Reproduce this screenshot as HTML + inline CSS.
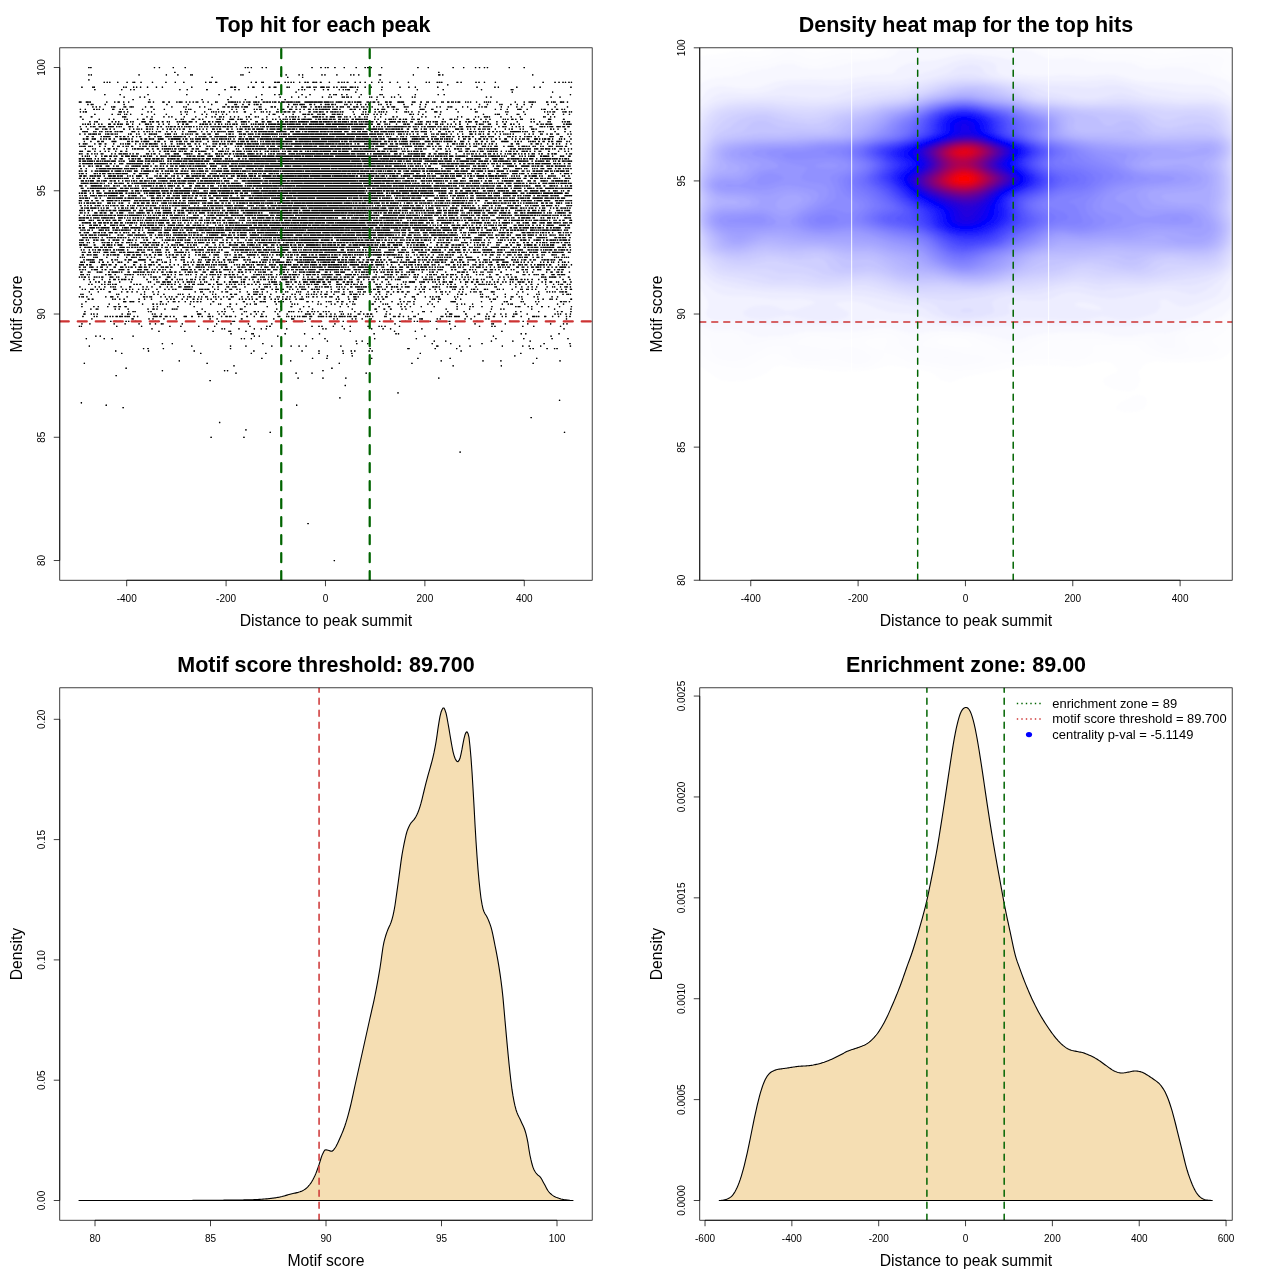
<!DOCTYPE html>
<html><head><meta charset="utf-8"><title>Motif enrichment</title>
<style>html,body{margin:0;padding:0;background:#fff;overflow:hidden}svg{display:block}</style></head><body>
<svg width="1280" height="1280" viewBox="0 0 1280 1280" font-family="'Liberation Sans', Arial, Helvetica, sans-serif" fill="#000">
<defs><filter id="bl" x="-5%" y="-5%" width="110%" height="110%"><feGaussianBlur stdDeviation="1.2"/></filter></defs>
<rect width="1280" height="1280" fill="#fff"/>
<clipPath id="cb1"><rect x="59.76" y="47.81" width="532.43" height="532.43"/></clipPath>
<clipPath id="cb2"><rect x="699.76" y="47.81" width="532.43" height="532.43"/></clipPath>
<clipPath id="cb3"><rect x="59.76" y="687.81" width="532.43" height="532.43"/></clipPath>
<clipPath id="cb4"><rect x="699.76" y="687.81" width="532.43" height="532.43"/></clipPath>
<defs><path id="pts" transform="matrix(0.2485 0 0 2.4650 76.330 67.53)" d="M48 0h5m3 0h5m251 0h5m15 0h5m51 0h5m43 0h5m237 0h5m5 0h5m9 0h5m39 0h5m11 0h5m179 0h5m31 0h5m13 0h5m5 0h5m23 0h5m33 0h5m43 0h5m31 0h5m5 0h9m5 0h5m37 0h5m141 0h5m37 0h5m95 0h5m37 0h5m43 0h5m11 0h5m15 0h5m7 0h5m83 0h5m55 0h5M394 2h5m295 0h5m757 0h5M48 3h5m5 0h5m187 0h5m105 0h5m41 0h5m47 0h5m1 0h5m191 0h5m3 0h5m147 0h5m17 0h5m47 0h5m9 0h5m73 0h5m7 0h5m43 0h5m51 0h5m7 0h5m15 0h5m39 0h5m33 0h5m1 0h5m127 0h5m97 0h9m7 0h5m357 0h5M544 4h5m299 0h5m55 0h5M48 5h5m1167 0h5M110 6h5m7 0h5m5 0h5m27 0h5m33 0h5m19 0h5m1 0h5m21 0h5m41 0h5m49 0h5m33 0h5m29 0h5m83 0h5m11 0h5m1 0h5m13 0h9m135 0h5m13 0h7m17 0h5m1 0h5m41 0h9m3 0h11m19 0h5m7 0h5m7 0h5m5 0h5m19 0h5m17 0h7m3 0h7m15 0h9m3 0h7m11 0h7m29 0h5m31 0h7m7 0h5m5 0h5m7 0h7m25 0h5m15 0h5m15 0h5m21 0h5m23 0h5m9 0h5m27 0h5m25 0h5m39 0h5m67 0h5m7 0h5m27 0h5m3 0h7m3 0h5m57 0h7m9 0h5m55 0h5m7 0h5m17 0h5m39 0h5m187 0h5m43 0h5m11 0h5m11 0h5m5 0h5m9 0h5m5 0h5M1492 7h5M20 8h5m39 0h5m1 0h5m113 0h5m5 0h5m25 0h5m7 0h5m11 0h5m23 0h5m31 0h5m19 0h5m113 0h5m153 0h9m5 0h9m47 0h5m13 0h9m33 0h5m19 0h7m13 0h5m1 0h5m41 0h5m3 0h5m47 0h7m13 0h5m3 0h9m11 0h5m3 0h5m15 0h17m7 0h5m3 0h5m15 0h5m7 0h5m13 0h7m3 0h5m3 0h5m13 0h9m1 0h5m5 0h5m5 0h5m25 0h5m19 0h5m39 0h5m67 0h5m31 0h5m21 0h5m85 0h5m153 0h5m67 0h5m9 0h5m69 0h5m65 0h5m19 0h5m119 0h5M72 9h5m103 0h5m31 0h5m9 0h5m179 0h5m25 0h5m73 0h7m67 0h5m35 0h5m11 0h5m235 0h5m9 0h5m5 0h5m35 0h5m31 0h5m13 0h7m39 0h5m11 0h5m5 0h5m3 0h11m27 0h5m93 0h5m139 0h5m99 0h5m149 0h5m115 0h5m1 0h5M882 10h5m235 0h5m625 0h5m157 0h5M112 11h5m57 0h5m107 0h5m151 0h5m125 0h5m167 0h5m47 0h5m13 0h5m87 0h5m27 0h5m75 0h5m11 0h5m3 0h7m17 0h5m15 0h5m53 0h5m71 0h5m3 0h5m61 0h5m63 0h5m87 0h5m19 0h5m503 0h5M190 12h5m59 0h5m13 0h5m343 0h5m97 0h5m91 0h5m41 0h5m23 0h5m25 0h5m61 0h5m21 0h5m5 0h5m39 0h7m1 0h5m5 0h5m1 0h5m7 0h5m27 0h5m37 0h5m3 0h5m17 0h5m21 0h5m27 0h5m7 0h5m19 0h5m43 0h5m5 0h5m283 0h5m13 0h5m237 0h5m31 0h5M226 13h5m61 0h5m207 0h5m99 0h5m65 0h5m61 0h5m89 0h5m363 0h5M10 14h11m17 0h9m1 0h5m1 0h5m61 0h5m27 0h5m9 0h9m13 0h5m15 0h5m75 0h5m1 0h5m9 0h5m33 0h9m15 0h7m25 0h5m5 0h9m1 0h5m13 0h5m9 0h5m9 0h5m7 0h5m1 0h5m17 0h5m15 0h5m25 0h5m1 0h5m41 0h5m1 0h5m1 0h9m1 0h5m1 0h5m3 0h5m5 0h5m11 0h5m7 0h5m3 0h9m11 0h5m1 0h9m3 0h7m13 0h5m1 0h5m3 0h9m3 0h7m5 0h5m3 0h9m7 0h7m5 0h15m3 0h5m1 0h11m1 0h11m3 0h5m3 0h9m1 0h9m17 0h35m1 0h15m1 0h21m5 0h23m3 0h5m3 0h5m9 0h5m1 0h21m9 0h5m7 0h11m5 0h5m5 0h7m3 0h19m21 0h5m1 0h5m3 0h5m5 0h11m9 0h7m23 0h11m5 0h11m23 0h13m1 0h13m31 0h5m1 0h9m19 0h7m17 0h5m1 0h5m13 0h5m3 0h5m23 0h5m1 0h5m13 0h9m7 0h5m1 0h5m5 0h5m5 0h11m19 0h5m5 0h5m5 0h5m19 0h5m27 0h5m3 0h5m3 0h5m3 0h5m21 0h5m69 0h5m31 0h5m15 0h5m1 0h5m1 0h9m3 0h5m41 0h9m11 0h5m3 0h5m1 0h5m17 0h9m1 0h7m11 0h5M44 15h5m9 0h5m1 0h5m45 0h5m71 0h5m167 0h5m81 0h5m89 0h5m53 0h5m31 0h5m1 0h5m21 0h5m19 0h7m15 0h5m3 0h5m1 0h5m7 0h5m107 0h5m15 0h5m1 0h5m3 0h5m7 0h15m1 0h5m19 0h9m9 0h5m21 0h5m13 0h7m3 0h9m7 0h9m5 0h5m33 0h5m3 0h5m11 0h5m21 0h5m9 0h5m15 0h5m7 0h5m35 0h5m5 0h5m19 0h5m9 0h5m49 0h5m27 0h5m29 0h5m17 0h5m211 0h5m27 0h5m45 0h5m3 0h5m31 0h5m21 0h5m23 0h5m27 0h5m59 0h5m29 0h5M64 16h5m9 0h5m9 0h5m43 0h5m3 0h9m33 0h5m1 0h5m13 0h5m1 0h5m1 0h5m45 0h5m17 0h9m75 0h5m43 0h5m5 0h5m49 0h5m15 0h5m69 0h5m1 0h5m9 0h9m7 0h9m5 0h5m1 0h5m1 0h5m9 0h5m5 0h17m43 0h5m1 0h5m37 0h9m5 0h7m19 0h5m21 0h7m11 0h5m11 0h5m17 0h5m3 0h15m15 0h5m13 0h9m3 0h9m3 0h5m5 0h5m1 0h7m3 0h9m1 0h5m5 0h5m11 0h7m7 0h5m1 0h5m1 0h5m13 0h5m1 0h5m13 0h7m3 0h11m11 0h5m3 0h5m9 0h5m15 0h5m39 0h5m13 0h9m9 0h5m1 0h9m35 0h5m1 0h5m3 0h5m43 0h5m17 0h5m41 0h5m9 0h5m27 0h5m3 0h5m1 0h5m39 0h5m15 0h5m41 0h5m7 0h5m7 0h5m1 0h5m55 0h5m23 0h5m29 0h5m15 0h5m33 0h5m91 0h5m45 0h5M14 17h5m15 0h5m29 0h7m5 0h5m5 0h5m11 0h5m33 0h9m21 0h5m5 0h5m13 0h5m57 0h5m41 0h5m37 0h5m81 0h5m7 0h5m3 0h5m67 0h5m3 0h5m25 0h5m51 0h5m13 0h5m25 0h5m37 0h5m5 0h5m7 0h5m1 0h5m13 0h5m43 0h5m13 0h5m1 0h5m19 0h13m13 0h7m9 0h5m11 0h5m13 0h11m9 0h5m5 0h9m5 0h7m3 0h11m1 0h11m1 0h5m1 0h5m9 0h5m1 0h9m1 0h5m7 0h5m37 0h11m5 0h9m13 0h5m11 0h5m1 0h9m11 0h5m15 0h5m5 0h7m11 0h9m1 0h5m31 0h5m7 0h5m1 0h5m29 0h5m51 0h7m1 0h5m1 0h5m27 0h9m53 0h5m31 0h5m55 0h5m11 0h5m77 0h5m17 0h5m21 0h5m37 0h5m1 0h11m21 0h5m53 0h5m5 0h9m23 0h5m13 0h9m13 0h5m5 0h5M14 18h5m7 0h5m3 0h9m127 0h13m7 0h5m9 0h5m77 0h5m9 0h5m113 0h5m13 0h5m3 0h5m25 0h5m35 0h5m23 0h5m3 0h5m5 0h5m5 0h5m7 0h5m3 0h7m17 0h5m13 0h5m7 0h5m25 0h9m33 0h5m21 0h5m3 0h5m9 0h5m7 0h5m23 0h5m1 0h5m9 0h5m5 0h11m5 0h5m1 0h5m9 0h5m1 0h5m17 0h5m31 0h9m11 0h5m3 0h9m5 0h11m3 0h5m11 0h7m9 0h5m1 0h7m3 0h9m3 0h5m5 0h5m3 0h7m37 0h5m35 0h5m5 0h5m7 0h5m21 0h5m11 0h7m3 0h5m3 0h5m7 0h5m35 0h5m29 0h5m1 0h5m3 0h5m9 0h5m23 0h5m23 0h5m31 0h13m11 0h5m65 0h5m65 0h5m1 0h5m111 0h5m3 0h5m59 0h5m79 0h5m7 0h5m5 0h5m7 0h5m1 0h5m29 0h5m3 0h9m9 0h5m3 0h5M72 19h5m65 0h5m19 0h5m3 0h5m13 0h5m3 0h5m11 0h5m41 0h5m45 0h5m43 0h5m55 0h5m17 0h5m57 0h5m13 0h5m33 0h5m21 0h5m11 0h5m93 0h5m69 0h5m11 0h5m1 0h5m29 0h5m35 0h5m35 0h9m1 0h5m5 0h9m5 0h9m17 0h5m3 0h5m5 0h13m27 0h5m1 0h9m5 0h5m1 0h9m5 0h5m43 0h5m25 0h5m1 0h5m5 0h5m5 0h5m19 0h5m7 0h5m11 0h5m13 0h5m93 0h9m5 0h5m15 0h5m13 0h5m65 0h5m169 0h5m43 0h5m3 0h7m1 0h5m25 0h5m37 0h5m1 0h5m21 0h5m87 0h5m15 0h5m37 0h5m19 0h5M14 20h7m37 0h7m119 0h5m1 0h11m81 0h5m15 0h5m43 0h5m15 0h5m7 0h5m45 0h5m41 0h5m37 0h5m19 0h5m7 0h5m13 0h5m1 0h5m5 0h5m23 0h5m11 0h5m11 0h5m27 0h5m5 0h7m19 0h7m5 0h5m29 0h5m45 0h5m23 0h5m9 0h5m5 0h5m1 0h5m3 0h5m7 0h5m21 0h5m27 0h9m1 0h13m3 0h9m5 0h5m9 0h7m9 0h21m11 0h5m1 0h9m11 0h5m3 0h5m9 0h5m15 0h5m11 0h7m15 0h5m5 0h5m27 0h5m17 0h5m45 0h7m9 0h5m57 0h5m33 0h5m11 0h5m33 0h5m9 0h5m71 0h5m11 0h5m51 0h5m7 0h5m19 0h5m1 0h5m1 0h5m3 0h5m41 0h5m37 0h5m31 0h5m89 0h5m1 0h5m17 0h5m11 0h5M24 21h5m61 0h5m35 0h5m13 0h5m39 0h5m5 0h5m37 0h5m17 0h9m21 0h5m1 0h5m91 0h5m17 0h5m3 0h5m31 0h5m1 0h5m17 0h7m7 0h5m53 0h5m3 0h9m7 0h5m23 0h5m1 0h13m13 0h7m3 0h5m1 0h5m15 0h5m11 0h5m41 0h7m11 0h5m19 0h5m7 0h5m13 0h5m7 0h5m3 0h5m3 0h5m7 0h5m5 0h15m7 0h9m7 0h5m1 0h11m3 0h5m1 0h15m15 0h5m5 0h7m1 0h5m5 0h11m1 0h9m5 0h13m3 0h5m1 0h5m11 0h11m5 0h5m1 0h5m3 0h5m1 0h5m13 0h9m5 0h19m1 0h5m1 0h5m3 0h7m1 0h9m25 0h5m9 0h5m25 0h5m9 0h9m1 0h5m3 0h5m3 0h5m11 0h9m7 0h5m3 0h9m17 0h5m3 0h5m11 0h5m1 0h5m91 0h5m23 0h5m1 0h5m7 0h5m5 0h5m35 0h5m1 0h5m17 0h5m23 0h5m15 0h5m11 0h5m49 0h5m3 0h5m5 0h5m11 0h9m7 0h5m15 0h5m1 0h5m31 0h5m5 0h5m55 0h13m47 0h7M52 22h5m15 0h5m3 0h7m55 0h5m9 0h5m7 0h5m29 0h5m9 0h5m5 0h5m31 0h9m1 0h7m15 0h7m3 0h9m9 0h5m1 0h5m11 0h7m13 0h5m3 0h5m27 0h5m3 0h7m5 0h13m1 0h5m9 0h9m1 0h5m13 0h5m25 0h5m1 0h5m9 0h9m7 0h5m9 0h5m1 0h9m1 0h7m25 0h11m21 0h5m17 0h5m1 0h11m1 0h5m7 0h5m23 0h5m1 0h5m15 0h5m1 0h5m11 0h11m1 0h5m23 0h7m5 0h13m7 0h7m1 0h5m5 0h9m1 0h5m1 0h5m3 0h5m5 0h11m1 0h17m1 0h7m1 0h5m7 0h31m3 0h13m3 0h5m1 0h13m1 0h5m1 0h5m3 0h5m5 0h11m5 0h7m1 0h5m3 0h5m1 0h15m3 0h5m7 0h9m3 0h5m1 0h7m7 0h5m3 0h5m3 0h5m3 0h5m1 0h7m1 0h5m1 0h9m1 0h5m11 0h5m11 0h5m9 0h9m15 0h15m1 0h9m7 0h5m1 0h7m7 0h5m1 0h5m3 0h5m13 0h5m1 0h5m19 0h5m3 0h5m1 0h5m15 0h5m1 0h5m3 0h5m7 0h5m3 0h5m1 0h7m15 0h7m5 0h5m31 0h5m17 0h7m19 0h5m5 0h9m1 0h5m13 0h11m21 0h5m3 0h5m5 0h5m31 0h5m19 0h5m9 0h5m39 0h5m51 0h5m7 0h5m17 0h5m29 0h5m3 0h5m45 0h5m5 0h5m5 0h7m1 0h5M24 23h5m5 0h5m5 0h7m3 0h5m11 0h5m13 0h5m7 0h5m23 0h11m11 0h7m7 0h9m3 0h5m1 0h5m13 0h5m1 0h5m13 0h5m23 0h5m19 0h9m1 0h7m5 0h5m27 0h5m13 0h5m17 0h5m33 0h5m13 0h7m7 0h11m45 0h7m3 0h9m3 0h5m1 0h5m7 0h7m13 0h5m9 0h7m5 0h5m11 0h5m3 0h5m5 0h5m7 0h5m1 0h5m3 0h7m15 0h5m3 0h5m5 0h5m15 0h5m3 0h5m3 0h7m5 0h5m1 0h9m3 0h7m7 0h5m5 0h7m1 0h11m1 0h13m3 0h11m3 0h21m3 0h7m1 0h25m3 0h13m1 0h7m7 0h7m1 0h5m1 0h5m7 0h13m1 0h9m1 0h15m1 0h21m7 0h21m3 0h49m1 0h5m1 0h9m1 0h19m3 0h7m1 0h9m3 0h5m1 0h13m5 0h5m1 0h5m1 0h9m5 0h7m17 0h13m17 0h5m3 0h5m5 0h5m23 0h5m25 0h5m1 0h5m3 0h5m1 0h5m21 0h5m1 0h5m3 0h9m1 0h7m13 0h5m9 0h5m19 0h5m1 0h5m9 0h5m3 0h5m15 0h5m9 0h5m13 0h5m11 0h7m25 0h5m31 0h5m7 0h5m1 0h5m3 0h5m17 0h7m1 0h5m21 0h5m25 0h9m17 0h7m5 0h5m17 0h5m67 0h7m9 0h5m3 0h5m7 0h9m3 0h5m1 0h9m45 0h5m5 0h5m1 0h5m1 0h5m1 0h5M14 24h5m19 0h5m13 0h5m5 0h5m1 0h5m13 0h11m5 0h11m11 0h5m1 0h9m1 0h7m9 0h5m5 0h5m3 0h5m27 0h11m3 0h5m15 0h5m31 0h9m5 0h5m3 0h9m13 0h9m5 0h7m15 0h5m3 0h5m3 0h11m5 0h9m7 0h9m5 0h5m7 0h5m3 0h5m3 0h9m1 0h5m5 0h5m7 0h5m7 0h5m3 0h5m7 0h5m5 0h7m9 0h5m3 0h5m3 0h5m3 0h5m1 0h5m1 0h7m5 0h15m3 0h9m3 0h11m13 0h5m11 0h5m5 0h5m1 0h15m1 0h9m5 0h7m7 0h7m3 0h5m7 0h5m3 0h11m5 0h11m3 0h9m1 0h7m1 0h5m3 0h5m1 0h9m1 0h17m1 0h5m5 0h5m1 0h5m1 0h11m1 0h13m1 0h31m3 0h29m1 0h7m1 0h9m1 0h17m1 0h13m1 0h49m5 0h7m1 0h27m3 0h9m5 0h5m1 0h5m1 0h49m9 0h9m9 0h7m5 0h5m5 0h5m5 0h7m7 0h5m5 0h15m3 0h5m3 0h15m1 0h11m1 0h11m1 0h5m3 0h5m5 0h11m9 0h7m3 0h5m5 0h5m9 0h5m5 0h7m7 0h5m1 0h5m1 0h11m1 0h5m1 0h5m7 0h5m3 0h7m9 0h7m5 0h5m7 0h5m5 0h5m3 0h5m15 0h15m13 0h9m1 0h5m1 0h5m5 0h9m1 0h5m11 0h5m11 0h5m1 0h5m3 0h5m3 0h5m5 0h5m25 0h5m11 0h9m3 0h5m21 0h5m11 0h5m7 0h7m9 0h5m23 0h5m1 0h5m29 0h5m1 0h9m3 0h5m7 0h5m5 0h5m1 0h9m13 0h11m1 0h5m7 0h11m9 0h9M16 25h7m21 0h5m27 0h7m1 0h5m15 0h5m5 0h11m9 0h5m11 0h5m33 0h7m17 0h5m11 0h5m9 0h5m3 0h5m5 0h5m15 0h9m5 0h5m5 0h5m15 0h5m17 0h5m13 0h5m5 0h9m7 0h5m9 0h5m5 0h5m9 0h9m17 0h5m25 0h5m5 0h5m9 0h5m9 0h5m19 0h11m7 0h5m5 0h9m21 0h9m11 0h5m17 0h5m5 0h13m9 0h7m5 0h5m1 0h5m7 0h11m5 0h17m1 0h11m13 0h5m7 0h5m1 0h7m1 0h9m5 0h21m7 0h9m3 0h5m1 0h11m3 0h15m3 0h5m7 0h27m1 0h5m1 0h85m3 0h5m1 0h9m1 0h19m1 0h35m1 0h5m1 0h5m7 0h5m1 0h23m1 0h11m3 0h5m11 0h5m1 0h5m1 0h9m1 0h21m3 0h5m1 0h9m1 0h5m9 0h9m3 0h5m3 0h5m1 0h9m1 0h5m1 0h7m1 0h9m3 0h9m15 0h9m19 0h5m1 0h9m13 0h5m7 0h7m1 0h5m11 0h5m5 0h7m9 0h5m11 0h5m5 0h9m1 0h5m3 0h5m27 0h17m5 0h11m15 0h5m7 0h5m11 0h5m11 0h5m1 0h5m7 0h5m3 0h5m7 0h5m1 0h5m19 0h5m35 0h5m11 0h5m5 0h7m27 0h5m7 0h5m29 0h7m1 0h5m5 0h5m53 0h7m5 0h5m13 0h5m23 0h7M24 26h5m1 0h5m1 0h5m1 0h5m21 0h5m3 0h5m11 0h5m3 0h5m11 0h5m3 0h5m5 0h9m11 0h5m3 0h7m5 0h13m35 0h9m1 0h5m11 0h5m17 0h5m7 0h7m3 0h5m7 0h5m11 0h5m5 0h5m1 0h5m21 0h5m15 0h5m9 0h5m25 0h5m19 0h5m1 0h5m1 0h5m1 0h9m1 0h5m19 0h5m17 0h5m13 0h5m7 0h5m7 0h11m3 0h5m3 0h5m3 0h5m9 0h7m1 0h9m1 0h5m15 0h5m1 0h11m17 0h5m1 0h5m11 0h5m7 0h11m5 0h7m1 0h9m1 0h5m1 0h13m3 0h9m1 0h13m9 0h21m1 0h5m1 0h7m1 0h5m15 0h15m7 0h19m7 0h5m5 0h11m3 0h9m1 0h19m1 0h13m5 0h9m1 0h5m1 0h11m3 0h9m3 0h11m3 0h9m1 0h23m9 0h11m1 0h5m13 0h7m1 0h7m7 0h5m1 0h9m5 0h21m13 0h9m5 0h9m1 0h9m7 0h7m1 0h19m3 0h7m1 0h19m7 0h5m1 0h9m1 0h5m1 0h9m3 0h5m3 0h7m11 0h9m7 0h5m3 0h5m9 0h5m1 0h5m1 0h5m1 0h7m13 0h5m27 0h11m19 0h5m5 0h9m9 0h5m21 0h5m5 0h5m25 0h11m5 0h5m3 0h5m11 0h5m3 0h5m3 0h5m17 0h7m9 0h7m9 0h5m7 0h5m7 0h5m27 0h5m1 0h21m1 0h9m1 0h5m5 0h5m5 0h5m3 0h5m17 0h9m17 0h5m1 0h5m5 0h5m43 0h5m35 0h5m17 0h5M12 27h5m15 0h5m11 0h5m1 0h7m3 0h13m1 0h5m5 0h5m1 0h5m17 0h5m3 0h9m5 0h5m1 0h5m5 0h5m3 0h5m41 0h5m3 0h7m17 0h5m5 0h5m19 0h5m13 0h5m1 0h9m3 0h9m1 0h5m31 0h5m3 0h9m1 0h7m11 0h5m3 0h5m19 0h7m7 0h5m3 0h5m5 0h5m3 0h5m11 0h11m17 0h5m1 0h5m9 0h5m1 0h7m17 0h9m1 0h5m29 0h5m5 0h11m5 0h5m21 0h7m1 0h5m3 0h13m7 0h5m1 0h9m1 0h7m7 0h5m5 0h11m5 0h11m1 0h23m1 0h13m1 0h9m1 0h5m5 0h5m3 0h5m3 0h15m3 0h9m11 0h67m1 0h19m1 0h33m1 0h21m5 0h9m1 0h53m7 0h13m1 0h15m1 0h15m1 0h39m5 0h19m1 0h9m3 0h9m1 0h7m1 0h7m9 0h11m3 0h5m3 0h5m3 0h5m15 0h5m1 0h11m5 0h5m7 0h7m5 0h5m9 0h5m11 0h7m23 0h5m1 0h5m17 0h5m3 0h5m7 0h5m1 0h5m7 0h9m1 0h9m3 0h5m13 0h5m21 0h5m15 0h5m25 0h13m9 0h5m9 0h5m1 0h5m7 0h5m13 0h9m21 0h5m15 0h5m9 0h5m3 0h5m3 0h5m5 0h5m7 0h5m41 0h5m13 0h5m11 0h5m25 0h5m1 0h5m15 0h5m9 0h5m1 0h5m15 0h5m1 0h5m33 0h5m7 0h5M40 28h9m13 0h9m27 0h5m5 0h9m1 0h13m1 0h5m19 0h11m7 0h7m7 0h9m9 0h5m13 0h7m9 0h5m7 0h9m29 0h7m17 0h5m7 0h9m1 0h7m15 0h11m1 0h5m3 0h5m7 0h13m1 0h11m1 0h5m1 0h5m5 0h9m11 0h5m23 0h5m7 0h5m3 0h5m3 0h5m1 0h9m13 0h9m11 0h17m3 0h17m1 0h11m7 0h11m1 0h11m3 0h5m11 0h13m7 0h5m13 0h5m1 0h9m5 0h5m1 0h21m5 0h11m1 0h21m1 0h5m5 0h5m3 0h5m3 0h5m7 0h25m1 0h5m5 0h17m1 0h15m1 0h17m1 0h29m1 0h7m1 0h59m1 0h37m5 0h27m1 0h25m1 0h23m5 0h21m3 0h29m5 0h7m1 0h5m1 0h11m5 0h5m1 0h9m5 0h5m9 0h5m1 0h5m3 0h5m21 0h5m11 0h5m3 0h7m7 0h5m13 0h5m3 0h13m1 0h7m3 0h5m7 0h11m1 0h5m3 0h7m13 0h5m1 0h7m3 0h5m15 0h5m3 0h11m5 0h7m1 0h11m7 0h7m15 0h7m9 0h9m3 0h9m3 0h9m7 0h7m27 0h9m1 0h5m3 0h5m9 0h9m3 0h5m1 0h5m19 0h5m29 0h5m1 0h9m5 0h5m7 0h5m13 0h5m13 0h5m5 0h5m1 0h7m3 0h5m11 0h5m9 0h5m41 0h9m1 0h7m25 0h5m1 0h5m25 0h5M26 29h7m5 0h11m13 0h7m1 0h9m17 0h5m7 0h5m5 0h5m7 0h9m11 0h5m19 0h11m3 0h5m1 0h11m5 0h5m7 0h5m31 0h7m9 0h11m7 0h5m1 0h5m3 0h7m15 0h7m1 0h15m19 0h5m5 0h11m1 0h27m9 0h5m5 0h9m11 0h5m3 0h5m7 0h5m1 0h9m1 0h7m5 0h11m3 0h5m1 0h5m13 0h5m3 0h5m7 0h5m5 0h5m1 0h7m1 0h5m3 0h5m1 0h5m3 0h5m3 0h5m9 0h5m15 0h13m3 0h7m5 0h11m3 0h13m1 0h9m11 0h5m5 0h15m1 0h5m1 0h15m1 0h13m3 0h5m1 0h5m1 0h21m1 0h5m9 0h15m1 0h33m5 0h85m5 0h53m1 0h15m1 0h41m1 0h23m5 0h21m1 0h9m1 0h21m1 0h9m5 0h5m3 0h15m5 0h5m1 0h5m1 0h9m15 0h33m3 0h5m5 0h5m3 0h21m19 0h7m1 0h19m3 0h9m3 0h9m11 0h7m9 0h7m5 0h5m1 0h13m5 0h5m1 0h5m5 0h5m3 0h9m3 0h5m5 0h5m21 0h5m15 0h5m1 0h5m11 0h9m17 0h5m9 0h11m9 0h7m5 0h7m11 0h5m13 0h7m9 0h5m15 0h11m19 0h5m9 0h5m11 0h5m7 0h5m1 0h5m7 0h5m1 0h5m19 0h15m5 0h5m7 0h5m3 0h9m5 0h11m7 0h5m23 0h5m3 0h5m7 0h5m21 0h5M30 30h5m21 0h5m23 0h9m7 0h5m1 0h5m31 0h5m1 0h13m43 0h5m1 0h5m7 0h7m7 0h9m1 0h5m9 0h5m5 0h17m1 0h5m21 0h7m5 0h11m17 0h5m19 0h5m1 0h5m13 0h5m5 0h13m9 0h5m3 0h5m13 0h13m7 0h5m1 0h5m5 0h7m25 0h5m15 0h9m3 0h5m3 0h5m9 0h5m7 0h5m9 0h5m1 0h5m5 0h9m3 0h5m9 0h5m5 0h17m7 0h11m7 0h11m3 0h7m3 0h5m9 0h5m5 0h5m5 0h21m3 0h15m3 0h27m1 0h29m1 0h9m11 0h11m3 0h21m1 0h23m1 0h5m3 0h61m3 0h7m1 0h41m5 0h7m3 0h15m7 0h13m3 0h15m1 0h7m1 0h25m1 0h15m1 0h5m1 0h21m1 0h7m1 0h5m1 0h5m11 0h11m5 0h9m5 0h5m7 0h9m9 0h5m5 0h5m1 0h5m1 0h13m9 0h15m1 0h7m3 0h5m3 0h5m21 0h9m1 0h13m7 0h9m3 0h5m1 0h5m3 0h5m3 0h5m7 0h7m3 0h9m1 0h15m7 0h7m17 0h17m15 0h5m23 0h11m13 0h9m13 0h5m15 0h5m3 0h5m27 0h7m1 0h21m25 0h5m5 0h7m7 0h5m25 0h5m3 0h5m3 0h7m3 0h5m9 0h7m11 0h9m13 0h7m5 0h9m13 0h15m1 0h5m19 0h5m5 0h5M10 31h5m11 0h7m1 0h5m1 0h5m27 0h5m13 0h11m13 0h7m27 0h5m23 0h5m5 0h5m5 0h5m3 0h13m19 0h5m13 0h5m7 0h5m7 0h9m5 0h15m3 0h11m1 0h5m15 0h5m9 0h5m19 0h7m17 0h5m3 0h5m1 0h5m1 0h5m3 0h5m9 0h9m1 0h5m15 0h7m9 0h5m13 0h5m5 0h5m23 0h5m3 0h5m1 0h5m7 0h9m3 0h5m1 0h9m7 0h5m5 0h11m13 0h29m3 0h9m3 0h19m3 0h7m1 0h19m5 0h5m3 0h7m1 0h5m1 0h5m1 0h7m1 0h7m3 0h13m3 0h5m1 0h7m1 0h21m5 0h9m3 0h5m3 0h43m1 0h5m1 0h5m1 0h17m1 0h15m1 0h5m1 0h41m3 0h23m1 0h13m3 0h9m3 0h13m1 0h13m3 0h15m3 0h7m11 0h5m5 0h9m19 0h13m1 0h9m1 0h7m3 0h13m1 0h9m7 0h19m3 0h7m11 0h5m1 0h7m9 0h11m5 0h11m1 0h15m1 0h7m7 0h5m7 0h9m3 0h11m3 0h7m3 0h11m15 0h5m5 0h9m15 0h11m31 0h5m15 0h13m5 0h5m5 0h5m3 0h11m9 0h5m7 0h5m13 0h5m5 0h5m3 0h7m5 0h5m9 0h7m11 0h5m5 0h7m11 0h5m55 0h9m13 0h5m1 0h7m45 0h7m13 0h13m7 0h5m21 0h5m15 0h7m9 0h5m7 0h5m23 0h5m13 0h5M12 32h5m3 0h5m3 0h9m11 0h5m1 0h5m3 0h5m25 0h5m17 0h5m25 0h5m15 0h5m1 0h5m11 0h5m7 0h5m3 0h5m9 0h9m25 0h5m7 0h5m3 0h9m9 0h5m5 0h5m1 0h5m3 0h7m1 0h5m15 0h5m3 0h13m7 0h5m3 0h5m3 0h9m7 0h5m1 0h5m17 0h9m11 0h5m1 0h7m17 0h5m7 0h7m23 0h7m3 0h5m9 0h13m13 0h5m17 0h9m33 0h5m5 0h7m3 0h9m11 0h5m1 0h11m1 0h13m1 0h9m3 0h9m3 0h7m3 0h7m1 0h5m9 0h9m5 0h11m1 0h7m11 0h11m1 0h17m1 0h9m1 0h7m1 0h11m9 0h21m1 0h7m5 0h39m3 0h15m7 0h23m1 0h17m5 0h23m3 0h19m1 0h7m1 0h23m3 0h19m1 0h9m1 0h15m1 0h15m3 0h9m1 0h9m3 0h9m7 0h5m1 0h23m1 0h5m15 0h9m1 0h11m1 0h5m3 0h9m19 0h5m5 0h5m1 0h13m1 0h9m9 0h5m1 0h5m3 0h17m1 0h5m13 0h15m7 0h5m7 0h5m9 0h5m1 0h5m19 0h5m1 0h5m5 0h5m21 0h5m3 0h5m1 0h5m1 0h5m1 0h5m3 0h5m13 0h5m11 0h5m1 0h9m19 0h11m1 0h5m7 0h5m5 0h5m11 0h13m23 0h5m13 0h7m1 0h15m19 0h5m9 0h15m3 0h5m5 0h5m11 0h5m3 0h5m17 0h5m5 0h5m19 0h9m3 0h5m13 0h5m1 0h5m3 0h5m3 0h5m9 0h9M34 33h5m25 0h5m5 0h5m31 0h5m11 0h11m11 0h7m5 0h5m35 0h5m19 0h5m3 0h9m3 0h11m3 0h5m1 0h7m11 0h9m13 0h7m13 0h9m11 0h5m3 0h5m1 0h7m1 0h9m1 0h5m3 0h5m5 0h9m7 0h5m3 0h21m3 0h5m17 0h9m7 0h5m1 0h7m27 0h5m1 0h5m7 0h5m1 0h7m11 0h7m17 0h5m11 0h5m3 0h5m27 0h5m3 0h5m15 0h5m5 0h9m1 0h5m1 0h7m3 0h9m3 0h9m1 0h23m1 0h13m7 0h17m1 0h13m1 0h13m3 0h5m3 0h7m1 0h5m3 0h61m1 0h127m1 0h5m1 0h25m3 0h13m1 0h9m1 0h11m1 0h5m7 0h11m1 0h7m5 0h9m3 0h5m1 0h15m1 0h5m1 0h5m3 0h5m1 0h5m3 0h5m1 0h5m23 0h13m3 0h5m1 0h13m5 0h5m3 0h9m3 0h5m5 0h5m7 0h5m7 0h5m27 0h11m3 0h5m3 0h7m5 0h5m3 0h5m25 0h7m13 0h5m3 0h9m13 0h5m9 0h5m17 0h9m3 0h9m5 0h5m15 0h5m1 0h11m35 0h5m1 0h5m1 0h5m5 0h5m5 0h5m1 0h5m3 0h9m1 0h11m1 0h11m49 0h9m3 0h11m9 0h13m3 0h7m3 0h5m3 0h5m1 0h5m1 0h5m13 0h5m1 0h11m9 0h7m1 0h5m5 0h9m1 0h5m1 0h5m7 0h5m3 0h7m15 0h5m1 0h5m7 0h5m11 0h5m7 0h5M12 34h9m1 0h5m17 0h7m1 0h5m15 0h5m17 0h5m15 0h5m9 0h5m23 0h5m15 0h9m13 0h7m87 0h5m11 0h5m21 0h5m13 0h9m3 0h9m7 0h7m3 0h5m1 0h5m11 0h9m3 0h5m5 0h9m17 0h9m9 0h7m5 0h7m3 0h9m1 0h7m1 0h5m23 0h5m19 0h5m1 0h17m5 0h5m5 0h5m15 0h9m7 0h13m1 0h7m9 0h5m5 0h5m3 0h9m1 0h5m7 0h5m3 0h7m9 0h5m15 0h5m3 0h9m7 0h5m3 0h11m3 0h5m3 0h5m11 0h5m5 0h5m7 0h15m9 0h17m7 0h11m11 0h5m3 0h9m3 0h5m5 0h5m1 0h19m3 0h13m1 0h33m7 0h17m5 0h11m3 0h27m11 0h7m1 0h31m1 0h9m1 0h5m1 0h29m1 0h5m1 0h5m7 0h13m5 0h15m7 0h5m7 0h11m3 0h15m19 0h7m3 0h5m7 0h9m5 0h5m5 0h9m3 0h9m7 0h9m53 0h7m33 0h9m7 0h5m31 0h9m1 0h5m13 0h11m7 0h5m5 0h5m1 0h5m7 0h5m7 0h5m1 0h9m15 0h5m3 0h5m1 0h5m3 0h5m3 0h5m1 0h5m13 0h5m15 0h5m5 0h5m1 0h7m7 0h5m7 0h7m15 0h5m1 0h7m3 0h9m7 0h5m13 0h5m13 0h5m1 0h5m27 0h7m33 0h5m21 0h5m9 0h5M10 35h7m3 0h5m17 0h7m11 0h5m7 0h5m5 0h5m11 0h5m1 0h5m31 0h5m9 0h5m11 0h9m1 0h5m3 0h7m1 0h5m1 0h5m7 0h5m7 0h5m9 0h5m1 0h5m29 0h7m1 0h5m7 0h5m5 0h9m13 0h5m21 0h5m3 0h9m17 0h11m1 0h9m19 0h5m1 0h13m1 0h7m3 0h5m23 0h9m17 0h11m5 0h7m19 0h13m3 0h5m3 0h5m7 0h9m1 0h5m5 0h9m7 0h5m5 0h5m1 0h7m3 0h13m1 0h7m11 0h23m1 0h5m7 0h9m5 0h11m9 0h5m9 0h5m3 0h7m3 0h9m7 0h9m1 0h5m1 0h5m1 0h15m11 0h9m1 0h17m3 0h9m1 0h7m1 0h61m1 0h29m3 0h21m3 0h29m1 0h51m3 0h19m5 0h5m1 0h5m1 0h9m1 0h13m7 0h5m7 0h5m7 0h47m1 0h7m3 0h5m1 0h5m15 0h15m7 0h9m5 0h5m15 0h5m1 0h5m1 0h5m1 0h5m1 0h19m1 0h5m3 0h19m13 0h9m11 0h5m1 0h5m7 0h11m1 0h5m1 0h5m3 0h13m5 0h5m21 0h5m27 0h5m7 0h5m3 0h5m5 0h5m1 0h5m7 0h5m9 0h5m13 0h5m1 0h5m7 0h7m1 0h5m9 0h7m7 0h5m9 0h5m13 0h5m5 0h5m3 0h9m7 0h13m7 0h5m7 0h5m7 0h7m9 0h5m9 0h7m1 0h5m15 0h5m5 0h7m19 0h7m9 0h7m3 0h11m37 0h5m9 0h5m1 0h5M22 36h5m7 0h5m3 0h5m3 0h5m21 0h5m19 0h5m7 0h13m7 0h11m7 0h5m3 0h7m15 0h9m7 0h19m5 0h13m1 0h5m3 0h5m11 0h5m5 0h11m5 0h5m3 0h7m1 0h5m17 0h5m11 0h9m3 0h5m3 0h5m9 0h5m3 0h9m1 0h7m1 0h5m3 0h5m1 0h9m23 0h5m3 0h11m5 0h5m1 0h5m7 0h5m1 0h5m3 0h15m13 0h5m1 0h15m13 0h5m1 0h11m5 0h9m19 0h5m17 0h5m3 0h15m3 0h7m3 0h17m3 0h7m1 0h29m1 0h5m1 0h9m5 0h5m1 0h11m3 0h29m5 0h33m1 0h23m1 0h13m1 0h31m3 0h9m3 0h27m1 0h5m3 0h31m1 0h47m7 0h83m3 0h53m1 0h5m1 0h5m1 0h17m3 0h15m5 0h17m1 0h11m1 0h5m1 0h5m1 0h11m1 0h5m1 0h13m9 0h5m1 0h5m1 0h13m1 0h9m5 0h27m3 0h17m11 0h9m3 0h5m3 0h5m5 0h5m1 0h9m3 0h11m5 0h5m3 0h7m7 0h17m9 0h5m3 0h5m1 0h11m1 0h13m5 0h5m15 0h7m3 0h7m1 0h5m1 0h5m3 0h7m1 0h5m1 0h5m3 0h7m7 0h5m3 0h15m1 0h9m3 0h11m5 0h5m5 0h5m3 0h5m17 0h5m1 0h7m19 0h5m5 0h5m7 0h5m9 0h5m3 0h9m1 0h9m21 0h9m3 0h17m1 0h7m11 0h5m27 0h5m1 0h5m1 0h5m17 0h9M10 37h9m3 0h5m1 0h5m7 0h11m1 0h5m1 0h5m11 0h5m7 0h5m9 0h5m1 0h5m1 0h5m17 0h5m15 0h7m13 0h13m23 0h5m7 0h11m3 0h5m5 0h13m17 0h11m3 0h9m7 0h11m3 0h15m5 0h5m1 0h5m15 0h9m3 0h13m1 0h7m5 0h11m7 0h5m5 0h5m1 0h9m1 0h9m1 0h5m3 0h13m1 0h5m3 0h5m1 0h5m5 0h11m7 0h19m5 0h7m3 0h7m1 0h9m3 0h9m13 0h7m1 0h5m3 0h5m3 0h7m21 0h9m9 0h5m5 0h7m9 0h17m1 0h7m1 0h15m1 0h5m1 0h5m1 0h7m1 0h49m1 0h61m1 0h5m5 0h15m1 0h119m1 0h129m3 0h69m5 0h5m1 0h7m1 0h25m3 0h7m1 0h15m1 0h39m1 0h9m3 0h11m3 0h7m1 0h5m3 0h7m3 0h5m1 0h7m3 0h5m1 0h19m3 0h7m7 0h5m1 0h13m11 0h5m7 0h17m5 0h11m13 0h7m1 0h7m1 0h5m23 0h13m1 0h7m1 0h7m5 0h15m1 0h9m19 0h5m3 0h5m13 0h23m7 0h11m1 0h5m15 0h9m5 0h5m1 0h9m1 0h7m1 0h11m5 0h5m5 0h9m5 0h5m5 0h11m1 0h5m11 0h5m11 0h5m3 0h5m1 0h5m1 0h5m1 0h7m1 0h11m3 0h5m1 0h9m1 0h7m5 0h7m5 0h5m5 0h11m3 0h5M10 38h9m5 0h15m3 0h7m1 0h17m3 0h5m5 0h11m3 0h5m3 0h5m3 0h11m1 0h9m1 0h5m3 0h19m11 0h5m3 0h5m3 0h9m17 0h5m1 0h19m7 0h11m1 0h13m7 0h7m3 0h11m3 0h5m1 0h7m1 0h5m1 0h9m3 0h7m1 0h5m3 0h5m13 0h7m3 0h7m7 0h5m3 0h27m3 0h9m1 0h9m5 0h17m3 0h27m1 0h11m3 0h21m17 0h11m1 0h15m1 0h5m3 0h7m1 0h11m1 0h17m1 0h11m1 0h19m1 0h17m1 0h21m1 0h23m1 0h37m1 0h45m5 0h15m3 0h31m1 0h243m3 0h35m1 0h5m3 0h33m1 0h45m1 0h13m1 0h11m1 0h19m5 0h7m5 0h19m5 0h5m5 0h15m1 0h5m7 0h13m1 0h7m1 0h15m11 0h5m1 0h17m1 0h25m3 0h15m1 0h7m5 0h9m1 0h19m7 0h5m7 0h7m5 0h39m5 0h5m3 0h15m9 0h19m3 0h17m7 0h5m9 0h15m3 0h7m1 0h19m1 0h15m3 0h5m9 0h9m1 0h5m7 0h17m1 0h9m1 0h5m1 0h7m13 0h5m9 0h7m3 0h9m1 0h11m1 0h5m7 0h9m1 0h5m13 0h5m3 0h5m7 0h9m7 0h9m1 0h5m3 0h5m1 0h11m1 0h5M12 39h5m7 0h7m1 0h5m1 0h29m5 0h9m1 0h33m1 0h5m1 0h5m7 0h9m9 0h5m15 0h5m1 0h11m13 0h9m1 0h9m1 0h9m1 0h7m1 0h27m9 0h5m5 0h11m11 0h5m23 0h15m1 0h7m7 0h5m5 0h9m3 0h5m1 0h9m1 0h13m5 0h5m1 0h7m3 0h9m3 0h5m1 0h19m5 0h7m1 0h9m3 0h17m7 0h5m5 0h23m5 0h11m1 0h9m1 0h9m1 0h15m1 0h5m7 0h15m1 0h5m1 0h7m3 0h7m1 0h39m1 0h7m5 0h27m1 0h13m1 0h21m3 0h147m1 0h49m1 0h149m1 0h23m5 0h13m1 0h33m1 0h51m1 0h17m1 0h27m1 0h5m3 0h5m5 0h7m5 0h5m3 0h5m1 0h7m5 0h9m3 0h17m11 0h9m3 0h5m9 0h9m3 0h17m7 0h9m1 0h9m1 0h5m5 0h13m3 0h15m1 0h19m5 0h15m7 0h9m1 0h19m1 0h5m7 0h5m1 0h9m5 0h5m1 0h13m5 0h7m9 0h9m1 0h5m5 0h7m7 0h5m7 0h5m1 0h5m1 0h25m9 0h5m15 0h7m9 0h9m9 0h11m5 0h9m5 0h21m5 0h9m1 0h27m11 0h11m3 0h5m3 0h7m13 0h5m11 0h11M10 40h9m9 0h5m15 0h9m5 0h5m11 0h13m3 0h9m15 0h5m1 0h9m15 0h5m7 0h5m1 0h5m27 0h5m3 0h5m11 0h5m1 0h7m1 0h13m1 0h9m7 0h9m1 0h15m7 0h5m13 0h5m1 0h5m9 0h7m5 0h5m9 0h7m9 0h5m1 0h7m7 0h9m7 0h25m5 0h5m3 0h11m5 0h5m3 0h7m1 0h19m1 0h9m1 0h9m15 0h11m1 0h7m1 0h7m19 0h9m3 0h9m9 0h19m3 0h11m3 0h9m1 0h5m1 0h15m3 0h39m1 0h7m1 0h5m1 0h17m3 0h73m7 0h19m1 0h7m5 0h37m3 0h113m1 0h89m1 0h13m1 0h23m3 0h51m3 0h15m1 0h5m1 0h7m5 0h13m1 0h13m9 0h23m1 0h11m1 0h13m7 0h5m3 0h5m1 0h9m7 0h9m1 0h5m3 0h5m3 0h5m9 0h5m7 0h11m43 0h7m1 0h9m1 0h5m1 0h9m1 0h15m7 0h7m7 0h5m1 0h17m1 0h5m1 0h5m3 0h5m13 0h5m1 0h7m7 0h11m3 0h15m3 0h5m23 0h5m9 0h11m1 0h5m7 0h5m15 0h5m1 0h21m5 0h7m17 0h15m1 0h17m9 0h5m1 0h5m3 0h5m3 0h9m5 0h11m13 0h9m1 0h5m3 0h9m7 0h11m3 0h9m1 0h5m1 0h5m1 0h7m7 0h5m3 0h5M16 41h7m15 0h5m37 0h5m5 0h13m1 0h17m3 0h17m3 0h11m1 0h5m1 0h23m7 0h5m1 0h9m1 0h5m3 0h15m1 0h5m3 0h5m15 0h13m7 0h11m19 0h7m5 0h5m5 0h7m1 0h5m1 0h9m13 0h7m3 0h5m1 0h5m5 0h9m3 0h5m13 0h9m5 0h5m7 0h5m3 0h5m1 0h5m1 0h5m5 0h5m5 0h11m3 0h5m11 0h9m5 0h7m5 0h7m1 0h7m9 0h5m5 0h5m7 0h17m13 0h15m3 0h13m3 0h5m1 0h5m15 0h11m1 0h19m7 0h7m3 0h13m1 0h5m9 0h9m1 0h25m5 0h19m1 0h119m1 0h43m3 0h37m3 0h13m1 0h13m3 0h103m3 0h5m1 0h15m1 0h5m3 0h13m1 0h49m1 0h9m1 0h21m3 0h17m1 0h25m3 0h13m5 0h7m1 0h11m3 0h11m3 0h15m7 0h5m1 0h23m5 0h5m1 0h5m13 0h5m13 0h17m1 0h5m1 0h7m1 0h5m5 0h9m11 0h11m9 0h15m9 0h5m3 0h11m3 0h7m1 0h7m5 0h9m1 0h5m5 0h5m23 0h5m1 0h5m1 0h7m17 0h9m1 0h5m3 0h5m25 0h19m3 0h5m9 0h5m3 0h5m19 0h5m3 0h5m5 0h5m11 0h5m1 0h9m13 0h17m13 0h5m7 0h11m9 0h5m5 0h5m3 0h7m5 0h5M10 42h7m3 0h5m9 0h9m17 0h5m9 0h7m1 0h7m3 0h33m1 0h7m7 0h7m7 0h5m1 0h21m5 0h5m5 0h5m3 0h5m1 0h7m1 0h5m9 0h15m13 0h5m5 0h25m1 0h5m3 0h7m7 0h13m11 0h7m7 0h5m1 0h5m1 0h5m3 0h15m7 0h11m11 0h9m3 0h5m1 0h5m3 0h5m11 0h11m1 0h5m5 0h5m3 0h21m5 0h7m1 0h5m13 0h5m3 0h5m3 0h27m5 0h7m1 0h15m7 0h11m1 0h21m3 0h5m3 0h19m3 0h5m3 0h5m5 0h19m1 0h7m1 0h9m1 0h9m3 0h15m1 0h17m1 0h17m1 0h9m3 0h5m3 0h55m1 0h25m1 0h7m3 0h23m1 0h123m1 0h21m1 0h13m1 0h21m1 0h13m3 0h13m1 0h13m1 0h9m3 0h17m5 0h5m3 0h9m1 0h9m3 0h5m3 0h5m3 0h17m1 0h5m5 0h9m7 0h13m9 0h5m3 0h15m7 0h5m1 0h25m1 0h7m7 0h11m5 0h7m3 0h5m1 0h13m1 0h17m1 0h9m3 0h9m1 0h9m3 0h11m1 0h5m15 0h19m5 0h9m1 0h9m1 0h9m13 0h15m7 0h5m1 0h21m7 0h5m7 0h9m1 0h11m3 0h5m7 0h13m1 0h15m11 0h5m7 0h5m3 0h5m1 0h21m13 0h5m1 0h5m9 0h5m3 0h5m11 0h11m3 0h9m1 0h7m1 0h9m7 0h17m5 0h5m1 0h5m5 0h5m3 0h13m3 0h19m5 0h7m1 0h5M10 43h5m3 0h11m9 0h5m27 0h9m3 0h5m5 0h7m5 0h13m9 0h5m1 0h9m5 0h7m5 0h15m1 0h5m3 0h13m1 0h11m23 0h7m15 0h11m3 0h9m1 0h15m33 0h5m7 0h5m5 0h5m5 0h5m3 0h7m1 0h5m15 0h5m3 0h9m1 0h5m3 0h11m1 0h7m1 0h13m11 0h5m5 0h5m3 0h11m1 0h5m1 0h5m5 0h5m3 0h5m15 0h13m3 0h5m1 0h7m9 0h5m7 0h5m1 0h11m1 0h15m1 0h5m3 0h11m3 0h29m3 0h7m11 0h19m3 0h13m5 0h5m3 0h5m7 0h11m11 0h19m3 0h5m3 0h11m7 0h9m3 0h5m1 0h5m1 0h11m1 0h17m1 0h69m1 0h83m1 0h33m1 0h9m1 0h13m3 0h15m3 0h7m1 0h9m3 0h35m3 0h17m1 0h7m1 0h5m1 0h13m5 0h9m3 0h5m3 0h11m1 0h5m1 0h29m5 0h17m13 0h19m1 0h21m9 0h7m1 0h5m17 0h5m9 0h11m5 0h5m11 0h5m1 0h23m3 0h21m5 0h11m1 0h9m5 0h5m1 0h13m3 0h5m1 0h5m1 0h5m5 0h5m1 0h13m13 0h5m3 0h9m17 0h5m13 0h13m21 0h9m11 0h5m3 0h13m3 0h5m15 0h11m1 0h9m7 0h5m3 0h13m13 0h5m9 0h5m5 0h5m1 0h9m5 0h5m1 0h9m11 0h5m19 0h5m1 0h5m25 0h5m11 0h9m1 0h5m1 0h5m7 0h5M12 44h11m5 0h7m1 0h5m13 0h7m1 0h7m3 0h7m3 0h5m1 0h5m1 0h5m11 0h5m13 0h15m3 0h13m5 0h7m3 0h5m1 0h7m17 0h5m5 0h5m5 0h5m11 0h5m1 0h17m17 0h7m27 0h5m3 0h5m7 0h9m13 0h11m15 0h5m3 0h7m9 0h5m13 0h5m13 0h13m9 0h11m1 0h7m1 0h5m3 0h5m1 0h5m3 0h11m11 0h7m1 0h5m7 0h5m1 0h5m1 0h5m1 0h9m3 0h11m3 0h5m5 0h7m13 0h7m1 0h7m9 0h13m3 0h9m1 0h7m1 0h7m7 0h17m3 0h9m9 0h9m5 0h39m5 0h7m1 0h5m3 0h33m1 0h37m1 0h7m1 0h5m1 0h19m1 0h25m3 0h43m3 0h39m3 0h7m1 0h35m1 0h21m1 0h27m3 0h9m9 0h9m3 0h9m1 0h5m1 0h15m1 0h13m5 0h7m1 0h7m5 0h5m1 0h11m5 0h5m9 0h7m3 0h13m1 0h5m1 0h5m11 0h5m3 0h15m1 0h5m1 0h7m11 0h5m1 0h15m1 0h13m1 0h5m1 0h11m5 0h5m3 0h5m5 0h5m1 0h5m1 0h5m19 0h5m1 0h7m5 0h9m1 0h5m5 0h5m3 0h5m1 0h5m5 0h23m11 0h5m7 0h5m5 0h9m5 0h5m7 0h31m5 0h7m5 0h23m3 0h9m3 0h5m1 0h9m1 0h5m1 0h5m3 0h5m19 0h5m5 0h5m5 0h5m5 0h5m19 0h9m7 0h7m5 0h21m9 0h5m5 0h5m21 0h7m3 0h5m3 0h5m3 0h5m25 0h5m3 0h5m13 0h5M10 45h9m9 0h7m7 0h5m5 0h5m7 0h11m11 0h9m19 0h5m3 0h5m3 0h11m3 0h13m1 0h5m1 0h9m1 0h7m3 0h5m3 0h5m1 0h13m15 0h5m11 0h5m3 0h5m9 0h5m15 0h5m3 0h15m15 0h5m1 0h5m1 0h7m1 0h11m1 0h7m5 0h9m1 0h7m7 0h7m7 0h9m1 0h5m15 0h39m7 0h5m1 0h9m11 0h11m1 0h7m1 0h5m3 0h5m1 0h9m5 0h7m5 0h9m15 0h11m7 0h5m1 0h5m1 0h9m17 0h7m5 0h5m1 0h5m3 0h11m3 0h7m5 0h9m3 0h7m1 0h5m1 0h9m3 0h5m11 0h5m3 0h41m1 0h5m1 0h47m1 0h49m1 0h7m1 0h15m1 0h9m1 0h11m3 0h169m1 0h13m1 0h23m1 0h9m1 0h5m1 0h5m1 0h9m5 0h37m1 0h11m5 0h13m1 0h7m1 0h13m1 0h5m3 0h5m3 0h5m3 0h9m11 0h9m3 0h11m7 0h5m1 0h9m1 0h9m7 0h9m5 0h7m3 0h9m3 0h11m5 0h9m1 0h9m1 0h5m1 0h5m3 0h13m1 0h9m3 0h19m27 0h13m15 0h9m1 0h5m21 0h5m1 0h11m3 0h5m9 0h5m7 0h5m1 0h5m3 0h5m3 0h13m1 0h5m11 0h7m3 0h5m3 0h5m5 0h5m3 0h5m1 0h13m3 0h5m1 0h5m1 0h5m11 0h11m15 0h11m7 0h9m1 0h5m7 0h13m5 0h5m5 0h9m1 0h5m11 0h9m3 0h5m5 0h5m19 0h9m1 0h5m3 0h5M18 46h13m5 0h7m3 0h5m3 0h17m11 0h5m1 0h7m5 0h5m3 0h15m11 0h5m1 0h5m5 0h9m9 0h5m11 0h5m7 0h5m1 0h5m3 0h5m5 0h5m3 0h9m3 0h5m9 0h13m5 0h9m1 0h5m3 0h5m5 0h5m3 0h13m9 0h5m3 0h5m1 0h13m1 0h9m9 0h9m1 0h15m5 0h5m1 0h7m3 0h5m1 0h15m5 0h7m1 0h5m1 0h19m7 0h5m5 0h13m3 0h19m1 0h15m1 0h15m1 0h5m1 0h7m3 0h5m7 0h15m1 0h5m21 0h5m3 0h5m17 0h13m1 0h5m3 0h11m1 0h47m1 0h5m3 0h15m3 0h71m3 0h11m3 0h11m1 0h253m1 0h7m3 0h51m1 0h37m1 0h35m1 0h13m5 0h15m3 0h5m7 0h5m3 0h23m3 0h7m1 0h5m3 0h7m17 0h11m1 0h5m3 0h7m3 0h7m1 0h7m5 0h19m1 0h9m1 0h5m3 0h5m5 0h5m1 0h5m9 0h5m9 0h5m1 0h11m9 0h9m1 0h5m3 0h5m15 0h15m3 0h5m1 0h7m1 0h7m7 0h5m11 0h7m7 0h15m21 0h5m13 0h5m3 0h13m1 0h5m1 0h9m1 0h9m11 0h17m3 0h5m21 0h7m1 0h5m11 0h9m19 0h9m1 0h11m3 0h5m15 0h5m1 0h5m3 0h21m1 0h11m3 0h13m3 0h5M18 47h5m1 0h15m1 0h9m5 0h9m1 0h5m1 0h9m1 0h9m5 0h5m1 0h5m5 0h5m13 0h5m5 0h5m9 0h13m5 0h5m1 0h9m1 0h5m13 0h9m9 0h7m3 0h7m1 0h13m1 0h29m5 0h11m1 0h5m1 0h11m3 0h5m1 0h11m1 0h7m3 0h5m1 0h5m5 0h17m3 0h5m5 0h5m1 0h5m3 0h15m1 0h15m9 0h17m3 0h5m11 0h21m1 0h7m1 0h9m1 0h17m1 0h9m1 0h5m5 0h5m1 0h11m5 0h7m1 0h5m7 0h5m1 0h7m5 0h17m1 0h15m1 0h5m19 0h5m3 0h21m1 0h31m7 0h7m1 0h17m3 0h9m3 0h11m1 0h53m1 0h5m1 0h51m3 0h57m1 0h59m1 0h67m3 0h47m5 0h41m3 0h29m1 0h5m1 0h7m5 0h15m3 0h5m3 0h21m1 0h39m3 0h11m5 0h5m3 0h9m3 0h9m9 0h5m1 0h7m7 0h5m3 0h5m7 0h5m11 0h5m1 0h9m3 0h9m3 0h5m15 0h17m3 0h9m1 0h9m3 0h9m1 0h9m1 0h5m3 0h5m1 0h9m1 0h5m5 0h7m1 0h5m1 0h7m1 0h5m1 0h5m13 0h9m1 0h9m3 0h7m3 0h7m3 0h5m3 0h5m3 0h23m9 0h5m1 0h17m9 0h5m1 0h9m1 0h15m3 0h9m7 0h5m7 0h11m3 0h5m3 0h7m7 0h7m11 0h7m1 0h5m1 0h5m5 0h27m3 0h5m3 0h5m5 0h13m1 0h13m3 0h5m1 0h9M12 48h13m11 0h5m17 0h27m1 0h5m1 0h11m9 0h5m3 0h5m3 0h5m15 0h9m5 0h5m3 0h5m15 0h5m1 0h5m7 0h9m1 0h5m13 0h5m5 0h5m11 0h5m3 0h9m1 0h5m1 0h17m5 0h5m7 0h7m7 0h15m5 0h5m9 0h21m3 0h5m9 0h9m11 0h7m21 0h11m13 0h11m1 0h9m7 0h11m11 0h5m5 0h15m17 0h5m3 0h7m5 0h15m5 0h5m1 0h9m1 0h5m1 0h9m1 0h15m1 0h11m9 0h5m3 0h5m1 0h15m3 0h13m1 0h65m1 0h19m1 0h5m1 0h9m1 0h11m1 0h33m1 0h9m3 0h113m3 0h155m3 0h61m3 0h27m1 0h19m5 0h11m1 0h5m1 0h5m1 0h21m3 0h21m1 0h19m1 0h7m1 0h13m1 0h43m9 0h23m1 0h7m1 0h9m1 0h5m1 0h17m3 0h7m3 0h5m1 0h9m9 0h5m3 0h7m1 0h5m7 0h11m3 0h5m1 0h7m3 0h11m1 0h5m1 0h5m5 0h5m3 0h7m1 0h5m1 0h9m1 0h5m3 0h5m3 0h9m9 0h5m1 0h11m13 0h7m7 0h5m1 0h9m11 0h21m1 0h5m3 0h5m3 0h5m3 0h11m3 0h5m19 0h13m1 0h9m11 0h7m17 0h13m3 0h7m5 0h5m13 0h5m11 0h5m3 0h5m7 0h9M18 49h11m15 0h5m5 0h5m1 0h13m1 0h7m1 0h9m1 0h13m1 0h9m1 0h5m3 0h5m3 0h7m1 0h21m15 0h13m5 0h11m1 0h5m5 0h5m1 0h5m3 0h5m1 0h11m1 0h5m11 0h9m5 0h5m15 0h13m3 0h17m1 0h9m1 0h5m1 0h5m3 0h7m5 0h7m5 0h7m11 0h13m1 0h9m11 0h19m1 0h11m11 0h9m3 0h5m1 0h21m1 0h9m1 0h9m5 0h7m1 0h27m5 0h7m3 0h5m1 0h13m1 0h5m3 0h29m1 0h15m1 0h39m5 0h9m7 0h11m3 0h11m5 0h9m1 0h13m1 0h5m1 0h9m1 0h25m3 0h7m3 0h7m1 0h7m1 0h21m1 0h7m1 0h27m1 0h161m1 0h67m1 0h31m5 0h15m5 0h11m3 0h5m1 0h23m1 0h23m1 0h15m1 0h5m1 0h15m1 0h23m3 0h5m3 0h9m3 0h11m1 0h5m5 0h13m5 0h5m3 0h15m3 0h29m3 0h17m1 0h5m5 0h5m1 0h5m1 0h9m7 0h11m1 0h9m5 0h5m1 0h13m13 0h9m1 0h5m1 0h5m1 0h9m5 0h7m1 0h5m5 0h17m5 0h7m1 0h5m7 0h13m1 0h17m7 0h5m1 0h7m1 0h9m1 0h5m3 0h17m11 0h5m7 0h17m1 0h13m11 0h5m7 0h21m3 0h5m9 0h7m5 0h11m11 0h27m1 0h9m3 0h11m3 0h5m3 0h5m1 0h7m3 0h7m1 0h5m1 0h11m1 0h5M22 50h5m1 0h15m3 0h7m9 0h9m9 0h13m15 0h5m17 0h9m5 0h5m7 0h7m3 0h13m1 0h13m1 0h13m15 0h7m7 0h17m5 0h5m5 0h27m3 0h5m1 0h13m1 0h17m7 0h9m1 0h5m1 0h13m7 0h11m3 0h19m3 0h45m3 0h5m3 0h15m3 0h5m19 0h9m3 0h5m11 0h11m1 0h11m5 0h15m1 0h35m3 0h7m7 0h19m1 0h5m7 0h15m1 0h7m1 0h7m1 0h7m1 0h29m5 0h31m1 0h11m1 0h21m3 0h11m1 0h13m1 0h29m1 0h105m1 0h159m1 0h29m3 0h7m5 0h49m1 0h5m3 0h9m3 0h15m3 0h15m7 0h9m3 0h37m1 0h21m3 0h11m3 0h11m1 0h21m1 0h5m3 0h5m1 0h13m5 0h5m1 0h5m1 0h13m1 0h11m1 0h11m15 0h5m1 0h5m9 0h9m11 0h11m11 0h23m5 0h15m3 0h5m19 0h11m7 0h5m1 0h11m1 0h5m3 0h5m11 0h9m1 0h13m1 0h5m3 0h5m1 0h7m13 0h15m7 0h5m1 0h9m13 0h5m1 0h5m11 0h15m1 0h5m1 0h11m7 0h21m13 0h5m13 0h7m1 0h5m1 0h5m13 0h5m3 0h5m13 0h9M10 51h5m3 0h9m3 0h11m13 0h5m7 0h5m11 0h7m1 0h5m1 0h5m11 0h7m1 0h5m1 0h5m1 0h5m1 0h19m1 0h11m3 0h15m11 0h7m5 0h5m3 0h9m1 0h5m3 0h5m5 0h5m1 0h5m15 0h5m3 0h7m5 0h25m3 0h7m1 0h11m7 0h13m5 0h9m3 0h7m7 0h5m3 0h13m1 0h7m1 0h9m3 0h9m1 0h15m9 0h11m3 0h15m1 0h17m1 0h15m5 0h33m7 0h5m3 0h19m1 0h13m1 0h5m1 0h13m3 0h13m7 0h13m5 0h15m13 0h5m3 0h37m3 0h5m1 0h5m1 0h5m1 0h83m3 0h29m1 0h5m1 0h267m1 0h5m7 0h35m3 0h15m1 0h9m11 0h9m3 0h5m3 0h39m5 0h23m1 0h5m7 0h33m5 0h13m1 0h23m1 0h5m1 0h9m21 0h7m3 0h11m1 0h9m9 0h9m1 0h5m11 0h5m1 0h5m3 0h7m1 0h5m1 0h25m5 0h5m1 0h9m7 0h19m1 0h5m1 0h5m3 0h5m3 0h7m3 0h7m5 0h5m5 0h5m1 0h13m1 0h7m11 0h9m1 0h13m1 0h9m1 0h25m13 0h7m1 0h7m9 0h5m3 0h11m1 0h13m1 0h9m1 0h9m3 0h5m5 0h25m1 0h15m3 0h9m1 0h25m9 0h9m1 0h5M12 52h5m5 0h5m5 0h11m13 0h5m1 0h13m3 0h5m5 0h17m5 0h5m3 0h5m5 0h5m1 0h23m1 0h7m11 0h5m1 0h9m17 0h9m5 0h21m13 0h11m17 0h5m5 0h5m1 0h13m11 0h7m1 0h9m7 0h9m9 0h5m1 0h5m11 0h11m3 0h9m1 0h5m7 0h21m3 0h11m5 0h7m7 0h11m7 0h5m1 0h5m5 0h5m1 0h5m7 0h5m1 0h5m9 0h23m1 0h5m1 0h33m5 0h9m19 0h5m9 0h11m1 0h7m1 0h5m3 0h5m1 0h9m3 0h11m3 0h5m1 0h23m1 0h47m1 0h7m3 0h27m1 0h9m1 0h13m1 0h9m3 0h241m1 0h7m1 0h11m3 0h17m1 0h23m7 0h11m1 0h9m1 0h23m1 0h11m5 0h15m1 0h5m11 0h5m3 0h11m1 0h11m1 0h11m3 0h5m3 0h9m1 0h7m1 0h13m1 0h5m1 0h21m3 0h11m3 0h33m9 0h5m5 0h25m5 0h5m9 0h5m5 0h13m5 0h19m1 0h11m7 0h5m11 0h5m1 0h7m11 0h9m1 0h5m1 0h5m3 0h13m9 0h17m7 0h5m1 0h13m1 0h5m13 0h5m1 0h7m1 0h15m9 0h7m1 0h5m5 0h7m3 0h7m7 0h5m3 0h7m1 0h15m11 0h5m9 0h7m1 0h5m5 0h11m1 0h15m9 0h9m3 0h5m1 0h7m1 0h7m23 0h15m1 0h7m1 0h7M12 53h9m3 0h7m3 0h13m3 0h5m19 0h5m1 0h5m9 0h5m25 0h17m3 0h5m1 0h5m3 0h7m1 0h21m7 0h7m5 0h13m1 0h5m1 0h7m3 0h7m3 0h5m3 0h5m7 0h5m3 0h5m21 0h15m5 0h13m3 0h5m3 0h5m11 0h17m3 0h11m5 0h21m9 0h17m5 0h7m3 0h9m9 0h9m21 0h5m3 0h9m11 0h17m11 0h11m3 0h5m9 0h5m1 0h13m5 0h7m1 0h19m1 0h15m5 0h13m19 0h17m3 0h23m1 0h15m1 0h13m1 0h5m1 0h5m5 0h7m1 0h47m5 0h29m1 0h11m5 0h41m1 0h29m5 0h71m1 0h51m5 0h9m1 0h5m3 0h23m5 0h11m3 0h17m1 0h17m1 0h23m5 0h7m5 0h7m1 0h7m1 0h11m1 0h5m3 0h5m11 0h13m5 0h5m5 0h13m1 0h11m1 0h7m5 0h11m1 0h5m3 0h5m1 0h13m17 0h9m27 0h13m1 0h5m5 0h13m3 0h7m3 0h5m17 0h7m9 0h5m1 0h7m3 0h9m3 0h5m3 0h5m3 0h5m7 0h9m1 0h5m11 0h5m1 0h5m1 0h11m1 0h7m1 0h11m1 0h13m1 0h11m3 0h9m5 0h9m3 0h5m3 0h5m1 0h5m3 0h5m7 0h7m3 0h7m1 0h5m11 0h7m3 0h17m3 0h5m3 0h11m11 0h27m1 0h13m7 0h17m3 0h5m1 0h5m1 0h7m3 0h5m3 0h11m5 0h17M10 54h13m11 0h7m1 0h9m9 0h7m11 0h5m1 0h5m13 0h9m11 0h27m5 0h5m1 0h5m5 0h5m5 0h5m3 0h15m1 0h7m1 0h5m15 0h7m1 0h9m3 0h11m3 0h7m1 0h5m1 0h7m1 0h7m5 0h17m5 0h5m1 0h7m3 0h5m5 0h15m3 0h7m3 0h7m5 0h5m5 0h7m9 0h7m7 0h5m1 0h5m11 0h13m1 0h7m1 0h7m3 0h19m1 0h5m1 0h17m15 0h5m1 0h5m3 0h11m11 0h13m1 0h11m1 0h9m7 0h5m3 0h13m1 0h11m1 0h25m1 0h43m1 0h15m1 0h23m5 0h5m1 0h21m1 0h21m1 0h43m3 0h33m1 0h185m1 0h19m1 0h5m1 0h39m1 0h5m3 0h21m1 0h7m1 0h27m3 0h29m1 0h19m1 0h13m5 0h5m3 0h11m1 0h33m3 0h13m1 0h21m1 0h13m3 0h11m9 0h5m1 0h15m3 0h5m7 0h5m3 0h5m1 0h19m7 0h7m1 0h9m7 0h5m1 0h5m1 0h5m1 0h11m1 0h5m3 0h9m1 0h5m3 0h5m7 0h7m1 0h9m5 0h5m7 0h9m21 0h11m21 0h9m3 0h5m7 0h11m9 0h5m1 0h5m1 0h7m3 0h9m1 0h13m3 0h13m9 0h5m3 0h13m3 0h11m1 0h7m9 0h5m5 0h23m7 0h13m1 0h11m19 0h13m3 0h13m1 0h5m7 0h5m3 0h5m3 0h5m1 0h5M10 55h5m3 0h5m7 0h5m5 0h11m3 0h7m3 0h13m7 0h9m3 0h5m23 0h15m5 0h5m3 0h5m13 0h7m3 0h9m21 0h5m15 0h11m3 0h9m7 0h15m7 0h13m9 0h9m3 0h5m3 0h5m13 0h5m1 0h17m5 0h5m3 0h5m5 0h17m3 0h11m3 0h7m1 0h5m1 0h5m9 0h5m3 0h13m1 0h5m1 0h9m3 0h5m11 0h5m1 0h11m5 0h21m7 0h19m9 0h9m7 0h5m5 0h11m11 0h5m7 0h7m3 0h9m1 0h17m3 0h7m5 0h13m3 0h27m3 0h7m1 0h7m3 0h5m1 0h5m1 0h21m5 0h5m5 0h7m1 0h7m5 0h15m1 0h17m1 0h11m3 0h31m1 0h13m1 0h31m1 0h53m1 0h21m1 0h41m5 0h5m1 0h21m1 0h5m3 0h7m3 0h9m5 0h9m3 0h19m5 0h23m3 0h7m1 0h15m7 0h7m1 0h5m5 0h11m5 0h9m1 0h17m1 0h7m5 0h5m11 0h5m5 0h17m3 0h5m9 0h11m7 0h5m1 0h7m3 0h5m1 0h7m3 0h13m3 0h5m9 0h5m1 0h5m3 0h5m3 0h13m5 0h5m3 0h7m3 0h5m5 0h5m1 0h13m1 0h11m1 0h5m1 0h13m5 0h7m3 0h5m1 0h5m3 0h5m11 0h5m31 0h5m5 0h13m1 0h7m3 0h13m1 0h5m3 0h5m5 0h5m1 0h5m3 0h9m5 0h5m3 0h5m7 0h13m7 0h5m5 0h5m7 0h5m5 0h7m1 0h5m1 0h9m1 0h5m3 0h5m3 0h9m13 0h11m7 0h9m7 0h5m1 0h7m13 0h5m1 0h11m3 0h5m13 0h5m3 0h9m5 0h5M14 56h7m11 0h5m7 0h5m7 0h7m11 0h5m3 0h5m1 0h9m9 0h5m7 0h5m3 0h5m5 0h5m5 0h11m5 0h7m9 0h5m1 0h7m13 0h7m5 0h5m3 0h5m1 0h5m9 0h5m1 0h7m1 0h5m3 0h5m7 0h5m3 0h7m3 0h7m3 0h9m1 0h5m13 0h5m5 0h9m3 0h5m3 0h5m5 0h5m5 0h5m1 0h5m3 0h7m1 0h13m3 0h13m1 0h7m1 0h5m3 0h5m17 0h5m9 0h5m19 0h9m5 0h9m3 0h17m1 0h7m1 0h5m1 0h5m1 0h7m1 0h7m5 0h5m1 0h27m7 0h11m1 0h25m15 0h5m1 0h5m1 0h15m9 0h5m5 0h5m1 0h17m11 0h7m7 0h25m3 0h5m1 0h5m1 0h25m3 0h19m3 0h45m1 0h7m3 0h83m3 0h41m1 0h33m1 0h29m1 0h5m1 0h9m1 0h9m1 0h17m1 0h5m1 0h5m1 0h5m1 0h5m3 0h5m7 0h5m3 0h15m5 0h5m1 0h9m3 0h19m1 0h15m1 0h5m1 0h5m5 0h9m5 0h7m1 0h5m1 0h11m5 0h15m7 0h19m7 0h5m9 0h5m5 0h5m7 0h9m5 0h7m1 0h13m1 0h5m1 0h21m3 0h7m11 0h9m7 0h5m1 0h7m9 0h5m1 0h13m3 0h7m3 0h5m7 0h7m15 0h5m13 0h7m1 0h11m1 0h5m9 0h7m11 0h5m5 0h13m25 0h5m1 0h19m7 0h15m3 0h5m17 0h5m3 0h5m7 0h5m5 0h13m1 0h5m1 0h5m11 0h13m5 0h11m1 0h5m1 0h7m11 0h7m5 0h5m29 0h5m1 0h7m3 0h7M18 57h9m5 0h5m3 0h11m5 0h11m1 0h13m5 0h5m7 0h5m5 0h5m7 0h11m23 0h5m9 0h5m7 0h11m5 0h5m3 0h5m9 0h15m7 0h5m11 0h5m7 0h9m3 0h5m11 0h7m9 0h13m1 0h5m1 0h5m5 0h5m1 0h5m3 0h7m1 0h5m3 0h9m15 0h7m21 0h19m7 0h15m1 0h13m1 0h17m1 0h5m1 0h9m1 0h7m1 0h7m5 0h5m3 0h11m7 0h9m3 0h9m3 0h7m15 0h17m3 0h5m3 0h9m1 0h5m3 0h21m1 0h5m1 0h5m1 0h5m11 0h5m3 0h5m1 0h13m1 0h7m5 0h13m1 0h9m5 0h15m3 0h11m5 0h17m1 0h45m1 0h29m5 0h21m1 0h5m5 0h19m1 0h37m1 0h65m1 0h23m1 0h15m1 0h13m5 0h11m3 0h11m1 0h5m1 0h17m3 0h7m3 0h7m3 0h7m1 0h23m5 0h5m1 0h17m9 0h5m1 0h17m3 0h5m1 0h11m11 0h5m1 0h31m3 0h15m3 0h21m1 0h5m11 0h5m5 0h21m11 0h9m3 0h5m11 0h5m7 0h5m11 0h5m1 0h13m1 0h9m15 0h7m5 0h15m1 0h5m3 0h13m1 0h9m11 0h7m7 0h5m1 0h5m1 0h5m11 0h5m3 0h7m9 0h5m5 0h5m1 0h5m3 0h7m1 0h5m3 0h13m9 0h17m3 0h9m11 0h9m3 0h5m5 0h5m7 0h7m3 0h9m7 0h5m11 0h5m7 0h5m1 0h7m19 0h5m7 0h5m7 0h9m9 0h9m3 0h5m1 0h5m3 0h5m5 0h5M12 58h9m1 0h5m3 0h5m9 0h11m7 0h5m21 0h5m5 0h5m1 0h9m5 0h7m5 0h11m5 0h5m1 0h9m9 0h5m1 0h21m1 0h13m1 0h7m9 0h5m1 0h5m13 0h5m1 0h11m11 0h5m1 0h5m1 0h17m11 0h5m5 0h5m13 0h5m1 0h11m1 0h15m11 0h9m5 0h5m1 0h5m3 0h13m7 0h13m3 0h13m3 0h7m3 0h5m1 0h11m5 0h9m1 0h9m1 0h13m1 0h5m3 0h7m3 0h5m3 0h5m3 0h5m9 0h7m1 0h5m7 0h11m1 0h13m1 0h5m1 0h5m3 0h7m9 0h7m1 0h5m3 0h51m1 0h29m1 0h51m1 0h7m7 0h9m1 0h17m3 0h13m5 0h19m3 0h5m9 0h31m5 0h29m1 0h57m5 0h71m1 0h5m1 0h9m1 0h13m1 0h15m1 0h15m1 0h21m1 0h5m1 0h5m1 0h37m1 0h9m5 0h15m7 0h5m1 0h5m5 0h11m3 0h7m3 0h13m15 0h7m3 0h17m1 0h5m3 0h9m3 0h7m5 0h13m3 0h5m3 0h7m13 0h19m5 0h7m1 0h7m5 0h13m3 0h7m5 0h15m5 0h5m1 0h7m23 0h15m3 0h9m1 0h5m1 0h11m1 0h7m3 0h5m7 0h11m1 0h5m13 0h5m1 0h5m1 0h9m9 0h13m7 0h5m7 0h5m21 0h5m3 0h5m1 0h5m1 0h9m5 0h7m9 0h9m9 0h11m1 0h5m7 0h5m7 0h5m1 0h11m15 0h5m25 0h9m1 0h5m5 0h5m7 0h5m3 0h15M14 59h5m1 0h5m7 0h5m9 0h5m21 0h13m9 0h11m5 0h11m15 0h11m15 0h5m5 0h17m21 0h5m3 0h5m3 0h5m11 0h5m1 0h15m1 0h5m1 0h5m9 0h11m9 0h5m7 0h5m3 0h17m7 0h27m1 0h9m7 0h5m11 0h11m3 0h13m15 0h13m5 0h5m5 0h7m9 0h23m11 0h7m5 0h5m1 0h5m3 0h9m5 0h7m3 0h5m1 0h7m7 0h13m5 0h17m3 0h7m1 0h9m17 0h11m3 0h29m1 0h5m1 0h7m3 0h9m3 0h7m27 0h5m1 0h11m1 0h5m1 0h5m1 0h13m1 0h47m3 0h23m3 0h13m1 0h73m1 0h79m1 0h15m1 0h11m3 0h9m1 0h19m1 0h25m1 0h17m1 0h7m3 0h11m7 0h5m1 0h9m3 0h5m3 0h7m7 0h13m5 0h11m1 0h5m3 0h9m1 0h9m1 0h9m7 0h7m5 0h5m3 0h5m5 0h9m3 0h5m9 0h7m5 0h5m5 0h5m5 0h5m1 0h5m5 0h5m1 0h5m1 0h5m1 0h9m5 0h23m11 0h5m1 0h5m5 0h13m1 0h7m1 0h9m1 0h9m13 0h5m3 0h5m7 0h5m1 0h9m3 0h5m7 0h15m1 0h11m7 0h5m1 0h5m11 0h23m3 0h9m11 0h13m1 0h15m5 0h11m15 0h13m11 0h13m3 0h5m7 0h9m1 0h29m1 0h9m1 0h9m7 0h5m9 0h5m3 0h5m1 0h5m13 0h5m5 0h21m1 0h5m1 0h5m13 0h5m1 0h5M10 60h5m15 0h5m7 0h5m3 0h7m7 0h25m3 0h9m1 0h7m3 0h5m1 0h5m3 0h7m1 0h11m5 0h9m5 0h9m1 0h5m1 0h9m5 0h7m3 0h5m3 0h5m1 0h21m1 0h9m1 0h5m3 0h5m5 0h5m3 0h5m7 0h5m3 0h5m7 0h9m3 0h5m5 0h11m5 0h5m1 0h5m5 0h7m7 0h13m5 0h19m1 0h5m3 0h5m5 0h5m7 0h5m21 0h11m3 0h9m21 0h5m9 0h5m3 0h19m7 0h15m1 0h15m1 0h5m3 0h9m11 0h19m3 0h9m1 0h5m1 0h11m7 0h5m1 0h27m3 0h9m3 0h7m1 0h19m1 0h19m7 0h11m1 0h5m7 0h29m1 0h9m1 0h31m5 0h17m1 0h81m1 0h107m3 0h23m3 0h7m1 0h11m1 0h23m3 0h5m1 0h5m3 0h27m1 0h15m15 0h61m5 0h11m1 0h11m5 0h5m1 0h5m1 0h9m3 0h17m1 0h5m3 0h5m7 0h5m5 0h11m1 0h13m1 0h7m7 0h9m1 0h7m7 0h5m7 0h13m7 0h9m1 0h11m5 0h5m1 0h5m13 0h29m5 0h5m3 0h5m1 0h7m9 0h5m1 0h9m9 0h13m1 0h9m9 0h5m3 0h9m17 0h5m5 0h7m1 0h5m1 0h7m3 0h5m3 0h5m1 0h5m11 0h9m1 0h7m3 0h27m1 0h9m3 0h5m1 0h9m3 0h9m3 0h5m3 0h5m5 0h13m1 0h11m3 0h5m1 0h5m5 0h5m3 0h5m3 0h9m7 0h7m5 0h5m1 0h5m5 0h7m1 0h5M10 61h9m1 0h5m1 0h9m3 0h13m5 0h5m7 0h5m1 0h7m1 0h5m1 0h5m7 0h5m1 0h15m1 0h5m1 0h5m3 0h11m3 0h5m13 0h19m5 0h5m7 0h5m5 0h5m7 0h7m3 0h5m3 0h9m5 0h5m5 0h5m9 0h19m1 0h15m3 0h5m1 0h7m13 0h11m3 0h5m13 0h5m3 0h13m1 0h11m5 0h5m5 0h5m1 0h5m7 0h5m3 0h5m1 0h9m1 0h17m1 0h5m9 0h7m15 0h5m1 0h5m1 0h5m5 0h9m1 0h9m11 0h9m13 0h13m1 0h5m1 0h5m1 0h7m9 0h5m5 0h5m5 0h7m1 0h13m9 0h5m1 0h5m7 0h11m1 0h5m5 0h29m5 0h21m3 0h9m5 0h5m1 0h35m1 0h11m5 0h13m1 0h15m5 0h9m3 0h27m3 0h29m1 0h7m1 0h29m5 0h9m1 0h15m1 0h5m3 0h7m1 0h5m15 0h17m5 0h9m7 0h5m1 0h7m1 0h17m3 0h23m1 0h11m3 0h7m1 0h11m1 0h5m3 0h7m7 0h5m1 0h17m1 0h15m1 0h9m1 0h7m3 0h9m5 0h27m5 0h11m1 0h15m7 0h7m1 0h11m3 0h11m3 0h9m1 0h5m3 0h13m1 0h5m23 0h7m3 0h13m7 0h7m7 0h7m1 0h15m7 0h7m9 0h5m7 0h5m3 0h5m1 0h19m11 0h5m9 0h7m5 0h9m3 0h5m3 0h7m3 0h7m25 0h7m1 0h5m1 0h11m1 0h5m3 0h5m3 0h5m1 0h5m7 0h5m3 0h5m15 0h7m5 0h15m3 0h19m9 0h9m23 0h7m3 0h5m11 0h15m5 0h5m3 0h5m7 0h5m25 0h13m3 0h5m1 0h5M10 62h13m1 0h11m15 0h5m1 0h7m3 0h5m13 0h7m1 0h5m7 0h7m7 0h9m3 0h7m9 0h15m7 0h13m19 0h5m3 0h11m7 0h13m5 0h9m3 0h5m3 0h5m7 0h11m3 0h15m5 0h5m5 0h9m3 0h5m1 0h7m1 0h7m1 0h9m3 0h7m9 0h9m5 0h5m5 0h5m5 0h5m5 0h9m1 0h13m3 0h5m5 0h9m7 0h5m9 0h5m1 0h11m5 0h5m3 0h5m1 0h9m7 0h9m9 0h11m1 0h7m5 0h13m9 0h5m1 0h11m3 0h9m17 0h7m3 0h5m1 0h9m9 0h5m3 0h7m7 0h7m3 0h13m3 0h5m1 0h5m3 0h7m1 0h5m1 0h17m5 0h5m1 0h5m5 0h9m3 0h9m3 0h5m5 0h13m1 0h15m3 0h63m3 0h27m1 0h103m1 0h5m1 0h9m1 0h13m1 0h7m1 0h29m3 0h5m1 0h47m5 0h7m1 0h11m3 0h9m1 0h5m5 0h5m3 0h21m1 0h13m1 0h19m3 0h9m21 0h5m5 0h5m5 0h9m1 0h5m1 0h5m3 0h23m1 0h5m1 0h7m7 0h17m13 0h11m1 0h7m1 0h5m1 0h5m1 0h5m3 0h7m3 0h13m3 0h23m1 0h5m5 0h5m5 0h9m7 0h21m3 0h11m3 0h7m11 0h11m5 0h5m3 0h5m7 0h5m1 0h13m11 0h7m15 0h5m1 0h7m7 0h5m5 0h7m1 0h11m1 0h15m3 0h13m5 0h9m5 0h5m3 0h5m7 0h9m1 0h9m5 0h5m1 0h5m1 0h13m3 0h5m5 0h5m13 0h5m3 0h5m9 0h7m7 0h9m19 0h11M22 63h5m1 0h5m1 0h15m1 0h9m9 0h5m1 0h5m9 0h15m5 0h11m3 0h9m5 0h9m7 0h17m7 0h11m9 0h5m3 0h7m3 0h15m3 0h5m3 0h5m11 0h5m1 0h5m5 0h5m5 0h13m3 0h5m3 0h7m5 0h5m5 0h7m1 0h17m9 0h13m11 0h13m9 0h5m3 0h7m11 0h5m9 0h5m5 0h5m13 0h5m3 0h7m7 0h5m11 0h5m5 0h11m3 0h5m5 0h13m5 0h5m5 0h5m11 0h7m3 0h5m5 0h21m3 0h5m1 0h7m3 0h5m9 0h5m13 0h5m3 0h5m3 0h5m3 0h13m1 0h5m3 0h19m1 0h17m1 0h9m1 0h7m1 0h5m1 0h27m3 0h15m1 0h21m3 0h7m1 0h17m1 0h9m3 0h9m1 0h23m1 0h21m3 0h27m1 0h15m5 0h5m1 0h25m3 0h7m1 0h49m1 0h31m1 0h5m1 0h27m5 0h19m1 0h15m1 0h15m3 0h11m3 0h11m1 0h11m1 0h17m7 0h5m1 0h9m1 0h5m5 0h5m1 0h21m5 0h15m1 0h7m1 0h5m3 0h23m11 0h9m1 0h5m5 0h9m15 0h5m11 0h11m1 0h29m5 0h5m13 0h5m27 0h7m1 0h5m13 0h5m3 0h7m3 0h25m9 0h7m3 0h9m1 0h5m11 0h5m5 0h5m7 0h5m7 0h27m1 0h5m5 0h5m17 0h7m1 0h5m11 0h7m3 0h15m13 0h17m13 0h5m1 0h5m1 0h9m9 0h19m7 0h11m1 0h9m3 0h5m9 0h7m1 0h5m1 0h5m7 0h5m1 0h5M12 64h5m7 0h5m23 0h11m5 0h19m5 0h7m13 0h7m17 0h5m1 0h15m5 0h5m7 0h9m3 0h9m17 0h5m1 0h5m15 0h5m13 0h9m3 0h7m1 0h5m5 0h7m1 0h19m5 0h5m9 0h5m1 0h9m5 0h5m11 0h7m1 0h15m1 0h5m5 0h5m3 0h13m1 0h7m11 0h13m13 0h5m1 0h9m3 0h17m5 0h7m9 0h7m27 0h5m9 0h5m1 0h5m3 0h5m9 0h9m5 0h11m3 0h7m3 0h23m1 0h5m1 0h25m1 0h13m7 0h13m5 0h17m5 0h15m7 0h25m1 0h21m3 0h33m1 0h15m1 0h13m1 0h15m1 0h23m3 0h13m3 0h31m3 0h17m1 0h17m1 0h5m3 0h27m1 0h35m1 0h77m5 0h39m7 0h17m3 0h27m1 0h7m1 0h19m1 0h23m3 0h17m5 0h7m1 0h5m3 0h15m1 0h5m1 0h9m3 0h21m9 0h5m7 0h5m3 0h5m5 0h5m5 0h9m9 0h5m5 0h5m15 0h15m5 0h15m9 0h17m7 0h5m7 0h7m11 0h5m9 0h7m11 0h5m3 0h5m5 0h5m3 0h9m1 0h5m5 0h5m7 0h5m1 0h7m7 0h9m1 0h5m27 0h5m1 0h5m7 0h17m1 0h5m5 0h5m5 0h9m9 0h7m11 0h5m5 0h7m9 0h5m9 0h17m1 0h11m21 0h7m1 0h7m1 0h11m7 0h9M10 65h9m5 0h11m17 0h23m5 0h5m3 0h5m5 0h23m1 0h11m11 0h11m5 0h5m1 0h5m13 0h5m3 0h13m1 0h5m7 0h13m1 0h5m1 0h13m1 0h7m5 0h5m7 0h7m1 0h13m5 0h13m3 0h5m1 0h11m5 0h5m9 0h5m5 0h5m1 0h5m3 0h7m5 0h9m3 0h13m5 0h7m5 0h13m1 0h31m3 0h7m1 0h19m1 0h17m3 0h5m1 0h13m1 0h11m3 0h5m1 0h7m1 0h11m1 0h5m7 0h21m3 0h9m3 0h11m1 0h35m1 0h5m7 0h23m1 0h19m1 0h21m1 0h17m3 0h37m1 0h17m3 0h5m3 0h5m3 0h5m1 0h7m1 0h23m1 0h13m1 0h31m1 0h13m1 0h13m1 0h35m1 0h75m3 0h19m1 0h7m1 0h35m3 0h31m3 0h13m9 0h19m5 0h5m1 0h9m1 0h17m3 0h9m1 0h5m1 0h15m3 0h9m5 0h7m1 0h13m1 0h11m7 0h13m1 0h11m1 0h17m1 0h15m1 0h19m1 0h5m9 0h11m9 0h9m1 0h11m1 0h5m1 0h9m11 0h23m3 0h5m3 0h13m9 0h5m5 0h9m5 0h9m5 0h17m5 0h5m7 0h11m19 0h13m3 0h5m13 0h9m3 0h13m13 0h9m7 0h5m1 0h9m7 0h9m5 0h9m1 0h15m5 0h5m1 0h11m3 0h5m5 0h15m5 0h5m9 0h9m7 0h7m5 0h7m3 0h21m17 0h7m3 0h5m1 0h5M16 66h5m3 0h5m3 0h5m7 0h5m1 0h5m7 0h5m23 0h15m1 0h5m5 0h7m3 0h7m13 0h5m3 0h13m3 0h7m3 0h9m1 0h5m1 0h9m1 0h5m3 0h5m15 0h7m7 0h9m7 0h5m19 0h5m1 0h5m3 0h5m1 0h19m3 0h5m3 0h5m11 0h15m1 0h11m5 0h23m7 0h5m3 0h7m11 0h11m3 0h11m15 0h7m3 0h21m3 0h25m1 0h5m3 0h9m3 0h5m1 0h13m1 0h13m3 0h29m5 0h13m1 0h19m3 0h13m1 0h31m1 0h5m7 0h11m3 0h15m1 0h9m1 0h43m1 0h11m3 0h11m1 0h83m1 0h5m5 0h127m1 0h19m1 0h11m1 0h11m3 0h9m1 0h75m3 0h5m3 0h7m1 0h15m1 0h7m1 0h31m15 0h7m1 0h9m1 0h5m5 0h7m1 0h13m7 0h11m15 0h19m5 0h9m1 0h9m5 0h11m1 0h9m5 0h15m3 0h9m1 0h5m7 0h27m1 0h9m5 0h5m1 0h9m11 0h9m29 0h5m1 0h7m1 0h11m7 0h7m11 0h5m15 0h7m1 0h15m5 0h11m3 0h5m7 0h5m7 0h5m9 0h11m5 0h5m1 0h5m3 0h9m3 0h11m3 0h9m1 0h7m5 0h5m13 0h13m1 0h5m3 0h5m3 0h5m3 0h5m3 0h5m1 0h11m1 0h11m3 0h5m3 0h19m1 0h13m3 0h5m9 0h7m3 0h7M12 67h7m11 0h7m3 0h11m17 0h13m5 0h9m5 0h5m5 0h9m11 0h17m7 0h11m9 0h5m9 0h9m3 0h5m3 0h5m11 0h7m1 0h5m11 0h7m15 0h5m11 0h27m17 0h5m1 0h9m7 0h11m1 0h9m15 0h11m1 0h7m3 0h13m5 0h5m1 0h5m11 0h9m3 0h5m3 0h7m1 0h5m3 0h5m13 0h5m3 0h5m7 0h5m1 0h9m1 0h5m1 0h11m1 0h19m3 0h11m1 0h5m17 0h7m5 0h5m1 0h7m7 0h7m5 0h9m1 0h5m1 0h11m11 0h5m5 0h5m1 0h11m5 0h19m1 0h9m3 0h15m1 0h9m1 0h5m1 0h11m3 0h5m7 0h17m1 0h23m1 0h15m1 0h11m1 0h7m1 0h7m1 0h9m1 0h5m3 0h39m1 0h23m5 0h27m1 0h5m1 0h11m1 0h9m1 0h27m1 0h5m3 0h9m1 0h31m3 0h19m3 0h5m1 0h19m3 0h11m1 0h17m5 0h31m1 0h19m1 0h5m1 0h5m3 0h5m3 0h5m3 0h5m1 0h5m7 0h5m1 0h5m1 0h5m11 0h5m1 0h11m1 0h5m3 0h5m3 0h9m13 0h5m1 0h13m7 0h13m1 0h13m3 0h7m1 0h7m1 0h5m3 0h9m11 0h7m5 0h11m5 0h9m15 0h5m5 0h5m1 0h7m7 0h5m5 0h9m1 0h5m1 0h9m5 0h5m5 0h9m1 0h5m1 0h17m3 0h5m5 0h5m23 0h5m1 0h5m1 0h5m1 0h9m5 0h9m5 0h9m37 0h15m5 0h17m3 0h5m1 0h5m5 0h5m3 0h5m5 0h5m3 0h9m5 0h5m5 0h7m9 0h5m19 0h13m7 0h5m5 0h5m3 0h5m7 0h5M16 68h5m1 0h7m5 0h9m7 0h9m1 0h7m3 0h5m1 0h5m7 0h5m3 0h11m1 0h9m1 0h9m5 0h5m29 0h7m5 0h5m1 0h5m17 0h5m1 0h9m1 0h5m7 0h5m1 0h5m1 0h9m1 0h5m1 0h9m3 0h5m15 0h5m1 0h5m11 0h5m7 0h11m1 0h7m5 0h5m3 0h7m1 0h5m3 0h5m9 0h5m1 0h5m1 0h5m1 0h11m1 0h9m3 0h15m5 0h5m3 0h5m5 0h9m5 0h11m3 0h9m17 0h5m5 0h5m1 0h23m1 0h7m11 0h13m1 0h9m5 0h9m1 0h5m7 0h7m9 0h7m3 0h27m13 0h29m1 0h7m7 0h7m3 0h5m1 0h9m1 0h27m1 0h37m1 0h7m1 0h5m1 0h11m1 0h13m9 0h27m5 0h13m3 0h7m3 0h25m1 0h31m1 0h25m3 0h13m1 0h27m3 0h17m1 0h13m1 0h19m5 0h21m1 0h45m1 0h11m7 0h23m1 0h5m1 0h29m1 0h7m5 0h5m7 0h5m9 0h5m1 0h9m9 0h15m9 0h5m1 0h5m3 0h5m3 0h5m11 0h13m3 0h5m11 0h15m1 0h5m1 0h5m1 0h17m1 0h5m1 0h15m3 0h5m1 0h23m3 0h5m17 0h5m5 0h5m9 0h9m33 0h5m1 0h9m1 0h13m9 0h5m1 0h5m3 0h5m11 0h9m3 0h5m5 0h15m9 0h9m3 0h5m19 0h9m1 0h11m7 0h5m1 0h7m7 0h9m1 0h9m1 0h5m7 0h5m11 0h9m5 0h5m5 0h5m11 0h9m3 0h5m3 0h5m13 0h5m1 0h5m3 0h5m7 0h5m5 0h9M24 69h7m1 0h5m3 0h7m5 0h7m3 0h5m1 0h5m1 0h9m3 0h5m11 0h5m15 0h7m3 0h5m1 0h9m3 0h9m5 0h7m3 0h11m3 0h5m3 0h5m7 0h5m17 0h5m5 0h5m5 0h5m7 0h5m1 0h5m5 0h9m11 0h5m17 0h9m5 0h5m3 0h5m15 0h7m3 0h7m7 0h9m7 0h5m1 0h21m1 0h5m1 0h5m9 0h11m5 0h9m5 0h5m1 0h5m5 0h7m3 0h5m3 0h11m1 0h29m3 0h5m1 0h7m1 0h17m15 0h25m7 0h5m1 0h13m5 0h19m5 0h5m9 0h7m1 0h9m1 0h9m3 0h21m3 0h5m1 0h7m1 0h7m1 0h13m5 0h13m3 0h9m1 0h27m1 0h5m1 0h11m3 0h5m3 0h17m3 0h19m1 0h57m1 0h13m1 0h13m1 0h21m1 0h9m7 0h5m1 0h49m1 0h19m1 0h15m3 0h5m3 0h11m3 0h35m5 0h11m1 0h5m3 0h9m1 0h9m1 0h5m3 0h5m9 0h5m1 0h5m3 0h9m1 0h5m1 0h9m1 0h5m3 0h5m1 0h7m11 0h15m1 0h7m7 0h23m1 0h11m3 0h5m1 0h13m3 0h11m11 0h9m9 0h9m3 0h15m3 0h17m3 0h5m9 0h13m5 0h7m5 0h11m3 0h17m1 0h5m13 0h11m1 0h19m17 0h7m5 0h17m11 0h5m11 0h5m3 0h9m5 0h11m13 0h11m11 0h7m3 0h5m7 0h11m11 0h5m1 0h9m19 0h5m1 0h13m1 0h9m1 0h5m3 0h5m29 0h11m5 0h11m3 0h11m1 0h5m13 0h5M12 70h5m1 0h11m9 0h5m3 0h5m17 0h7m3 0h5m1 0h5m9 0h5m1 0h9m17 0h5m11 0h9m3 0h9m1 0h5m13 0h5m15 0h15m3 0h5m9 0h5m27 0h5m5 0h9m21 0h7m27 0h5m7 0h7m3 0h13m5 0h9m3 0h5m5 0h7m3 0h5m1 0h7m7 0h5m3 0h5m1 0h9m17 0h5m7 0h7m3 0h5m3 0h5m5 0h9m5 0h7m7 0h5m7 0h5m3 0h5m19 0h5m9 0h7m15 0h5m19 0h5m27 0h5m7 0h5m1 0h5m1 0h5m11 0h5m1 0h5m3 0h5m5 0h15m3 0h7m5 0h7m1 0h5m5 0h5m3 0h5m5 0h11m3 0h17m1 0h7m1 0h25m1 0h17m3 0h7m1 0h41m1 0h29m9 0h11m1 0h23m5 0h9m13 0h11m3 0h7m1 0h51m1 0h9m3 0h11m3 0h9m5 0h5m1 0h13m3 0h17m7 0h17m5 0h5m7 0h9m7 0h5m5 0h5m9 0h5m1 0h5m11 0h5m1 0h5m3 0h5m7 0h5m5 0h9m5 0h7m5 0h5m1 0h9m7 0h7m5 0h13m3 0h5m3 0h5m11 0h5m13 0h5m3 0h5m5 0h5m9 0h11m7 0h7m7 0h5m1 0h5m3 0h5m21 0h5m21 0h5m5 0h5m1 0h11m1 0h11m1 0h5m9 0h5m13 0h5m33 0h5m3 0h5m1 0h7m5 0h5m9 0h5m5 0h7m5 0h5m1 0h5m17 0h9m3 0h13m9 0h5m15 0h5m3 0h15m1 0h5m9 0h5m7 0h9m5 0h13m1 0h5m1 0h7m3 0h5m5 0h9m3 0h19m5 0h7M12 71h5m3 0h5m1 0h5m11 0h5m3 0h5m13 0h5m29 0h7m3 0h5m5 0h13m5 0h5m11 0h5m3 0h7m11 0h7m11 0h5m1 0h5m1 0h5m3 0h5m11 0h5m15 0h11m3 0h5m1 0h5m7 0h5m1 0h7m5 0h9m1 0h9m3 0h7m17 0h5m5 0h5m31 0h5m1 0h5m1 0h9m17 0h5m3 0h5m1 0h9m5 0h5m5 0h5m1 0h5m5 0h19m1 0h5m9 0h5m3 0h5m9 0h13m17 0h5m1 0h5m1 0h5m11 0h5m5 0h9m11 0h9m5 0h5m3 0h11m3 0h5m11 0h5m1 0h5m3 0h11m5 0h7m7 0h19m1 0h13m1 0h5m1 0h17m1 0h17m5 0h11m11 0h5m5 0h13m3 0h13m3 0h5m5 0h27m3 0h45m3 0h13m3 0h21m3 0h5m3 0h19m3 0h13m3 0h7m1 0h15m3 0h7m3 0h11m5 0h5m3 0h11m3 0h11m1 0h5m1 0h21m1 0h5m1 0h9m1 0h13m1 0h5m3 0h7m3 0h11m9 0h5m1 0h5m11 0h13m1 0h15m5 0h5m1 0h5m1 0h15m13 0h5m1 0h5m1 0h5m5 0h11m1 0h5m5 0h9m1 0h5m1 0h13m25 0h5m21 0h5m1 0h5m5 0h5m3 0h9m3 0h5m3 0h11m43 0h5m1 0h5m3 0h13m9 0h5m11 0h5m5 0h5m1 0h5m9 0h5m3 0h5m13 0h5m3 0h5m21 0h9m3 0h9m31 0h5m7 0h5m1 0h5m7 0h7m19 0h7m7 0h9m11 0h5m13 0h7m7 0h5m5 0h7m1 0h5m3 0h5m11 0h7m3 0h11m5 0h5m1 0h5m7 0h5m9 0h9m1 0h5m3 0h5M12 72h11m3 0h11m3 0h5m25 0h7m29 0h9m7 0h15m3 0h5m7 0h5m9 0h9m1 0h9m27 0h5m5 0h5m3 0h9m3 0h9m17 0h5m5 0h13m11 0h5m3 0h5m5 0h7m1 0h5m9 0h7m19 0h5m9 0h9m3 0h5m5 0h5m5 0h17m15 0h5m7 0h5m7 0h7m3 0h5m35 0h5m1 0h5m25 0h5m13 0h5m9 0h5m21 0h11m3 0h5m3 0h5m1 0h9m13 0h9m1 0h5m9 0h5m3 0h15m1 0h5m7 0h5m5 0h7m11 0h5m1 0h11m15 0h7m1 0h5m9 0h5m7 0h9m1 0h21m1 0h5m5 0h9m5 0h5m1 0h5m7 0h5m1 0h7m3 0h7m9 0h39m1 0h11m3 0h5m5 0h9m1 0h9m3 0h9m1 0h11m3 0h11m5 0h9m7 0h17m13 0h5m1 0h5m5 0h23m3 0h9m1 0h15m5 0h13m3 0h11m5 0h9m1 0h5m7 0h5m3 0h13m9 0h11m11 0h21m3 0h7m1 0h5m19 0h7m7 0h5m7 0h5m5 0h11m5 0h11m1 0h9m7 0h5m33 0h7m11 0h7m13 0h11m13 0h5m1 0h5m5 0h5m3 0h5m1 0h9m5 0h5m13 0h5m23 0h5m7 0h5m5 0h7m5 0h9m11 0h5m31 0h5m3 0h5m25 0h9m9 0h7m19 0h11m1 0h5m13 0h5m5 0h17m1 0h5m7 0h9m11 0h5m7 0h5m3 0h5m5 0h9m5 0h7m1 0h9m33 0h5m1 0h7m9 0h5m1 0h5M14 73h5m13 0h9m3 0h19m9 0h9m1 0h7m7 0h11m5 0h5m1 0h5m5 0h17m29 0h21m7 0h5m3 0h5m5 0h9m5 0h7m3 0h5m5 0h11m7 0h7m1 0h5m5 0h9m3 0h5m5 0h7m3 0h5m15 0h5m9 0h7m1 0h5m7 0h5m9 0h11m5 0h7m13 0h11m1 0h7m1 0h9m3 0h11m3 0h5m9 0h5m13 0h5m5 0h7m9 0h17m5 0h5m3 0h5m7 0h11m7 0h19m3 0h5m11 0h13m3 0h5m5 0h9m1 0h9m1 0h7m1 0h9m5 0h5m5 0h11m1 0h13m1 0h5m1 0h5m5 0h7m9 0h13m3 0h9m3 0h5m11 0h9m7 0h5m1 0h9m1 0h17m7 0h9m1 0h15m3 0h11m1 0h5m7 0h7m1 0h9m1 0h5m1 0h27m1 0h17m3 0h17m1 0h47m3 0h23m5 0h25m1 0h25m1 0h5m13 0h11m1 0h35m1 0h5m1 0h5m5 0h9m1 0h23m3 0h9m3 0h7m5 0h11m1 0h5m17 0h11m7 0h5m7 0h7m5 0h9m1 0h5m1 0h11m1 0h15m3 0h9m11 0h5m1 0h5m9 0h5m5 0h11m3 0h11m3 0h11m1 0h7m11 0h9m5 0h5m1 0h5m3 0h7m11 0h13m13 0h7m3 0h5m7 0h5m3 0h5m1 0h5m1 0h5m9 0h5m5 0h7m15 0h5m1 0h27m7 0h19m1 0h7m3 0h5m13 0h9m3 0h5m5 0h7m15 0h9m7 0h7m5 0h5m1 0h5m3 0h11m1 0h5m9 0h5m3 0h9m1 0h5m1 0h7m1 0h11m1 0h11m13 0h15m3 0h9m3 0h5m13 0h5M18 74h5m5 0h5m17 0h5m9 0h5m5 0h5m7 0h13m7 0h5m3 0h5m1 0h9m5 0h5m9 0h7m5 0h5m3 0h5m1 0h5m1 0h13m11 0h5m35 0h9m1 0h5m1 0h5m5 0h5m11 0h5m1 0h5m3 0h7m11 0h5m1 0h5m1 0h5m1 0h5m19 0h5m1 0h5m23 0h11m15 0h5m15 0h5m1 0h5m13 0h7m3 0h9m5 0h5m1 0h11m1 0h7m13 0h5m1 0h7m3 0h9m3 0h7m11 0h5m5 0h7m35 0h9m5 0h5m1 0h9m3 0h19m3 0h19m3 0h5m5 0h7m9 0h13m1 0h5m7 0h17m3 0h9m3 0h5m3 0h9m9 0h5m9 0h29m17 0h17m5 0h5m5 0h5m5 0h7m1 0h7m3 0h5m3 0h9m5 0h9m1 0h13m3 0h11m1 0h19m1 0h13m1 0h25m15 0h13m13 0h9m3 0h11m3 0h5m9 0h5m3 0h5m7 0h7m5 0h5m9 0h5m1 0h7m3 0h9m5 0h5m3 0h5m1 0h5m31 0h7m1 0h5m3 0h11m9 0h5m11 0h9m3 0h7m23 0h5m5 0h15m1 0h5m5 0h9m9 0h5m5 0h9m9 0h9m1 0h11m5 0h9m15 0h5m13 0h5m1 0h9m9 0h5m1 0h15m11 0h11m11 0h5m13 0h11m5 0h5m17 0h5m1 0h5m1 0h5m1 0h9m1 0h11m21 0h9m3 0h9m5 0h5m23 0h7m1 0h5m5 0h5m5 0h5m1 0h9m1 0h5m19 0h9m3 0h5m3 0h5m3 0h5m1 0h9m9 0h5m5 0h5m3 0h5m1 0h5m3 0h5m1 0h9m7 0h5m1 0h5m7 0h5m3 0h11m1 0h7m5 0h7m7 0h5M22 75h7m3 0h5m11 0h11m9 0h5m1 0h5m3 0h5m3 0h5m15 0h19m9 0h7m1 0h11m15 0h7m1 0h5m3 0h9m7 0h17m1 0h5m1 0h5m5 0h15m9 0h9m1 0h5m27 0h7m5 0h5m3 0h19m15 0h5m7 0h7m17 0h5m3 0h9m1 0h21m5 0h5m7 0h5m23 0h9m5 0h9m7 0h5m7 0h5m3 0h9m5 0h9m3 0h5m5 0h13m19 0h5m1 0h11m23 0h5m7 0h5m9 0h5m1 0h5m3 0h5m1 0h9m5 0h7m3 0h5m3 0h13m5 0h25m3 0h15m7 0h7m1 0h5m1 0h27m1 0h17m9 0h7m1 0h7m5 0h11m1 0h11m3 0h39m1 0h7m1 0h7m1 0h21m1 0h19m5 0h43m1 0h5m1 0h37m5 0h25m1 0h43m3 0h9m1 0h7m1 0h5m1 0h29m1 0h11m11 0h31m3 0h5m17 0h27m5 0h5m1 0h7m11 0h11m15 0h9m1 0h15m1 0h9m15 0h11m1 0h31m3 0h5m17 0h11m5 0h15m7 0h5m1 0h11m9 0h5m7 0h5m11 0h5m5 0h15m3 0h13m9 0h9m1 0h9m3 0h7m3 0h11m1 0h5m7 0h11m1 0h11m11 0h5m3 0h15m3 0h5m1 0h5m1 0h9m5 0h7m5 0h15m3 0h5m9 0h11m3 0h21m13 0h5m1 0h15m9 0h7m7 0h19m1 0h5m1 0h5m3 0h13m17 0h5m1 0h5M22 76h9m11 0h5m1 0h5m3 0h5m7 0h17m23 0h5m9 0h9m5 0h5m5 0h5m1 0h9m3 0h9m19 0h5m5 0h15m9 0h9m5 0h11m1 0h9m11 0h5m3 0h5m7 0h9m13 0h7m7 0h17m15 0h5m7 0h7m5 0h9m7 0h5m1 0h5m9 0h5m7 0h9m11 0h5m21 0h5m7 0h5m1 0h5m5 0h5m1 0h9m13 0h5m13 0h5m1 0h9m1 0h5m23 0h5m3 0h7m5 0h5m15 0h9m7 0h7m1 0h7m19 0h7m1 0h15m1 0h11m7 0h5m11 0h13m1 0h5m3 0h5m5 0h5m7 0h5m11 0h7m3 0h21m7 0h5m3 0h5m5 0h11m5 0h5m5 0h9m9 0h23m9 0h5m5 0h9m7 0h7m7 0h35m3 0h7m5 0h7m3 0h9m1 0h5m5 0h7m9 0h5m1 0h11m3 0h13m3 0h5m5 0h7m3 0h7m3 0h7m1 0h5m1 0h5m5 0h5m5 0h9m3 0h5m3 0h9m1 0h27m5 0h9m5 0h5m1 0h9m1 0h5m1 0h13m1 0h5m5 0h7m5 0h5m15 0h5m3 0h5m19 0h5m5 0h5m9 0h15m5 0h5m7 0h7m13 0h5m19 0h5m3 0h5m1 0h5m7 0h13m5 0h7m3 0h7m27 0h5m13 0h7m61 0h5m7 0h7m13 0h7m1 0h7m15 0h5m3 0h5m11 0h5m11 0h5m1 0h5m1 0h5m11 0h5m9 0h5m1 0h5m1 0h5m11 0h5m1 0h5m3 0h7m9 0h5m13 0h7m13 0h5m3 0h5m27 0h7m1 0h5m3 0h5m21 0h5m1 0h5M14 77h5m3 0h5m3 0h5m33 0h5m3 0h5m1 0h5m33 0h5m39 0h5m31 0h5m15 0h9m1 0h5m3 0h5m11 0h5m25 0h5m11 0h5m7 0h5m47 0h5m3 0h5m11 0h5m1 0h9m19 0h13m15 0h7m47 0h21m3 0h5m19 0h5m11 0h7m25 0h5m27 0h15m5 0h7m5 0h9m1 0h5m13 0h5m17 0h5m15 0h5m15 0h5m3 0h5m1 0h5m11 0h5m31 0h5m7 0h5m11 0h9m3 0h9m17 0h5m7 0h9m5 0h5m1 0h29m3 0h21m7 0h9m1 0h15m5 0h7m1 0h5m3 0h29m17 0h5m7 0h5m1 0h5m7 0h5m5 0h13m15 0h7m21 0h5m3 0h7m31 0h13m25 0h5m23 0h5m5 0h11m1 0h9m1 0h5m11 0h11m7 0h5m23 0h9m11 0h5m9 0h9m11 0h9m15 0h9m3 0h5m3 0h5m5 0h5m5 0h7m3 0h9m25 0h9m1 0h5m3 0h5m11 0h15m1 0h9m21 0h5m43 0h5m23 0h5m5 0h5m23 0h9m17 0h5m9 0h5m7 0h9m3 0h5m5 0h15m19 0h5m11 0h11m9 0h5m45 0h5m3 0h5m3 0h5m9 0h5m5 0h5m3 0h5m3 0h5M28 78h5m7 0h5m1 0h5m1 0h9m1 0h11m19 0h5m1 0h9m33 0h7m7 0h5m3 0h5m27 0h7m7 0h15m25 0h31m15 0h7m23 0h7m1 0h5m3 0h5m31 0h5m17 0h5m17 0h7m3 0h7m29 0h5m19 0h7m3 0h5m13 0h5m5 0h13m7 0h11m9 0h5m17 0h9m9 0h9m1 0h5m7 0h11m1 0h9m21 0h9m5 0h7m3 0h7m41 0h5m3 0h13m1 0h5m7 0h5m5 0h7m1 0h7m3 0h5m1 0h7m27 0h7m1 0h7m5 0h5m7 0h5m1 0h9m5 0h11m3 0h5m1 0h7m1 0h13m1 0h5m1 0h5m1 0h5m9 0h37m1 0h23m3 0h15m3 0h13m5 0h11m3 0h9m7 0h5m1 0h19m7 0h5m1 0h5m13 0h7m9 0h5m1 0h5m3 0h17m7 0h11m5 0h7m7 0h7m13 0h7m1 0h5m23 0h5m9 0h5m15 0h7m1 0h7m17 0h9m7 0h5m1 0h5m5 0h5m3 0h7m1 0h5m7 0h7m7 0h9m3 0h5m3 0h5m3 0h17m5 0h11m17 0h5m5 0h5m1 0h5m9 0h13m21 0h5m3 0h5m3 0h17m11 0h5m15 0h11m1 0h5m5 0h5m9 0h9m3 0h5m1 0h9m1 0h5m1 0h15m27 0h9m3 0h7m5 0h5m11 0h5m5 0h11m13 0h7m7 0h5m1 0h5m23 0h5m3 0h9m3 0h11m5 0h9m3 0h7m15 0h7m1 0h5M16 79h11m3 0h5m19 0h7m1 0h5m1 0h7m15 0h5m9 0h7m13 0h5m15 0h5m17 0h5m1 0h5m3 0h5m21 0h5m19 0h15m29 0h5m23 0h5m1 0h5m7 0h7m17 0h5m5 0h5m1 0h5m11 0h5m49 0h7m9 0h5m9 0h5m5 0h5m13 0h5m3 0h7m19 0h15m9 0h5m9 0h5m7 0h7m3 0h5m7 0h5m15 0h5m3 0h5m3 0h5m45 0h5m11 0h5m5 0h13m3 0h7m7 0h7m5 0h9m3 0h5m11 0h5m9 0h5m7 0h11m1 0h15m1 0h7m7 0h13m3 0h5m23 0h7m1 0h7m1 0h5m1 0h5m3 0h23m3 0h11m1 0h9m7 0h5m5 0h5m3 0h15m1 0h5m1 0h9m3 0h17m11 0h5m1 0h13m1 0h5m3 0h11m3 0h5m3 0h13m1 0h5m3 0h5m7 0h9m3 0h7m9 0h13m9 0h7m9 0h5m1 0h5m3 0h7m3 0h9m11 0h5m13 0h7m1 0h5m1 0h7m3 0h5m9 0h7m3 0h9m3 0h7m5 0h5m1 0h5m1 0h7m1 0h11m9 0h5m13 0h5m11 0h11m7 0h5m9 0h5m1 0h13m7 0h9m5 0h5m19 0h7m1 0h5m13 0h5m5 0h5m5 0h9m13 0h5m27 0h5m11 0h5m7 0h5m5 0h5m1 0h5m7 0h5m1 0h5m17 0h9m15 0h7m1 0h5m1 0h11m19 0h5m5 0h7m1 0h5m7 0h5m7 0h5m11 0h5m11 0h5m29 0h5m7 0h5m11 0h7m9 0h5m3 0h5m15 0h5m11 0h5m3 0h7m9 0h5M12 80h5m1 0h5m1 0h7m9 0h7m5 0h9m39 0h7m1 0h7m3 0h5m7 0h5m1 0h5m15 0h7m29 0h7m29 0h9m19 0h5m13 0h5m11 0h15m5 0h5m15 0h9m35 0h5m13 0h5m11 0h5m17 0h5m1 0h7m5 0h5m13 0h5m13 0h9m1 0h5m5 0h9m5 0h5m1 0h5m3 0h5m5 0h5m3 0h7m3 0h5m7 0h5m3 0h5m3 0h7m1 0h11m27 0h5m5 0h5m5 0h5m9 0h11m5 0h13m5 0h5m3 0h5m11 0h9m1 0h5m3 0h9m5 0h5m13 0h5m1 0h5m1 0h5m3 0h7m13 0h7m5 0h5m3 0h13m3 0h7m1 0h5m7 0h9m1 0h5m1 0h5m7 0h11m7 0h9m3 0h5m5 0h5m1 0h17m1 0h5m7 0h9m5 0h19m3 0h11m1 0h7m1 0h27m3 0h7m5 0h9m1 0h5m11 0h5m1 0h11m1 0h7m1 0h11m9 0h7m3 0h9m3 0h5m5 0h5m1 0h11m9 0h15m1 0h5m1 0h5m3 0h5m11 0h5m11 0h5m25 0h5m17 0h5m3 0h5m5 0h5m3 0h9m9 0h5m5 0h9m5 0h5m7 0h11m3 0h7m11 0h7m3 0h5m11 0h5m25 0h5m3 0h9m13 0h9m7 0h5m7 0h5m7 0h13m5 0h5m15 0h5m3 0h7m11 0h9m5 0h5m19 0h5m3 0h9m19 0h9m7 0h15m5 0h5m9 0h5m7 0h7m15 0h5m1 0h5m3 0h5m7 0h5m1 0h5m13 0h5m9 0h5m7 0h9m1 0h9m3 0h9m5 0h5m7 0h9m27 0h5m11 0h5m3 0h5m3 0h5m15 0h5M10 81h7m11 0h5m1 0h5m13 0h5m1 0h11m13 0h5m9 0h11m15 0h5m23 0h9m17 0h13m9 0h5m5 0h5m5 0h9m9 0h5m9 0h15m7 0h5m1 0h5m9 0h5m25 0h5m13 0h5m1 0h7m5 0h13m7 0h9m33 0h5m5 0h5m17 0h7m21 0h9m1 0h9m3 0h5m3 0h7m13 0h5m5 0h7m5 0h5m25 0h7m9 0h11m13 0h5m21 0h5m1 0h5m5 0h9m3 0h5m15 0h11m5 0h7m23 0h5m9 0h11m1 0h5m11 0h9m1 0h5m7 0h7m15 0h7m1 0h9m19 0h25m3 0h9m9 0h13m3 0h9m5 0h5m3 0h5m1 0h9m3 0h9m1 0h15m7 0h5m9 0h13m1 0h5m1 0h5m1 0h23m3 0h7m1 0h7m3 0h5m5 0h5m15 0h5m1 0h5m9 0h25m3 0h9m1 0h9m7 0h5m5 0h5m7 0h5m15 0h5m1 0h5m23 0h5m3 0h9m3 0h5m13 0h15m13 0h11m9 0h7m9 0h5m5 0h5m5 0h13m3 0h11m7 0h7m5 0h5m7 0h5m5 0h5m5 0h5m3 0h9m27 0h5m3 0h7m1 0h5m9 0h5m1 0h5m7 0h5m25 0h5m5 0h5m9 0h5m1 0h13m7 0h5m9 0h5m11 0h5m11 0h5m11 0h7m1 0h5m5 0h5m5 0h5m5 0h11m25 0h11m11 0h5m1 0h5m11 0h5m11 0h11m7 0h15m3 0h5m9 0h5m11 0h7m9 0h5m11 0h7m9 0h15m1 0h11m9 0h5M12 82h5m5 0h7m5 0h5m21 0h5m5 0h17m15 0h5m7 0h7m13 0h5m3 0h5m23 0h9m1 0h13m13 0h7m33 0h7m1 0h9m9 0h7m1 0h9m15 0h5m5 0h5m11 0h9m7 0h5m5 0h5m15 0h5m41 0h7m1 0h19m7 0h9m9 0h5m13 0h5m1 0h5m7 0h5m9 0h9m11 0h5m1 0h11m1 0h5m7 0h5m13 0h13m1 0h9m3 0h5m11 0h7m11 0h5m1 0h7m13 0h9m3 0h15m3 0h7m5 0h9m1 0h5m3 0h5m3 0h9m3 0h5m5 0h7m1 0h5m11 0h5m1 0h5m1 0h5m9 0h5m3 0h15m3 0h5m3 0h5m7 0h5m1 0h5m7 0h11m3 0h5m1 0h13m7 0h5m5 0h5m1 0h15m1 0h9m13 0h5m1 0h5m1 0h9m3 0h17m1 0h15m1 0h9m1 0h5m1 0h7m5 0h5m1 0h5m5 0h9m3 0h13m13 0h5m1 0h9m3 0h5m1 0h5m11 0h7m1 0h25m3 0h7m1 0h9m9 0h5m7 0h5m3 0h5m5 0h11m3 0h5m1 0h7m7 0h9m7 0h5m1 0h9m27 0h23m3 0h5m3 0h9m5 0h13m7 0h5m7 0h5m5 0h7m3 0h5m9 0h7m1 0h7m1 0h5m33 0h7m7 0h7m29 0h11m11 0h7m5 0h5m7 0h5m31 0h13m11 0h13m7 0h5m9 0h5m25 0h5m15 0h5m5 0h5m29 0h9m5 0h5m1 0h5m21 0h5m11 0h9m1 0h7m19 0h11m1 0h5m15 0h5m9 0h5m1 0h5m5 0h9M16 83h9m21 0h5m1 0h5m25 0h7m3 0h7m1 0h5m23 0h7m7 0h5m1 0h5m1 0h13m3 0h5m5 0h5m21 0h9m13 0h7m1 0h5m1 0h5m1 0h5m3 0h7m3 0h9m9 0h5m1 0h5m5 0h5m3 0h7m9 0h5m13 0h9m11 0h5m5 0h15m7 0h9m11 0h5m17 0h5m7 0h13m3 0h5m7 0h5m1 0h5m21 0h5m1 0h7m17 0h15m9 0h7m5 0h11m29 0h5m7 0h5m19 0h9m3 0h9m9 0h5m13 0h5m15 0h5m9 0h5m3 0h5m5 0h13m19 0h7m29 0h5m1 0h5m3 0h7m9 0h5m19 0h5m3 0h5m11 0h5m1 0h5m3 0h11m5 0h5m3 0h11m1 0h5m1 0h9m5 0h15m19 0h11m9 0h5m13 0h5m1 0h7m1 0h5m5 0h19m27 0h5m9 0h7m7 0h5m5 0h11m1 0h5m3 0h5m1 0h13m11 0h5m5 0h7m11 0h7m3 0h7m9 0h5m1 0h5m5 0h9m9 0h9m1 0h5m9 0h5m15 0h5m3 0h7m5 0h13m29 0h5m25 0h5m5 0h9m11 0h5m29 0h5m43 0h5m1 0h7m5 0h13m7 0h5m21 0h7m5 0h5m13 0h5m3 0h5m15 0h5m3 0h5m3 0h5m31 0h7m57 0h5m1 0h5m17 0h5m9 0h5m17 0h5m51 0h5m13 0h9m15 0h5m1 0h5m7 0h7m25 0h5M16 84h9m1 0h5m11 0h5m3 0h5m61 0h5m7 0h13m13 0h5m35 0h5m3 0h5m3 0h5m1 0h5m5 0h5m15 0h5m5 0h5m5 0h5m5 0h5m7 0h5m5 0h5m43 0h5m3 0h7m5 0h7m7 0h5m11 0h5m13 0h7m1 0h5m13 0h5m3 0h5m5 0h5m17 0h5m15 0h9m13 0h5m9 0h5m3 0h9m3 0h5m7 0h5m5 0h5m11 0h13m5 0h9m5 0h11m9 0h5m17 0h5m39 0h5m5 0h9m1 0h7m3 0h5m5 0h5m5 0h5m3 0h5m3 0h5m1 0h5m15 0h5m7 0h5m11 0h5m1 0h9m7 0h11m3 0h21m5 0h5m13 0h5m7 0h15m1 0h5m5 0h5m1 0h7m7 0h5m11 0h5m3 0h17m3 0h11m1 0h5m13 0h21m17 0h5m1 0h5m1 0h15m5 0h11m5 0h5m11 0h5m3 0h5m5 0h5m1 0h5m29 0h5m31 0h5m3 0h5m1 0h5m3 0h11m13 0h5m15 0h7m5 0h5m1 0h5m9 0h5m15 0h9m5 0h7m31 0h5m5 0h5m1 0h5m5 0h7m3 0h5m17 0h5m1 0h5m9 0h9m7 0h7m1 0h7m5 0h5m19 0h7m13 0h11m29 0h5m9 0h5m5 0h7m23 0h5m21 0h11m29 0h5m1 0h5m7 0h5m45 0h5m1 0h5m13 0h5m15 0h5m3 0h5m3 0h5m11 0h11m29 0h13m11 0h5m1 0h5m3 0h11m1 0h5M10 85h5m5 0h5m5 0h9m9 0h5m17 0h7m3 0h5m5 0h5m5 0h9m25 0h9m1 0h5m11 0h5m3 0h5m23 0h5m23 0h5m41 0h5m23 0h5m5 0h7m1 0h7m9 0h7m25 0h15m15 0h5m79 0h5m13 0h5m11 0h5m3 0h5m21 0h5m17 0h11m17 0h5m15 0h7m1 0h5m5 0h7m7 0h5m3 0h9m13 0h5m1 0h5m15 0h5m1 0h9m1 0h5m15 0h5m3 0h5m1 0h5m13 0h5m7 0h5m1 0h5m7 0h5m13 0h5m3 0h5m3 0h11m1 0h9m3 0h5m7 0h9m7 0h5m19 0h5m13 0h5m11 0h5m17 0h9m13 0h5m3 0h5m5 0h13m1 0h5m9 0h7m3 0h5m11 0h5m9 0h9m3 0h5m1 0h5m9 0h9m17 0h5m1 0h9m3 0h5m1 0h5m1 0h5m1 0h5m1 0h5m11 0h5m1 0h5m1 0h5m7 0h5m5 0h15m11 0h5m3 0h9m5 0h5m15 0h5m3 0h19m3 0h5m3 0h5m19 0h5m1 0h5m3 0h5m15 0h5m9 0h5m11 0h5m3 0h5m19 0h9m1 0h5m7 0h7m5 0h5m13 0h7m17 0h7m15 0h5m7 0h5m7 0h5m5 0h5m61 0h5m5 0h5m1 0h7m29 0h5m11 0h5m13 0h5m9 0h5m9 0h9m97 0h5m1 0h5m3 0h7m11 0h5m1 0h5m1 0h5m1 0h11m13 0h5m29 0h7M28 86h5m17 0h5m13 0h5m29 0h5m25 0h5m11 0h11m9 0h5m7 0h7m3 0h11m9 0h5m5 0h7m55 0h5m23 0h5m7 0h5m31 0h9m15 0h7m15 0h5m5 0h5m5 0h5m13 0h5m11 0h5m1 0h5m7 0h5m13 0h5m9 0h9m23 0h5m5 0h5m13 0h5m49 0h7m33 0h5m5 0h9m13 0h5m9 0h5m17 0h5m5 0h5m7 0h5m1 0h5m7 0h5m7 0h7m7 0h5m25 0h9m1 0h13m11 0h5m1 0h5m3 0h7m29 0h5m3 0h5m5 0h7m1 0h7m3 0h15m1 0h5m5 0h7m1 0h15m9 0h11m7 0h17m1 0h9m3 0h19m7 0h5m15 0h5m3 0h5m17 0h11m15 0h5m15 0h5m9 0h5m1 0h5m11 0h5m27 0h5m1 0h5m13 0h5m11 0h5m3 0h7m1 0h7m59 0h5m27 0h5m3 0h9m5 0h5m3 0h9m5 0h5m7 0h5m1 0h5m13 0h5m31 0h5m7 0h5m11 0h5m13 0h7m11 0h5m15 0h5m7 0h9m11 0h5m5 0h5m29 0h5m19 0h5m19 0h5m19 0h11m1 0h5m5 0h5m1 0h5m11 0h7m7 0h5m7 0h5m13 0h5m21 0h5m21 0h9m63 0h5m23 0h5M54 87h5m17 0h5m7 0h7m17 0h5m11 0h5m1 0h5m33 0h5m41 0h5m65 0h5m3 0h5m21 0h5m3 0h5m11 0h13m5 0h11m1 0h5m15 0h5m7 0h5m15 0h5m11 0h7m1 0h5m3 0h7m5 0h5m21 0h5m11 0h5m3 0h5m35 0h9m23 0h5m15 0h9m5 0h7m1 0h9m1 0h5m11 0h5m3 0h9m35 0h5m7 0h5m1 0h5m37 0h5m5 0h9m1 0h7m1 0h5m11 0h5m19 0h9m1 0h5m5 0h5m11 0h9m9 0h5m11 0h13m1 0h5m9 0h7m1 0h13m5 0h17m7 0h11m11 0h5m1 0h7m21 0h9m17 0h9m7 0h11m5 0h9m19 0h5m7 0h5m27 0h9m11 0h5m27 0h5m21 0h5m55 0h5m5 0h5m9 0h9m1 0h15m17 0h5m3 0h5m1 0h9m11 0h5m13 0h5m5 0h5m11 0h5m11 0h9m3 0h5m9 0h15m29 0h5m15 0h7m1 0h5m11 0h9m11 0h11m13 0h5m13 0h5m7 0h5m13 0h5m7 0h7m15 0h5m7 0h5m13 0h5m5 0h5m17 0h7m1 0h5m3 0h5m1 0h5m15 0h7m5 0h5m37 0h5m9 0h5m13 0h11m15 0h5m3 0h5m17 0h5m1 0h5m17 0h5M48 88h5m7 0h5m35 0h5m7 0h5m9 0h5m3 0h5m5 0h5m5 0h9m67 0h5m5 0h7m7 0h7m51 0h5m23 0h5m1 0h7m3 0h5m5 0h9m5 0h7m7 0h5m15 0h5m17 0h5m11 0h5m9 0h11m11 0h5m3 0h7m1 0h9m17 0h11m9 0h5m11 0h9m1 0h5m1 0h5m15 0h5m7 0h5m3 0h5m7 0h7m11 0h5m5 0h5m7 0h5m9 0h9m7 0h5m11 0h5m11 0h5m11 0h5m3 0h5m3 0h5m3 0h5m13 0h15m7 0h5m21 0h9m1 0h5m11 0h5m19 0h5m3 0h5m9 0h5m7 0h7m1 0h5m5 0h5m7 0h19m17 0h9m1 0h5m11 0h5m23 0h17m1 0h5m13 0h5m1 0h9m7 0h5m5 0h9m5 0h5m9 0h5m1 0h5m23 0h5m23 0h9m7 0h5m21 0h5m5 0h5m1 0h5m23 0h5m11 0h5m11 0h5m57 0h5m59 0h5m9 0h5m7 0h5m13 0h5m7 0h7m11 0h5m37 0h5m33 0h5m11 0h9m3 0h5m3 0h5m5 0h5m5 0h7m5 0h5m7 0h5m19 0h5m33 0h5m17 0h5m11 0h5m21 0h5m15 0h7m21 0h5m25 0h5m27 0h5m15 0h5m5 0h5m1 0h5m15 0h5m5 0h5M12 89h5m57 0h5m11 0h5m17 0h5m19 0h5m5 0h5m3 0h5m19 0h5m29 0h9m45 0h5m11 0h5m15 0h5m27 0h7m23 0h5m11 0h7m23 0h7m1 0h5m11 0h7m1 0h7m1 0h9m5 0h5m77 0h5m17 0h5m31 0h5m1 0h5m13 0h5m3 0h9m31 0h5m53 0h5m17 0h5m1 0h9m7 0h5m19 0h5m39 0h7m5 0h9m15 0h5m9 0h7m3 0h5m3 0h5m13 0h5m23 0h5m1 0h5m5 0h5m5 0h5m7 0h9m1 0h9m5 0h5m19 0h5m5 0h5m5 0h5m7 0h5m19 0h9m11 0h5m1 0h9m1 0h5m3 0h5m3 0h5m1 0h9m7 0h9m23 0h13m3 0h5m17 0h7m13 0h9m3 0h5m3 0h9m13 0h5m9 0h7m1 0h11m23 0h5m17 0h5m7 0h9m25 0h9m3 0h9m5 0h5m27 0h5m7 0h11m3 0h5m1 0h9m19 0h7m13 0h5m31 0h5m71 0h5m1 0h5m73 0h5m19 0h5m21 0h5m11 0h5m13 0h5m37 0h5m17 0h5m3 0h5m19 0h5m13 0h5m1 0h7m9 0h5M22 90h5m7 0h5m17 0h5m1 0h7m13 0h5m9 0h7m5 0h5m35 0h13m23 0h5m9 0h5m9 0h5m7 0h5m19 0h5m13 0h5m7 0h5m5 0h5m29 0h5m27 0h5m11 0h5m11 0h5m5 0h7m27 0h5m1 0h11m1 0h7m1 0h5m1 0h5m27 0h5m1 0h5m1 0h5m5 0h5m3 0h11m19 0h5m9 0h5m25 0h5m13 0h5m1 0h5m17 0h5m7 0h5m51 0h5m7 0h5m13 0h7m1 0h7m29 0h5m9 0h15m13 0h7m21 0h5m7 0h5m15 0h5m11 0h9m1 0h5m1 0h5m19 0h9m3 0h5m3 0h9m1 0h5m45 0h5m23 0h9m11 0h7m11 0h5m35 0h9m1 0h5m1 0h9m27 0h5m7 0h5m1 0h5m5 0h9m11 0h5m5 0h5m21 0h5m21 0h5m5 0h5m55 0h5m11 0h5m9 0h5m1 0h5m17 0h5m17 0h5m13 0h5m47 0h5m3 0h7m15 0h5m7 0h5m29 0h5m3 0h9m7 0h5m23 0h9m3 0h5m35 0h5m3 0h5m11 0h5m31 0h5m29 0h5m1 0h5m13 0h5m1 0h5m11 0h5m9 0h5m35 0h5m41 0h5m13 0h5m13 0h5m13 0h9M50 91h5m31 0h5m39 0h9m41 0h5m17 0h7m13 0h5m15 0h5m25 0h5m29 0h5m17 0h5m143 0h5m17 0h5m1 0h5m27 0h5m7 0h5m31 0h5m11 0h5m1 0h5m45 0h5m25 0h5m21 0h5m3 0h5m1 0h7m13 0h5m15 0h5m31 0h5m17 0h5m11 0h5m3 0h5m31 0h5m3 0h5m3 0h5m25 0h5m19 0h7m9 0h5m9 0h5m17 0h5m13 0h5m9 0h5m3 0h5m3 0h5m15 0h5m19 0h7m3 0h5m19 0h5m3 0h5m9 0h5m1 0h5m19 0h5m23 0h11m25 0h5m1 0h5m15 0h5m11 0h9m9 0h9m13 0h5m1 0h5m41 0h7m9 0h5m43 0h5m13 0h5m1 0h5m9 0h5m11 0h5m33 0h5m9 0h5m27 0h5m9 0h5m3 0h5m11 0h9m37 0h9m1 0h5m93 0h5m13 0h5m59 0h5m29 0h5m5 0h5m7 0h5m5 0h5m15 0h5m3 0h9m5 0h9M16 92h5m3 0h5m29 0h5m97 0h5m3 0h5m85 0h5m9 0h5m33 0h5m11 0h5m19 0h5m53 0h5m3 0h5m5 0h5m21 0h5m53 0h5m31 0h5m7 0h5m55 0h9m9 0h5m1 0h5m43 0h9m13 0h7m1 0h9m7 0h5m5 0h5m29 0h5m45 0h7m29 0h5m7 0h5m15 0h5m21 0h5m3 0h5m7 0h5m5 0h5m5 0h5m13 0h5m11 0h13m23 0h5m29 0h5m1 0h7m19 0h9m5 0h5m1 0h11m7 0h5m9 0h5m23 0h5m19 0h5m9 0h5m23 0h5m13 0h5m55 0h5m41 0h9m91 0h5m17 0h5m35 0h5m9 0h9m11 0h5m53 0h5m3 0h5m41 0h5m41 0h5m41 0h5m39 0h5m31 0h5m5 0h5m91 0h5m11 0h5m1 0h5m3 0h5M10 93h5m5 0h5m1 0h5m9 0h5m71 0h5m15 0h13m15 0h5m33 0h5m61 0h9m5 0h5m7 0h5m1 0h5m33 0h5m13 0h5m11 0h5m5 0h5m13 0h7m23 0h5m11 0h5m3 0h9m9 0h5m13 0h5m7 0h5m11 0h5m1 0h5m21 0h5m3 0h5m7 0h5m15 0h5m9 0h5m13 0h5m1 0h5m31 0h5m19 0h5m11 0h5m25 0h9m11 0h9m13 0h5m25 0h5m3 0h5m9 0h5m13 0h5m7 0h5m15 0h5m23 0h5m13 0h5m3 0h5m13 0h7m9 0h5m15 0h5m9 0h7m11 0h5m1 0h7m19 0h7m35 0h5m17 0h13m5 0h5m59 0h5m11 0h5m11 0h5m9 0h11m67 0h5m25 0h5m1 0h7m39 0h5m15 0h5m5 0h5m9 0h5m3 0h9m57 0h5m7 0h5m89 0h5m1 0h5m11 0h5m3 0h5m31 0h5m27 0h5m19 0h5m1 0h5m21 0h5m5 0h5m45 0h5m9 0h5m53 0h5m17 0h5M46 94h7m9 0h7m75 0h5m5 0h5m13 0h5m13 0h5m55 0h5m17 0h5m23 0h5m57 0h5m11 0h5m7 0h7m27 0h5m15 0h5m19 0h7m11 0h5m9 0h5m21 0h5m9 0h5m15 0h5m15 0h5m27 0h9m33 0h5m7 0h5m9 0h5m9 0h5m7 0h5m11 0h7m25 0h7m21 0h5m11 0h5m7 0h5m13 0h5m7 0h9m7 0h5m21 0h5m11 0h5m1 0h5m1 0h5m129 0h5m5 0h5m35 0h5m17 0h5m1 0h7m75 0h5m5 0h5m13 0h7m61 0h5m55 0h5m65 0h5m3 0h5m13 0h5m1 0h5m57 0h5m15 0h5m113 0h5m9 0h7m1 0h5m57 0h5m41 0h5m59 0h5m15 0h5m23 0h5m3 0h5m13 0h5m53 0h7M36 95h5m147 0h13m13 0h7m1 0h5m1 0h5m17 0h5m81 0h9m23 0h5m15 0h5m1 0h5m11 0h5m21 0h5m17 0h5m7 0h5m9 0h7m7 0h5m45 0h7m115 0h9m35 0h5m19 0h5m1 0h5m3 0h5m1 0h5m33 0h7m9 0h5m1 0h5m7 0h5m25 0h5m61 0h9m13 0h5m19 0h5m27 0h5m5 0h5m3 0h5m21 0h7m11 0h9m23 0h5m9 0h5m83 0h5m17 0h5m41 0h5m29 0h5m9 0h5m11 0h5m3 0h5m11 0h5m59 0h5m29 0h5m47 0h5m1 0h15m101 0h5m35 0h5m47 0h5m3 0h9m51 0h5m3 0h5m45 0h5m7 0h5m83 0h9m5 0h5m3 0h5m9 0h5M20 96h5m105 0h5m33 0h5m91 0h5m37 0h7m9 0h5m9 0h5m5 0h5m9 0h5m91 0h5m77 0h5m27 0h5m3 0h5m33 0h7m19 0h5m37 0h5m9 0h5m13 0h5m1 0h5m75 0h5m59 0h5m5 0h5m7 0h5m77 0h5m7 0h5m37 0h5m9 0h5m23 0h5m15 0h5m19 0h5m3 0h5m65 0h9m35 0h5m5 0h5m3 0h5m37 0h7m7 0h5m17 0h5m23 0h5m51 0h5m13 0h5m95 0h5m13 0h5m7 0h5m27 0h5m115 0h5m19 0h5m5 0h5m1 0h5m45 0h5m45 0h5m77 0h5m19 0h5M20 97h5m43 0h5m13 0h5m33 0h5m21 0h5m1 0h5m9 0h9m15 0h9m105 0h5m11 0h5m77 0h5m61 0h5m129 0h5m5 0h5m55 0h5m85 0h5m51 0h5m35 0h7m43 0h5m17 0h5m65 0h5m51 0h5m27 0h5m119 0h5m33 0h9m41 0h5m11 0h5m17 0h5m39 0h5m47 0h5m87 0h5m47 0h5m7 0h5m31 0h5m35 0h5m91 0h5m5 0h5m1 0h5m29 0h5m9 0h5m35 0h7m21 0h5m39 0h5m43 0h5M56 98h5m17 0h5m1 0h5m65 0h5m11 0h5m31 0h5m75 0h5m15 0h9m7 0h5m27 0h5m25 0h7m3 0h5m3 0h5m97 0h5m85 0h5m25 0h5m29 0h5m1 0h5m135 0h5m89 0h5m45 0h5m155 0h5m87 0h9m27 0h7m19 0h7m39 0h5m11 0h5m157 0h5m39 0h5m45 0h5m83 0h5m33 0h5m7 0h5m107 0h5m87 0h5m61 0h5M32 99h5m171 0h5m13 0h5m3 0h5m49 0h5m5 0h5m181 0h5m27 0h5m45 0h5m13 0h5m7 0h5m29 0h5m39 0h5m3 0h5m27 0h9m7 0h5m15 0h7m41 0h5m13 0h5m31 0h9m3 0h5m3 0h5m15 0h5m7 0h5m19 0h7m11 0h5m5 0h5m9 0h5m17 0h5m5 0h5m7 0h5m39 0h5m5 0h5m45 0h5m19 0h5m59 0h5m35 0h5m99 0h5m37 0h5m1 0h5m23 0h5m61 0h5m61 0h5m101 0h5m97 0h5m15 0h5m67 0h5m71 0h5m11 0h7m31 0h5M28 100h9m21 0h5m5 0h5m9 0h5m95 0h5m17 0h7m3 0h5m85 0h5m5 0h5m21 0h5m141 0h17m29 0h5m35 0h5m15 0h5m67 0h5m31 0h5m17 0h5m17 0h5m59 0h5m33 0h5m69 0h5m1 0h5m3 0h9m9 0h5m21 0h9m17 0h5m13 0h5m11 0h5m21 0h5m3 0h5m15 0h5m5 0h5m25 0h5m1 0h5m11 0h5m9 0h9m5 0h9m53 0h5m11 0h5m35 0h5m69 0h5m105 0h5m11 0h13m51 0h7m43 0h5m1 0h5m25 0h5m27 0h5m19 0h5m15 0h5m27 0h5m3 0h9m37 0h5m107 0h5m7 0h5m5 0h5m17 0h5m13 0h5M24 101h5m41 0h5m5 0h5m29 0h5m3 0h5m7 0h5m5 0h5m9 0h9m5 0h9m1 0h5m7 0h5m3 0h7m1 0h5m15 0h5m9 0h5m59 0h7m1 0h11m7 0h9m13 0h11m9 0h5m9 0h5m37 0h13m17 0h7m21 0h5m9 0h5m19 0h5m1 0h7m5 0h5m31 0h5m13 0h9m5 0h5m1 0h5m13 0h5m41 0h7m23 0h5m21 0h7m1 0h5m9 0h5m43 0h5m1 0h5m23 0h5m3 0h5m7 0h5m7 0h5m7 0h5m3 0h5m7 0h13m1 0h5m11 0h11m23 0h7m3 0h9m1 0h5m7 0h5m7 0h13m7 0h5m3 0h5m7 0h9m1 0h9m3 0h5m7 0h5m3 0h9m9 0h5m1 0h7m33 0h5m3 0h5m3 0h5m7 0h5m43 0h5m1 0h5m25 0h5m1 0h5m9 0h9m11 0h5m15 0h5m17 0h5m1 0h5m99 0h5m1 0h5m11 0h5m5 0h5m3 0h5m9 0h13m1 0h9m27 0h5m25 0h5m41 0h5m7 0h5m13 0h9m27 0h5m9 0h5m23 0h9m25 0h5m41 0h13m3 0h5m3 0h5m19 0h9m23 0h5m19 0h5m27 0h5m9 0h5M60 102h5m157 0h9m59 0h5m11 0h5m39 0h5m45 0h5m131 0h5m23 0h5m93 0h7m123 0h5m67 0h13m61 0h5m91 0h5m9 0h5m55 0h5m9 0h5m21 0h5m31 0h5m73 0h5m69 0h5m3 0h5m31 0h5m1 0h9m55 0h5m7 0h5m95 0h5m19 0h5m55 0h5m5 0h7m155 0h5m147 0h5M108 103h5m23 0h5m11 0h5m1 0h5m11 0h5m19 0h5m5 0h5m23 0h5m75 0h5m9 0h5m197 0h5m33 0h5m25 0h5m23 0h5m1 0h5m93 0h5m17 0h5m71 0h5m7 0h5m29 0h5m23 0h5m9 0h5m27 0h5m27 0h7m83 0h5m101 0h5m35 0h5m41 0h5m31 0h5m17 0h5m31 0h5m7 0h5m47 0h5m19 0h5m47 0h7m105 0h5m127 0h5m49 0h5m103 0h5M20 104h5m27 0h5m93 0h5m39 0h5m51 0h5m39 0h5m17 0h5m19 0h5m1 0h5m73 0h5m133 0h5m53 0h5m65 0h5m89 0h5m249 0h5m237 0h5m215 0h5m97 0h5m63 0h5m1 0h5m43 0h5m85 0h5m87 0h5m47 0h5m9 0h5M10 105h5m3 0h5m137 0h5m95 0h5m109 0h5m39 0h5m67 0h5m59 0h5m137 0h5m63 0h5m7 0h7m163 0h5m23 0h5m7 0h5m41 0h5m31 0h5m27 0h5m67 0h5m39 0h5m5 0h5m9 0h5m53 0h5m219 0h5m93 0h5m45 0h5m7 0h5m107 0h5m39 0h5m103 0h5M302 106h5m219 0h5m53 0h5m5 0h5m53 0h5m57 0h5m23 0h5m15 0h5m77 0h5m141 0h5m7 0h5m69 0h5m105 0h5m41 0h5m25 0h5m121 0h5m55 0h5m51 0h5m451 0h5M330 107h5m99 0h5m109 0h5m59 0h5m1 0h5m57 0h5m415 0h5m173 0h5m79 0h5m343 0h5M620 108h5m79 0h5m1 0h5m123 0h5m73 0h5m55 0h5m215 0h5m83 0h5m5 0h5m489 0h5m13 0h5m129 0h5M76 109h5m13 0h5m127 0h5m483 0h5m15 0h5m69 0h5m587 0h5m271 0h5m227 0h5M38 110h5m67 0h5m27 0h5m515 0h5m7 0h5m23 0h5m241 0h5m45 0h5m195 0h5m163 0h5m207 0h5m103 0h5m107 0h5m109 0h5m59 0h5M1008 111h5m111 0h5m19 0h5m285 0h5m41 0h5m179 0h5m81 0h5m65 0h5M344 112h5m35 0h5m359 0h5m373 0h5m39 0h5m255 0h5m69 0h5m121 0h5m245 0h5m99 0h5M50 113h5m407 0h5m151 0h5m57 0h5m99 0h5m73 0h5m27 0h5m23 0h5m135 0h5m381 0h9m83 0h5m37 0h5m125 0h5m77 0h5m21 0h5m41 0h5m115 0h5M268 114h5m13 0h5m57 0h5m265 0h5m557 0h5m147 0h9m101 0h5m81 0h5m291 0h5m7 0h5m51 0h5m25 0h5m5 0h5M156 115h5m127 0h5m179 0h5m235 0h5m189 0h5m63 0h5m91 0h5m29 0h5m9 0h5m53 0h5m7 0h5m353 0h5M180 116h5m313 0h5m199 0h5m53 0h5m209 0h5m93 0h5m29 0h5m271 0h5m399 0h5M1008 117h5m95 0h5m649 0h5M744 118h5m199 0h5m53 0h5m175 0h5m181 0h5m125 0h5m343 0h5M412 119h5m443 0h5m601 0h5m163 0h5m67 0h5m233 0h5M30 120h5m489 0h5m527 0h5m287 0h5m483 0h5M632 121h5m877 0h5m189 0h5M198 122h5m823 0h5M344 123h5m245 0h5m7 0h5m379 0h5M640 124h5m237 0h5m59 0h5m213 0h5M158 125h5M890 126h5m95 0h5m87 0h5m369 0h5M536 127h5M1080 129h5M1292 132h5M1058 134h5M1942 135h5M18 136h5M118 137h5m761 0h5M186 138h5M1828 142h5M574 144h5M680 147h5M778 148h5m1179 0h5M540 150h5m127 0h5M1542 156h5M930 185h5M1036 200h5" vector-effect="non-scaling-stroke"/></defs>
<use href="#pts" fill="none" stroke="#000" stroke-width="1.3"/>
<use href="#pts" fill="none" stroke="#000" stroke-width="1" shape-rendering="crispEdges"/>
<path d="M59.76 321.42H592.19" stroke="#CD3333" stroke-width="2.25" stroke-dasharray="9 9" stroke-linecap="round" fill="none" clip-path="url(#cb1)"/>
<path d="M281.25 580.24V47.81" stroke="#006400" stroke-width="2.25" stroke-dasharray="9 9" stroke-linecap="round" fill="none" clip-path="url(#cb1)"/>
<path d="M369.71 580.24V47.81" stroke="#006400" stroke-width="2.25" stroke-dasharray="9 9" stroke-linecap="round" fill="none" clip-path="url(#cb1)"/>
<rect x="59.76" y="47.81" width="532.43" height="532.43" fill="none" stroke="#000" stroke-width="0.75"/>
<path d="M126.68 580.24v6.0M226.08 580.24v6.0M325.48 580.24v6.0M424.88 580.24v6.0M524.28 580.24v6.0M59.76 560.53h-6.0M59.76 437.28h-6.0M59.76 314.03h-6.0M59.76 190.78h-6.0M59.76 67.53h-6.0M126.68 580.24H524.28M59.76 560.53V67.53" fill="none" stroke="#000" stroke-width="0.75"/>
<g font-size="10" text-anchor="middle">
<text x="126.68" y="601.5">-400</text>
<text x="226.08" y="601.5">-200</text>
<text x="325.48" y="601.5">0</text>
<text x="424.88" y="601.5">200</text>
<text x="524.28" y="601.5">400</text>
<text transform="translate(44.6 560.53) rotate(-90)">80</text>
<text transform="translate(44.6 437.28) rotate(-90)">85</text>
<text transform="translate(44.6 314.03) rotate(-90)">90</text>
<text transform="translate(44.6 190.78) rotate(-90)">95</text>
<text transform="translate(44.6 67.53) rotate(-90)">100</text>
</g>
<text x="323.18" y="32" font-size="21.5" font-weight="bold" text-anchor="middle">Top hit for each peak</text>
<text x="325.98" y="625.5" font-size="15.75" text-anchor="middle">Distance to peak summit</text>
<text transform="translate(21.8 314.02) rotate(-90)" font-size="15.75" text-anchor="middle">Motif score</text>
<clipPath id="c2"><rect x="699.76" y="47.81" width="532.43" height="532.43"/></clipPath>
<g clip-path="url(#c2)"><g filter="url(#bl)" fill-rule="evenodd">
<path fill="rgb(253,253,255)" d="M700 56l6-1l14-1l12-3l6-0.5l20 1l4-1l3.5-2.5l466.5 0l0 289l-1.5 3l0.5 8l-1 4l-4 4l-3.5 2l-4.5 1.5l-6 1.5l-30 2l-8-0.5l-18-1l-5.5 0.5l-5 2l-2.5 2l-4.5 6l0 2l2 4l0 2l-1.5 4l-1 2.5l-2 2.5l-2 1.5l-4 1l-8-0.5l-8-1.5l-6-2.5l-4-3l-1-2l0-2l1.5-2l3.5-2l8.5-4l1-2l-1-2l-4.5-4.5l-4-1.5l-4 0l-8 0.5l-16 4l-6 0.5l-26-1.5l-14-0.5l-11 1l-53.5 10l-8 2l-7.5 3.5l-4 1l-4-0.5l-4-1.5l-2-1l-3.5-3.5l-2.5-2l-4.5-2l-9-2l-28.5-4.5l-6 0.5l-10 3l-8 1.5l-8 0.5l-20 0.5l-10-0.5l-14-2l-22-1.5l-12-2l-4 0l-4 1.5l-6 5l-4 2.5l-6 2.5l-8 2.5l-8 1.5l-10 0.5l-8-0.5l-6-2l-18-13zM1009 382l3-1l2 1l-1 2l-1 0l-2-1zM1147.5 400l-0.5 4l-2.5 4l-2.5 2l-5 2l-7 0.5l-6-0.5l-6-2l-2-2l0.5-2l3.5-3l12-6.5l4-1.5l4 0l4 1l2.5 2z"/>
<path fill="rgb(252,252,255)" d="M700 62.5l6-2l6-0.5l12 0l16-3l16 1l8-1l4.5-1l3.5-2l4.5-6l23.5 0l8 4.5l4 1l4 0.5l6-1l16-3l8-0.5l16 0.5l4-0.5l4.5-1.5l231 0l6.5 2l8 0.5l7.5-0.5l8.5-2l15 0l7 4.5l2.5 1.5l3.5 0.5l12-0.5l16-4l8-1l24 2l6 1l4 1.5l2 2l0 6.5l-3.5 6l0 2l0.5 2l3 2.5l0 249.5l-12 10.5l-9.5 5.5l1 2l4.5 3.5l1.5 2.5l0 2l-1.5 2l-3 2l-5 1l-26 3l-12 0l-18-3l-4-1.5l-3-1.5l-6-6l-5-2l-32-0.5l-4.5 0.5l-5 2l-1 2l0 4l-1 2l-6 4l-6.5 1.5l-10 0.5l-16-2.5l-6 0l-40 4l-20 5l-12 2.5l-10 0.5l-10 0l-40-6.5l-6-2l-14-6.5l-10-2.5l4-10l0-2l-1-2l-1-0.5l-6-1l-9 1.5l-5 2l-2 2l0.5 2l3.5 2.5l6 2.5l9.5 3l0 2l-2.5 4l-3.5 4l-5.5 2.5l-6 2l-12 0.5l-24-2l-22-1l-8-0.5l-8-2.5l-4-2l-8-5l-4-1l-4 0l-4 1.5l-22 12l-4 1l-8-0.5l-10-1.5l-12-4l-4-2.5l-4-3.5l-3-5.5l-1-6zM936 342l2 2l4 1l18 3.5l6 0l4-0.5l3-2l-0.5-2l-1.5-2l-2.5-2l-4.5-2l-6-1l-8-0.5l-8 1l-5.5 2.5z"/>
<path fill="rgb(251,251,255)" d="M700 79l6.5-5l3.5-5.5l0.5-0.5l3.5-0.5l8 1l4-0.5l4-0.5l10-4l4-1l16-1l6-0.5l8-2.5l14-5.5l4 0l16 6l4 1l4 0l24-6l8 0l16 0.5l8-0.5l5-2l3.5-4l160.5 0l9 2.5l8 0.5l26-2l6.5 1l10 4l5.5 1l28 0l16 4.5l6 1l25-2.5l19-3l12 0l5 1l4.5 2l1.5 2l-0.5 2l-2 6l0 2l1 2l2 2l8.5 4.5l0 240l-8 5l-12 5l-18 3.5l-6 2l-2.5 2l-1.5 2l0 2l0.5 2l4 6l0 2l-2.5 2l-8 2l-10-0.5l-10-2l-6-3l-6-6.5l-4-1.5l-24 0l-20-2l-8-0.5l-18 1.5l-16-0.5l-8.5 1l-7 2l-4 2l-8.5 6l-4 2l-6 1l-8 0.5l-4-0.5l-4-1.5l-9-5.5l-16.5-8l-5.5-2l-13-2l-13.5 0l-8.5 1l-7.5 3l-5.5 4l-1.5 2l0.5 2l5 2l19 2l22 5l12 1l4.5 2l-1 2l-4 2l-5.5 1l-12 2l-10 0l-8-1l-21-4l-6-2l-3-2l-4-5l-8-5l-1.5-2l-1-4l-1-2l-2-2l-4-2l-2.5-1l-8-1l-11.5 2l-20.5 4.5l-4 0.5l-4 0l-18-3l-8-1l-6 0.5l-8.5 2.5l-5 4l-1.5 2l3 1.5l18 2.5l16 3l4 0l8-3l4-0.5l8 1l8 3.5l3.5 2l2 2l0.5 2l-1 2l-3.5 2l-3.5 1l-6 0l-6-0.5l-12-4l-4-0.5l-20 2.5l-6 0l-6-1l-5.5-1.5l-3-2l-2-4l0-4l-1.5-2l-8-1l-8 0l-6 1.5l-18 9.5l-10 3.5l-4 0.5l-6 0.5l-6-1l-4.5-1.5l-3.5-2l-3-4l-1.5-10l-1-2l-3.5-4l-7-5z"/>
<path fill="rgb(250,250,255)" d="M700 82l6-3l6-2.5l6-1.5l11.5-1l4.5-1.5l12-5.5l5.5-1l14.5-1.5l18-5l8 0l16 4.5l4 1l6 0l6-1.5l12-4l6-1l28-0.5l10-1.5l5-2.5l3.5-6l138 0l7.5 1l12 4.5l6 1.5l8 0l16-1.5l6 0l4 1l12 4l8 0.5l22 0l6 1l12 3.5l6 1l6 0l20-2.5l24-0.5l6 1l1.5 1.5l2 6l1.5 2l3 2l12 5l4 3l0 229.5l-4 5l-8 4.5l-12 4l-22 5.5l-7.5 3.5l-2 2l-1 2l0.5 8l-2 2l-4 1l-6-0.5l-4-1.5l-4-3l-2.5-4l-1.5-2l-2-1l-4-0.5l-16 2l-8 0l-8-0.5l-16-3l-8-1l-38 1l-12 2l-4 1l-16 6l-8 1l-8-1.5l-22.5-7.5l-9.5-2.5l-18-1.5l-12 0l-10 1.5l-14 3.5l-6 0.5l-4-1l-12-5l-6-1.5l-6-0.5l-6 0.5l-18 3l-10 1l-32-1.5l-10 0.5l-6 1l-14 4.5l-20 2.5l-14 4l-6 0.5l-4-1l-4-6.5l-2-2l-2-1.5l-4-1l-16 0l-10-3l-6-3zM806 354l4-0.5l2 0.5l-2 1zM940 356l7 0l4.5 2l-1.5 1l-4 0l-5-1z"/>
<path fill="rgb(247,247,255)" d="M700 84.5l6-3.5l6-2l6-1l20-2l14-5l16-2.5l16-5l8 0l11.5 4.5l4.5 0.5l8 0.5l8-0.5l8-1l20-5l26-3l9-1.5l5.5-2l3-2l2.5-3l2-1.5l4 0l14 0l17.5-1.5l50 0l12.5 1.5l24 0l10 2l12 5.5l4 1.5l6 0.5l20-1l6 0.5l10 3l6 0.5l28 0l8 1.5l12 5l4 0.5l8 0l16-2.5l8 0.5l10 1.5l14.5 5.5l11.5 3l8 2.5l4 2.5l4 3l0 221.5l-7 7.5l-3 2.5l-10 4l-12 4l-21.5 5.5l-12.5 3.5l-18-0.5l-22 3.5l-10-0.5l-16-3.5l-6-1l-38 1l-18.5 1.5l-7.5 2l-10 3.5l-8 1l-8-1.5l-19-5l-13-2l-32-1.5l-8 0.5l-12 2.5l-6 0l-6-1l-16-4l-10-1l-22 3l-8 0.5l-44 0l-7.5 1l-16.5 3.5l-24 1.5l-6-1l-8.5-4l-7-2l-6.5-0.5l-16 0.5l-6-1l-4-1.5l-6-3z"/>
<path fill="rgb(242,242,255)" d="M1232 98l-0.5 192l-1.5 6l-4 4l-30 16l-6 2l-8 2l-26 2l-32 5l-6-0.5l-12-1.5l-8-0.5l-22 0.5l-44 0l-28 1.5l-36 0.5l-14-0.5l-76-7l-8 1l-16 3l-22 1.5l-68-0.5l-8-0.5l-22-3.5l-16 0l-4-0.5l-4-1l-3.5-3l-0.5-2l0-2l2-6l0-4l-8-14.5l0-187l5.5-8.5l2-2l3.5-2l7-2l6 0l20 2.5l8 0l8-1.5l16-5.5l10-1.5l24-1l28 1l32-5l20-1l1.5 0l2.5-1.5l4-4.5l3.5-2l6.5-2.5l10-2l18-1.5l22-5.5l10-1l28 3l16.5 3.5l3.5 2l1 2l-4.5 6l0.5 2l5 2l19.5 2l8.5 0l20-1.5l14 1.5l8 0l16-1.5l6 0l6 0.5l18.5 5l11.5 1.5l22 1l20 2l22 0.5l4 1l4.5 2z"/>
<path fill="rgb(237,237,255)" d="M700 108l6-5.5l8-6l4-2l4-1l6-0.5l20 1l10-0.5l9-1.5l17-6l8-1l18 0l24 1l8-0.5l22-3.5l30-0.5l8-1l10.5-2.5l11.5-5l12-3.5l18-7.5l8-2l8-1l12 1l8.5 2l4 2l1.5 1.5l0.5 6.5l2.5 2l4.5 2l9.5 2l39 3.5l34 0l20-1.5l8 0l8 1.5l32 7l30 4.5l22 0.5l6 1l6 2l8 3l6 4l0 171l-7 9.5l-5 8.5l-4 3.5l-3.5 2l-18.5 6.5l-6 1.5l-4 0.5l-4-0.5l-4-1.5l-8-4.5l-4-1l-3.5 1l-1 2l1 4l-1 2l-3.5 4l-3.5 2l-6.5 2l-8 2l-8 1.5l-10 0l-14-3l-4-0.5l-14 3l-6 1l-54-1.5l-34 3.5l-24 1.5l-12 0l-10-1l-14-2.5l-22-6.5l-16-1l-8-1l-10-3l-14-5.5l-6-1.5l-8-0.5l-10.5 1l-4.5 2l2.5 2l10 6l1 2l-0.5 2l-3.5 2l-8 2l-10.5 1l-12-0.5l-15-2.5l-11-3l-22 4l-8 0l-7-1l-5.5-2l-2-2l0-2l4.5-3.5l6-2l8-1l8 0l6 1.5l10 4l4 0l4-0.5l20-6.5l1-2l-5-2l-10-1.5l-26 0.5l-24-3l-22-0.5l-6-1l-6-2.5l-6-4.5l-6-6l-4-5.5zM1074.5 304l1.5 2l6 2l12 2l6 0.5l1.5-0.5l0-2l-3-2l-5.5-2l-9-2l-6 0z"/>
<path fill="rgb(232,232,255)" d="M700 115l4-5.5l6-5l8-3.5l8-2l8-1l22-0.5l26-2l30 2.5l14-0.5l8-1.5l18-6l10-2.5l14-1.5l22-0.5l12-2l36-9.5l4-2l5.5-4l4.5-2l10-1.5l6 0.5l3.5 1l2.5 2l2.5 4l2.5 2l4.5 2l7.5 2l15 2.5l36 5l22 0.5l16 1.5l6 0l14-2.5l8 0l5.5 1l6.5 1.5l15 6.5l9 2l28 3l28-0.5l10 2l8 3.5l2.5 2l3.5 3.5l0 159l-8 8.5l-12 9.5l-8 5l-8 3l-6 0l-16-4l-10-0.5l-14.5 2l-28.5 6l-11 0.5l-10-1l-22-5l-10 0l-7 1.5l-11 5l-6 1.5l-6 0.5l-16-1l-6 1l-4 1l-3 2l-0.5 2l1.5 6l-1.5 2l-3.5 2l-13 2.5l-24 2.5l-12-0.5l-12-2l-8-2.5l-4-2l-8-5.5l-4-1.5l-24-4l-22-5l-10-2l-12-1l-26 0l-30-2.5l-28-0.5l-32-3.5l-14-3l-8-3l-6-4.5l-4-4.5l-4-7.5z"/>
<path fill="rgb(227,227,255)" d="M700 123.5l4-8l4.5-5.5l7.5-4.5l12-3l12-1.5l28-1l44 2.5l16-0.5l23-4l23-6l22-2l8-1.5l32-8.5l24-5.5l6-0.5l8 0.5l13.5 3.5l42.5 7.5l7 2.5l10 4l15 2.5l13 3.5l13 1l10-1l6-1l10-2.5l6-1l6 1l18 4.5l12 1.5l24 2l26-0.5l10 1l6 2l4 3l3 4l3 6l0 143.5l-2 4.5l-2 2.5l-8 6.5l-12 6l-12 3.5l-6 1l-24-0.5l-24 3l-20 0l-18 2.5l-8-0.5l-18-4l-6 0l-6 1l-8 1.5l-18 5.5l-6 0.5l-22 0.5l-6 1l-7 2l-4.5 2l-2 2l-0.5 2l2.5 6l-0.5 2l-3 2l-9 2.5l-14 1.5l-9 0l-9.5-2l-5-2l-3-2l-5.5-6l-6-3l-26-4l-38-8.5l-10-0.5l-30 1l-30-2.5l-28-0.5l-17-2l-27-5.5l-8-3l-6-4l-4-5l-6-10z"/>
<path fill="rgb(222,222,255)" d="M702 128l2-5l2.5-5l5-6l6.5-3.5l10-3l14-1.5l20-1l10 0.5l18 2l24 1l10-1l28-4l26-5l22-3l10-2.5l28-9l16-3l10-1l14 0.5l26 4.5l21 5l4.5 2l6.5 4l5.5 2l36.5 5l14 0.5l26-2.5l6 0l26 4l18 1.5l14 0.5l22-0.5l10 1l6 2.5l4.5 4l3.5 6l4 11.5l0 124l-4.5 10.5l-1.5 2l-4 3.5l-4 2.5l-6 2l-14 3.5l-56 6.5l-20-1l-22 1.5l-18-3l-8 0l-14 2.5l-24 5.5l-31.5 2.5l-22.5 5l-28 3.5l-6 0l-36-4l-22-5l-18-5l-6-1.5l-8 0l-18 2l-14 0.5l-10-0.5l-20-2.5l-24 0l-10-1.5l-20-4.5l-18-3l-6-2l-5.5-3.5l-2.5-3l-10-13.5l0-115zM960.5 312l0-2l3.5-1.5l6 0l3.5 1.5l-1 2l-6.5 0.5z"/>
<path fill="rgb(217,217,255)" d="M700 147l5.5-19l4.5-7.5l3.5-4.5l2.5-2.5l4-2.5l6-2l14-2l20-1l12 0.5l18 2.5l20 1l10-1l37-5l23-5l23-3l7.5-2l29.5-10l12-2.5l10-1l16 0l22 3.5l18 4.5l14 7.5l6 2l38 5l14 1l34-1.5l42 5l12 0.5l24-0.5l8 0.5l6 2l3 2l3 2.5l4 6.5l3 9l3 5.5l0 113l-7.5 13.5l-2.5 3.5l-6 3.5l-10 2.5l-34 4.5l-22 3.5l-8 1l-22-1l-18 0.5l-18-2.5l-6 0l-44 8l-26 3l-24 4l-10 1l-22 1l-32-1l-10-1l-14-3l-22-7l-6-1l-8-0.5l-24 3l-12 0l-8-1l-18-3.5l-16 1l-8-0.5l-20-5.5l-26-2.5l-7.5-2l-4.5-3l-12-12.5l-4-6.5z"/>
<path fill="rgb(212,212,255)" d="M701 152l2.5-8l6.5-15.5l2-3.5l4-5l4.5-4l3.5-2l6-2l16-2.5l16-1l10 1l24 4l10 0.5l8 0l22-4.5l24-3.5l22-5l22.5-3l7.5-2l30-10.5l10-2l10-1.5l16 0l18 2.5l16 4.5l13.5 7l10.5 3.5l40 5.5l14 0.5l34-0.5l10 1l32 5.5l30-1l12 1l6 2.5l6 4.5l3 5.5l3.5 8l5.5 7.5l0 20.5l-1 4l1 5.5l0 73.5l-3.5 7l-8.5 12.5l-5.5 3.5l-6.5 1.5l-36 3l-20 5.5l-10 1l-22-1l-16 0l-6-0.5l-10-2.5l-8-0.5l-28 6.5l-44 6.5l-20 3.5l-12 1.5l-12 0l-22-1l-18 0.5l-8-0.5l-10-1l-10-2.5l-18.5-6l-7.5-2l-8 0l-22 2l-12 0l-8-1l-14-4.5l-6-1l-20-0.5l-8.5-3l-5.5-1.5l-24 0.5l-12-1l-8-2.5l-12-8.5l-6-6.5l-3-6.5l-1-6.5l0-78z"/>
<path fill="rgb(207,207,255)" d="M700 167.5l2-7.5l2-12l3-6l9-13.5l8-7.5l4-3l6-2.5l5.5-1.5l10.5-1.5l14-1l8 1l22 5l12 1.5l8-0.5l6-1l17-5.5l23-4l22-5l26-4l10.5-3l21.5-7.5l10-3l10-1.5l8-0.5l16 1l8 1.5l10 2l8 3l15 7l6 2l9 2l42 5l36 0l12 1l9 2l7.5 2l5 2l8.5 4.5l4 1.5l6 0l14-4l8-1l12 1l6 1.5l4 2l4.5 4.5l4.5 8l7 8l2 4l0 9.5l-3 10.5l2.5 16l0 14l-1.5 14l2 12l0 16l-2 6l-1.5 4l-6.5 9l-6 6l-4 1.5l-4 1.5l-18 1l-18-1.5l-6 0l-4 1.5l-7.5 5l-4.5 2l-6 1.5l-6 0.5l-28-2l-6-1l-13-3l-9-0.5l-6 1.5l-14 4.5l-8 2l-24 3l-38 8l-14 1.5l-12 0l-24-2l-20 0.5l-10-0.5l-14-2.5l-20-7l-8-1.5l-6 0l-20 1.5l-10-0.5l-10.5-2l-11.5-5.5l-6-1.5l-30-6l-8 0l-20 4l-12-0.5l-10-2l-10-5l-8-5.5l-2-3l-2-3l-2-8l-2-5.5z"/>
<path fill="rgb(201,201,255)" d="M700 173.5l3.5-11.5l2.5-12l1.5-4l2.5-4l4-4.5l4-3.5l11-6l9-7.5l5.5-2.5l10.5-2.5l10-0.5l6 1l14 4.5l8 1.5l18 2l8-0.5l4-1l12-6l6-2l20-4l22-6l20-2.5l8-2l40-12.5l16-2l14 0l10 1.5l8 2l28 11l14 3l40 6l38 1l14.5 2l7 2l4.5 2l12 9.5l6 2l8 0.5l20-4l8-1l8 0.5l6 2l14 13l2.5 3.5l1.5 4l0 6l-3.5 12l0.5 4l2 10l0.5 14l-2 16l3 16l0 8l-2.5 10l-4 7l-8 7.5l-4 2l-6 1.5l-12 0.5l-22-2.5l-8 0.5l-8 2l-3 1.5l-5 4.5l-4 2l-4.5 1.5l-5.5 0.5l-14-1.5l-22-5l-8-1l-8 0.5l-10 2l-13 4.5l-7 1.5l-22 3.5l-32 8l-18 3l-14 0l-26-3l-20 0.5l-10-0.5l-12-2.5l-18-7l-8-2l-6 0l-18 1.5l-6 0l-5.5-1l-4.5-2l-2.5-2l-3.5-6l-2-2l-6-2l-18 1.5l-8-0.5l-16-2.5l-8-0.5l-6 1l-14 3l-10 0.5l-12-2l-10-4l-4.5-2.5l-3.5-4l-3.5-10l-4.5-9.5l0-22.5l1-6l-1-6.5z"/>
<path fill="rgb(196,196,255)" d="M700 179l6-17l2-12l4-6.5l4-4l6-3l18.5-4.5l4-2l5.5-6l4-2.5l6-1l6 0.5l2.5 1l9.5 4.5l6 1l30 1.5l8-0.5l3-0.5l3-1.5l8-6.5l4.5-2l6-2l15.5-3.5l18-5.5l28.5-5l35.5-11l10-2.5l12-1.5l12 0l14 3l29.5 10l14.5 4l22 3l22 4l44 3.5l8 1l5.5 2.5l3 2l10 10l4 2l3.5 0.5l8 0.5l20-1.5l18-0.5l8 1.5l6 2.5l4 2.5l4 4l1.5 2.5l1 4l-0.5 6l-3.5 10l0 4l2.5 10l0.5 14l-2 16l3.5 16l0 6l-2.5 10l-1.5 4l-3 4l-4 3.5l-4 2.5l-8 2.5l-12 0.5l-22-2l-12 0.5l-9.5 2.5l-4 2l-6.5 4l-4 1.5l-4 0.5l-8-0.5l-14-5l-6-1l-12 0l-12 1l-12 1.5l-20 4.5l-16 4.5l-32 10l-10 2l-10 1.5l-14-0.5l-30-3.5l-24-0.5l-8-1l-6-1.5l-20-8.5l-6-2l-6-0.5l-14 2l-7-0.5l-4-2l-6-6l-2.5-2l-4.5-2.5l-6.5-1.5l-7.5-0.5l-12 1.5l-8 0.5l-20-2.5l-8-0.5l-8 1l-14 3l-6 0.5l-10-1l-10-3.5l-5-2.5l-3-4l-3.5-8l-4.5-9l-2-5l0-12.5l2.5-7.5l0.5-4l-0.5-4l-2.5-7.5z"/>
<path fill="rgb(191,191,255)" d="M701 182l1-4l6-14l2-12l1.5-4l4.5-5l4-2.5l4-1.5l36-6l20 0.5l18-1.5l20 0.5l8-0.5l6.5-2l7.5-6.5l5.5-3.5l18.5-5.5l18-6.5l26-4.5l28-8.5l18-4.5l12-2l10 0.5l12 2.5l46 13l24 4l18 4.5l17 3l5 2l5 6l4 2l5-0.5l8-4l4-1l4 0l4 0.5l4.5 3l7.5 8l3.5 2l6.5 1.5l10 1l22-1.5l20 0l8 1.5l6 2.5l3.5 3l1.5 2l1.5 4l-0.5 6l-3 6l-1.5 4l0.5 4l2.5 8l0.5 18l-1.5 10l-0.5 4l0.5 4l3.5 12l0 6l-0.5 4l-2 6l-3.5 6l-5 4l-8 3.5l-10 1l-24-1.5l-14 0l-12 2l-14 4.5l-4 0.5l-4-1l-10-3.5l-8-0.5l-40 3.5l-18 0.5l-4 1l-5.5 2l-11.5 6l-13 5.5l-18 6l-10 2l-8 1l-16 0l-28-4l-22-1l-8-1l-6-1.5l-7.5-3l-16.5-10l-4-2l-6-1l-14 1l-4-0.5l-4-1l-14-5.5l-8-2l-8 0l-22 1l-26-2.5l-8 1l-14 3l-8 1l-8-1l-6-1.5l-4.5-2l-4.5-4l-4-8l-5-8.5l-2.5-5.5l-1-4l0.5-6l4-10l0.5-4l-1-4l-3.5-8z"/>
<path fill="rgb(186,186,255)" d="M702.5 184l1.5-6l7-14l1-10l1-4l3-4l2-1.5l6-3l10-2l22-3l26 0l20-1.5l22-0.5l8-1l5.5-1.5l2.5-1.5l6-5.5l4.5-3l31.5-12.5l7-1.5l21-4l24-7l18-4.5l12-2l10 0l8 1.5l28 7l24 6.5l22 4l7.5 2.5l5 2l3.5 2l2 2l1 2l-1.5 6l0.5 2l1.5 2l4.5 2l6 0.5l26 0l6-0.5l10-2l4 1l8.5 5l11.5 2.5l12 0.5l42-1.5l6 0.5l6 2l4.5 4l2 4l0 2l-0.5 3.5l-4.5 8.5l-0.5 2l0.5 4l3 8l0 4l0 14l-2 10l0 4l0.5 4l4 12l0.5 6l-2.5 8l-3.5 6l-1.5 2l-4 2.5l-8 3l-10 0.5l-34-1l-28 2l-16-2l-8 0l-36 3.5l-24 0.5l-6 1l-6 2l-4 2l-15.5 10l-8.5 3.5l-10 3.5l-10 2.5l-8 1l-8 0.5l-10 0l-30-5l-26-2.5l-6-1.5l-5.5-2l-14.5-10l-8-3.5l-8-1.5l-14 0l-6-0.5l-18-4.5l-6-1l-8-0.5l-22 1l-20-2.5l-6-0.5l-6 0.5l-14 4l-8 1l-8-0.5l-6-1.5l-5-2l-3-3.5l-5.5-8.5l-6-8l-1.5-4l-1-4l1-6l4.5-10l0.5-4l-1-4l-4-8z"/>
<path fill="rgb(181,181,255)" d="M704 184l2-6l6.5-10l2-4l0-10l1.5-4l3.5-4l4.5-2.5l10-2l22-2.5l30-1l18-1l24-1l10-1.5l7.5-2.5l7-6l3-2l24.5-12l6-2l22-4.5l22-6.5l18-4l14-2.5l10 0l6 1l32 7l22 6l20 4l8 2l5.5 3.5l1.5 2l1 4l0 6l2 3l4 2.5l4 1l10 1.5l36 1l20 3l12 1l52-1l6 1l4 1.5l3 3.5l1 4l-1 4l-5 8l-1 2l0.5 2l3.5 8l1 4l0 16l-2 10l-0.5 4l1 4l4 12l0.5 6l-1.5 6l-3.5 6.5l-4 3.5l-4 2l-4 1l-10 1l-34-1.5l-26 1l-18-1.5l-8-0.5l-34 3.5l-24 1l-10 2l-8 2.5l-6 3.5l-8 6l-6 3.5l-14 5.5l-10 2.5l-8 1.5l-8 0.5l-10 0l-10-1.5l-22-4.5l-16-2l-8-1.5l-5.5-2l-12.5-8l-8-4l-6-2.5l-8-1.5l-20 0l-26-5l-8-0.5l-22 0l-22-3l-10 1l-20 5l-8 0l-6-1l-4-2l-3-2.5l-5.5-8l-7-8l-2-4l-0.5-4l0.5-6l2-4l4-6l1-2l0-2l-1-2l-5-8l-1.5-4z"/>
<path fill="rgb(176,176,255)" d="M706 182l2-4l4-4.5l5.5-5.5l1-2l0.5-2l-1.5-8l0.5-4l3-4l5-3l10-2l20-2.5l32-0.5l42-2.5l12-1.5l7-2l3-1.5l11.5-8.5l17.5-10l7-3l22-4.5l18-6l16-3.5l16-3l12 0l42 8.5l20 5.5l17.5 4l5.5 2l3.5 2l3 4l1.5 10l1 2l2 2l8 2.5l10 1.5l28 1.5l36 3.5l34 0l22-1l6 0.5l4 1.5l2 2l1.5 2l0 2l-0.5 2l-2 4l-5.5 6l-1 2l0 2l5.5 8l1 4l-1 16l-2 12l1.5 6l5 12l0.5 6l-2 6l-4 6l-5 3.5l-6 2l-6 0.5l-8 0l-32-2l-24 0l-22-1l-32 2.5l-22 0.5l-16 3.5l-12.5 4.5l-7 4l-10.5 8l-6 3l-8 2.5l-10 2.5l-8 1.5l-8 0.5l-10-0.5l-12-1.5l-35-8l-5.5-2l-6.5-4l-8.5-4l-16-6l-8.5-2.5l-22-0.5l-24-4l-30-1l-18-3l-6-0.5l-10 1l-14 4.5l-6 1.5l-6 0l-6-1l-4-2l-2-2l-5.5-6.5l-6.5-7l-3.5-5l-1-4l1-6l3.5-5l5-5l1-2l0-2l-8.5-10l-1.5-4z"/>
<path fill="rgb(171,171,255)" d="M708 184l2-5l4-4l4-2.5l7-2.5l2.5-2l-0.5-2l-5-7l-1-3l-0.5-2l1-2l1-2l3-2l4.5-2l10-2l16-1.5l36-1.5l44-3l10-1l9.5-3l26-18l8.5-4l20-4.5l20-6.5l10-2.5l18-3l12 0l42 7.5l40 11l4 2l2.5 2l1 2l1.5 4l0.5 6l0.5 2l1.5 2l4 2l7 2l13.5 2l62 5l36 1l20-2l4 0.5l3.5 1.5l2 2l0.5 2l0 2l-3.5 4l-8.5 6l-1 2l1 2l8 8l1.5 4l0 4l-2 8l-2 14l1.5 6l6.5 14l0.5 6l-2 6l-2 3l-3.5 3l-4.5 2.5l-8 1l-18 0l-22-3l-6-0.5l-20 1l-24-0.5l-22 1.5l-20 0l-6 0.5l-25.5 7.5l-8.5 3l-5 3l-9 7l-4 2.5l-10 4l-10 3l-8 1.5l-10 0.5l-8 0l-12-2l-24-6.5l-6-2.5l-10.5-5.5l-4.5-2l-27-9l-8-2l-22-1l-24-3l-24-1.5l-20-3.5l-8-0.5l-6 0l-6 1.5l-14 4.5l-6 1.5l-6 0l-4-1l-4.5-2l-5.5-6l-7-6l-3-3.5l-2.5-4.5l0.5-5.5l2-4.5l2-2l6-3.5l6-2l12.5-0.5l3.5-2l-6-2l-10-1l-6-2.5l-4-2.5l-4-4l-2-4z"/>
<path fill="rgb(166,166,255)" d="M710 184l2-4l2.5-2l3.5-2l4-1.5l12-1.5l3-1l2.5-2l0.5-2l-1-2l-11-6l-2-2l-1-2l-0.5-2l1-2l2-2l4.5-2l9.5-2l16.5-2.5l36-1l20-1.5l24-1.5l11.5-1.5l7-2l4.5-2l3.5-2l18-14l5.5-3.5l4-1.5l18-4.5l18-6l10-2.5l18-3l14-0.5l44 8l36 10.5l4 2l2.5 3l1.5 4l0.5 8l1.5 2l4 2.5l10 2.5l22 3.5l52 5l20 1l18 3.5l6-1l10-3l6 0l2.5 2l-0.5 2l-2.5 2l-3.5 1l-14 2l-10 2l-22 0.5l-8 2l-2 2.5l3.5 2l4.5 0.5l10-0.5l12-1.5l8 0l12 4.5l8.5 5l1.5 2l1 2l-0.5 4l-2.5 4.5l-2 2l-4 2l-6 1l-26 2l-3.5 0.5l-3.5 2l1 2l3 2l5.5 2l11.5 1.5l14 0l4 0.5l2 1l4 4l6 9.5l2.5 5.5l0.5 4l0 2l-2 4l-3 4l-2 1.5l-5.5 2.5l-6.5 1l-10 0l-9.5-1l-6-2l-6.5-4l-6-1l-6 1l-12 3l-8 1l-22-0.5l-24 1.5l-20-0.5l-6 0.5l-16 6l-20 7l-8 4l-10 8l-9 4l-9 2.5l-10 2l-8 0.5l-8 0l-12-2l-18-5.5l-8-3.5l-9.5-6l-4.5-2.5l-18-4.5l-16-5.5l-8-1.5l-60-4.5l-8-1l-16-3.5l-8-0.5l-8 0l-8 1l-18 6.5l-4 0.5l-5.5-0.5l-3.5-2l-4.5-4l-8.5-6.5l-4-3.5l-2.5-4l0-4l0.5-2l3.5-4l4.5-2.5l6-1.5l14-0.5l8.5-1.5l4-2l1-2l-1.5-2l-4.5-2l-5.5-1l-14-1l-4-1l-4-1l-3.5-2l-2.5-3l-2-3z"/>
<path fill="rgb(161,161,255)" d="M713 184l1-2l4-3l6-1.5l10-0.5l5-1l4-2l4-4l1.5-2l0-2l-1.5-2l-13-5.5l-3.5-2.5l-0.5-2l1-2l3.5-2l7.5-2l18-3l36-1l20-2l24-1.5l12-2l10-2.5l4-2l6-4l14.5-12l8-4l17.5-5l18-6l8-2l18-3l8-0.5l6 0l42 7.5l35.5 11l4.5 2.5l2.5 3.5l1 4l0 6l0.5 2l2.5 2l4.5 2l9 2l16 3l18 2.5l27 2.5l11.5 2l6.5 2l1 2l-12.5 8l-1 2l1 2l4 2l10.5 1.5l18 0l10 0.5l8 1l7.5 3l3 2l1.5 2l0 2l-1 2l-3 2l-4 1.5l-6 1l-33 3.5l-6 2l-2 2l0 2l1 2l3 4l3.5 2l3.5 1l8 1l26 2l4 1l4 1.5l3.5 3.5l4.5 6l2 4l0.5 4l-0.5 2.5l-3.5 3.5l-4.5 2l-4 0.5l-6-0.5l-7-2l-8-2l-17-1.5l-10 1l-15.5 4.5l-6.5 1l-20 0l-24 2l-18-1.5l-6.5 0.5l-5.5 1.5l-12.5 6.5l-22.5 8l-7.5 4l-9.5 7l-6 3l-8 2.5l-10 2.5l-8 1l-8-0.5l-12-2l-16.5-5.5l-7.5-4l-8.5-6l-5.5-3l-18-4l-20-7l-16-2.5l-10-1.5l-22 0l-14-1l-8-1l-16-4l-8-1l-12 1l-10 1l-6 1.5l-8 3l-4 1l-6-1l-14-7.5l-5.5-4l-1.5-2l-1-3.5l0-2.5l1-2l3-3l6-2.5l18-1l10.5-1.5l6-2l3-2l1-2l-1.5-2l-3-2l-6-2.5l-8-1l-16-1l-6-1.5l-4-2l-2-2l-1-2zM776 206l1 2l3 2l4 0.5l4-0.5l11-6l2.5-2l1-2l0-2l-2.5-2l-4-1.5l-6 0l-4 0.5l-4 1.5l-4 3.5l-2.5 4z"/>
<path fill="rgb(156,156,255)" d="M714.5 220l0.5-2l1.5-2l3-2l2.5-1l20-1.5l20-2.5l6 1l12 6l4 0.5l2-0.5l4-1.5l14-8.5l5-4l1.5-2l0.5-2l-1-2l-2-2l-5-2l-7-1.5l-6-0.5l-6 0.5l-14 4.5l-4 0.5l-22-3.5l-18-1l-5-1l-3-2l-1.5-2l0-2l2-2l5.5-2l12 0l6-1.5l5-2.5l7-6l6-4l1-2l-3-2l-13-4l-5-2l-1.5-2l2-2l9.5-3l12-2l36-1.5l20-2.5l24-1.5l12-2l6.5-1.5l10-4l5.5-4l12-10.5l5.5-3.5l4.5-2l38-12l18-3l12-0.5l10 1l34 6l9 2.5l24 8l5 2l3.5 4l1.5 4l-0.5 6l0.5 2l1.5 2l7.5 3l16 3.5l22 4.5l10 1.5l19 1.5l8 2l2 2l-0.5 2l-5 4l-1.5 2l-0.5 2l1.5 2l2.5 2l4.5 1.5l10 2l26 1l6.5 1.5l6.5 2l2.5 2l0 2l-3.5 2l-10 2l-30.5 4l-6 2l-3 2l-1.5 2l0 2l5 10l1.5 2l2.5 1l6 1.5l24-0.5l10 0.5l6 1l4 1.5l3 3l3 4l1 4l-0.5 2l-0.5 1l-2 1l-4 0.5l-42-1l-10 1l-16 4.5l-20 1l-20 2.5l-8 0l-16-1.5l-7.5 1l-4.5 1.5l-12 7l-25.5 9.5l-7.5 4l-9 6l-4 2l-8 3l-8 2l-12 1.5l-6-0.5l-6-1l-6-1.5l-9.5-3.5l-8-4l-10.5-8l-6-3l-20-5l-18-6.5l-16-3.5l-12-1.5l-20 1l-12-0.5l-10-1.5l-18-5.5l-6-0.5l-26 3l-14 2.5l-4 0l-8-1.5l-10-4.5l-4-3l-1-2z"/>
<path fill="rgb(150,150,255)" d="M724 186l2-1.5l2-0.5l8 1l4-0.5l8-4l7.5-6.5l4.5-3l6-1.5l10-1.5l2.5-2l-1.5-2l-3.5-2l-5-2l-14-4l-3-2l1-2l5-2l14.5-2l28-1l18-2.5l24-1.5l14-2.5l9-2.5l9.5-4l5.5-4l10.5-10l3.5-2.5l6-2.5l28-10l8-2l20-3.5l12-0.5l10 1.5l34 6l27 9.5l5 2l4.5 4l1.5 4l-0.5 6l0 2l1.5 2l3.5 2l7.5 2l42 10.5l18 2l5 1.5l1 2l-3 4l-0.5 2l0.5 2l4.5 4l3.5 2l11 3l27 3l4.5 2l-1 2l-5.5 2l-23 3l-17 5l-9.5 4l-3 2l-1 2l0 2l2.5 1.5l8 3l8 8l4 2.5l4 1.5l6 0.5l18-3.5l14-0.5l6 1l5 2l2 2l1 2l-1 2l-3.5 2l-3.5 0.5l-12 0.5l-28-2l-6 1l-14 4l-20 3l-18 3l-10 0.5l-16-1.5l-6 0.5l-6 2.5l-13.5 8l-16.5 6l-14 6l-18.5 10l-5.5 2l-8 2l-6 1l-6 0l-10-2l-14-5l-6.5-4l-9.5-8l-8-4l-20-5l-22-7.5l-12-3l-8-1l-6 0l-18 2l-12-0.5l-12-2.5l-10.5-4.5l-2.5-2l-1-2l1-2l1.5-2l7.5-6l13-8l4-4l1.5-4l0-2l-1.5-2l-3.5-2l-13.5-3l-12-1.5l-8 1l-12 3.5l-8 0.5l-6.5-0.5l-13.5-3l-12 0zM718.5 220l1.5-2.5l3-1.5l3-1l34-2.5l6 1l4 2l5.5 4.5l1 2l-1.5 2l-5 2l-4 0.5l-8 1l-22 0.5l-6-0.5l-6.5-1.5l-3.5-3l-1.5-1z"/>
<path fill="rgb(145,145,255)" d="M766 154l0.5-2l7.5-2l28-1l18-3l24-2l14-3l11-3l9.5-4l5.5-4l7.5-8l6-4l26.5-10.5l10-3.5l14-2.5l10-1.5l10 0l8 1l36 6.5l8 2.5l19.5 8l4.5 2.5l3 3.5l0.5 4l-1 4l0 2l1 2l3 2l5.5 2l29 8l27 9.5l3 2.5l6 6l5 3l12 5.5l11 3.5l1 2l-30.5 8l-5.5 2l-6.5 4l-4 4l-2.5 6l0 2l0.5 2l2 2l2.5 1l10.5 3l4 2l2 2l0 2l-1 2l-3.5 2l-5.5 2l-15 4l-11.5 2l-8 0.5l-16-1.5l-8 1l-6 2.5l-14 8.5l-33 13l-19.5 10l-9.5 3l-10 0.5l-9.5-1.5l-10.5-4.5l-6.5-3.5l-13-10l-7.5-4l-5-2l-16-3.5l-27.5-8.5l-8.5-2.5l-6-0.5l-6 0l-18 2l-10 0l-10-2l-7.5-3l-2.5-2l-1-2l0-2l1-2l4.5-4l14-8l8-6l3-4l0.5-2l0-4.5l-2-3l-4-2.5l-13-2l-6.5-2l-1.5-2l0.5-2l6-8l-3.5-1.5l-10-2l-6-1.5l-18.5-7zM814.5 166l4.5 2l9 1l7.5-1l3-2l-1.5-2l-7-1.5l-4 0l-7.5 1.5zM756 182l2.5-4l2-2l3.5-2l4-1l4 0l5.5 1l4.5 2l1.5 2l-1.5 2l-4 2l-12 3.5l-4 0l-4-1l-1.5-0.5zM766.5 220l0 2l-5 2l-5.5 0l-26-1.5l-2.5-0.5l-0.5-2l29-4.5l6 1l3 1.5zM1170.5 220l1-2l4.5-0.5l3 0.5l0.5 2l-3.5 0z"/>
<path fill="rgb(140,140,255)" d="M782 154l6-1.5l16-1l17.5-3.5l24.5-3l14-3l12.5-4l10-4l3-2l7-8l5-4l8-4l19.5-8l9-3l12-2.5l12-1.5l10-0.5l10 1.5l32 6l10 3l16 7l6 3.5l2 2.5l0.5 2l0 2l-1.5 4l0 2l1.5 2l2.5 2l5 2l21 6l11 4l14 7.5l12 5.5l22 13l2 2l-0.5 2l-3.5 1.5l-14 4l-8 3.5l-7.5 5l-5.5 6l-2 4l-0.5 2l1 4l2.5 3l7.5 5l2 2l-0.5 2l-2 2l-9.5 4l-9.5 2l-8 0.5l-14-1l-6 0.5l-4 0.5l-7.5 3.5l-13 8l-40 16l-13.5 7l-8 2.5l-8 0.5l-10-2l-10-4l-6-4l-12-10l-8-4.5l-6-2l-16-3.5l-32-9.5l-6-1.5l-6-0.5l-20 2.5l-8 0l-9.5-1l-6.5-3l-2-1l-1.5-2l0-2l0.5-2l2-2l5-3l18-9l6-4l1.5-2l0.5-2l-0.5-4l-1-4l-4-8l-0.5-2l1-2l3.5-2l9.5-4l3-2l1.5-2l-1-2l-3-2l-5-2l-5.5-1.5l-8-0.5l-26 1.5l-6 0l-7.5-1.5l-4-2z"/>
<path fill="rgb(135,135,255)" d="M1124 178l-3 2l-9 3.5l-6 3l-11.5 7.5l-7 6l-2 4l0.5 6l2 4l5 6l0.5 2l-1.5 2l-3.5 2l-8.5 2l-18-1l-10 2l-7.5 3l-13.5 8l-23 10l-17 6l-16.5 8l-7 2l-5.5 0l-4 0l-6-2l-6-2l-6.5-4l-17.5-14l-4.5-2l-5.5-2l-18-4l-40-12l-6-0.5l-18 3l-10 0l-5-0.5l-5-2l-2-2l-0.5-2l1-2l3.5-2.5l6-3l8-2.5l4-1l4 0l12 4l4 0l4-1.5l2.5-1.5l2-2l0.5-2l-0.5-2l-2-2l-8.5-4.5l-4-3l-4-6.5l-2-6l-0.5-2l1-2l1.5-2l11.5-6l2.5-2l0.5-2l-1-2l-2.5-2l-7-3.5l-10-3.5l-5.5-1l-4-2l6-2l25.5-6l26.5-8l4.5-2l2.5-2l6.5-8l5-4l3.5-2l25.5-11l10-3l12-2l12-0.5l12 1l32 6l8 2l7.5 3.5l12.5 6l3 2l1.5 2l1 2l0 2l-1.5 4l0 2l1.5 2l2.5 2l8 3l16 5l10 4l3.5 2l11 8l17.5 7.5l8.5 4.5l5 4z"/>
<path fill="rgb(130,130,255)" d="M840.5 152l2-2l5-2l33-10l9.5-3.5l3-2.5l6-8l5-4l12-6l12-5.5l10-3l12-2.5l10-1l10 0l38 7l8 3l9 4l7 4l5 4l1 2l-1 6l0 2l1.5 2l2.5 2l9 3.5l14 4.5l9 4l2.5 2l5 6l3.5 3l6 3l19.5 8l3 2l1 2l-0.5 2l-23 15l-8 3.5l-10.5 3.5l-3.5 2l6 2.5l2 2l2 3l4.5 10.5l0 2l-2.5 1.5l-6 1l-14 0.5l-8 2l-8 3l-17.5 10l-18.5 8.5l-21.5 7.5l-14.5 6.5l-6 1.5l-6 0l-8-1.5l-8-4l-6-4l-13.5-10.5l-6.5-4l-7-2l-17-3.5l-18-5.5l-14-5l-4-2l-2.5-2l0-2l1-2l8-8l0.5-2l-0.5-2l-3-4l-10.5-6l-3-2.5l-4-5.5l-1-4l0-2l1.5-2l2-2l10-6l2-2l1-2l-1-2l-2.5-2l-14-8zM814.5 220l1.5-2l4-2l8-1.5l4 0.5l3 1l3 2l0.5 2l-2.5 2l-4 1l-8 1l-4-0.5l-4-1.5z"/>
<path fill="rgb(125,125,255)" d="M847.5 152l1.5-2l9-4l34-10.5l2.5-1.5l2-2l4-6l4-4l10-6l13.5-6.5l10-3.5l12-2.5l10-1l10 0.5l10 1.5l27 5.5l9 3l9.5 5l6 4l2 2l1 2l-0.5 6l0.5 2l1 2l7 4l17 6l8.5 4l2.5 2l1 2l0.5 6l2 2l24 10l4 2.5l1 1.5l-0.5 2l-1 2l-4 4l-5.5 4l-4 2l-8 2.5l-12 2l-7 1.5l-5 2l-7 4l-1 2l0.5 2l3.5 2l10.5 4l3.5 2l2 2l0 2l-2 2l-14 4.5l-6 3l-31 16.5l-8.5 4l-19 6l-17.5 7l-6 1l-4 0l-6-1l-8-3.5l-6-4l-14-11.5l-6-3l-6-2.5l-18-3.5l-14-3.5l-10.5-3.5l-8-4l-1.5-2l-0.5-2l2-4l5.5-6l1-2l-0.5-2l-1.5-3.5l-3-2.5l-11-7.5l-3.5-2.5l-2.5-4l0-2l0-2l1.5-2l11.5-8l1.5-2l0.5-2l-0.5-2l-2-2l-10-6l-2.5-2z"/>
<path fill="rgb(120,120,255)" d="M852.5 152l1.5-2l7.5-4l10.5-3.5l17-4.5l5.5-2l3.5-2l2-2l4-6l4-4l9-6l11.5-6l9.5-3l12-2.5l12-1.5l10 0.5l34 7l9.5 3.5l7 4l7.5 6l1 2l0 6l0.5 2l1.5 2l6.5 4l21 8l3.5 2l1.5 2l0.5 2l-0.5 2l-3.5 4l-1 2l2 2l17 4.5l8.5 3.5l3 2l2 2l1 2l0 2l-3 4l-5.5 3.5l-6 2l-14 2l-6 2l-10.5 4.5l-6.5 4l-1.5 2l0 2l1.5 2l10 6l2 2l0.5 2l-1 2l-6 4l-42.5 23l-22.5 7l-13.5 5l-6 1l-4 0l-6-1l-8-3.5l-8-5.5l-10-8.5l-6-3.5l-8-3l-18-3.5l-12-3l-8-2.5l-8-4l-2-2l-0.5-2l0.5-2l7.5-8l1-2l0-2l-2.5-4l-4-4l-12-9l-3-3l-0.5-2l0.5-2l1.5-2l9.5-8l2-2l0.5-2l-0.5-2l-2-2l-9-6l-2-2z"/>
<path fill="rgb(115,115,255)" d="M964 104l12 1l24 5l8 2l8.5 4l6 4l4 4l1 2l0.5 6l1 2l1.5 2l6.5 4l15.5 6l7.5 4l1.5 2l0 2l-1.5 2l-6 6l0 2l2 1.5l5.5 2.5l12.5 2l6 2l6 4l1.5 2l0 2l-1.5 3l-4 2.5l-16 3.5l-6 2l-15.5 7l-6 4l-1.5 2l0 2l1 2l2 2l8 6l1 2l-0.5 2l-1.5 2l-6 4l-19 10l-13 8l-5 2.5l-34 10.5l-8 1.5l-6-1l-8-3l-8-5l-11.5-9.5l-7.5-4l-7-2.5l-28-6l-8-2.5l-6-3l-2-2l-0.5-2l0.5-2l2-2.5l7-5.5l1-2l-0.5-2l-7-8l-10.5-8.5l-4-3.5l-0.5-2l0-2l1-2l8.5-8l1.5-2l0.5-2l-0.5-2l-1.5-2l-8-6l-2-2l-0.5-2l1-2l7-4l9.5-3.5l19-4.5l5-2l3.5-2l2-2l3.5-6l4-4l8-6l9-5l8-3l8-2l10-1.5z"/>
<path fill="rgb(110,110,255)" d="M964 104.5l12 1l21 4.5l9 2l8 4l5.5 4l4 4l1 2l0.5 6l1 2l2 2l7 4l14.5 6l6.5 4l1.5 2l-0.5 2l-7.5 8l-0.5 2l1.5 2l3 2l4.5 1.5l16 4.5l4 2.5l1 1.5l0.5 2l-1.5 2l-2 1l-18 6.5l-17.5 8.5l-6 4l-1.5 2l0 2l0.5 2l2.5 2.5l6.5 5.5l1 2l0 2l-1 2l-5 4l-15.5 8l-12 8l-8 4l-32 9.5l-8 1l-8-1.5l-6-2.5l-7.5-4.5l-10.5-9l-8-4.5l-8-2.5l-20-4l-9-2l-7-3l-4.5-3l-0.5-2l1-2l2-2l8.5-6l0.5-2l-2.5-4l-8-8l-10-8l-2-2l-1-2l0-2l1-2l7-8l2.5-4l-0.5-2l-1.5-2l-8-6l-1.5-2l-0.5-2l1-2l2.5-2l6.5-3l8-2.5l18-4.5l5.5-2l5-4l5.5-8l3.5-4l5.5-4l7-4l8-3l8-2.5l10-1.5z"/>
<path fill="rgb(105,105,255)" d="M964 105l12 1l22 5l9.5 3l7 4l4.5 4l2 4l1 6l1.5 2l2 2l7 4l14 6l6.5 4l1 2l-0.5 2l-7.5 8l-0.5 2l1 2l5.5 3.5l14.5 6.5l2.5 2l0.5 2l-2 2l-3 2l-28 14l-5.5 4l-1 2l0 2l0.5 2l3 4l4 4l1.5 2l0.5 2l-1 2l-4.5 4l-15 8l-12 8l-7 3.5l-28 7.5l-10 1.5l-8-1l-6-2.5l-6-4l-11.5-9l-7.5-4l-9-3.5l-26-5.5l-8-3l-2.5-2l-0.5-2l1-2l2.5-2l8-4l1.5-2l0-2l-1.5-2l-10-10l-10.5-9l-3-3l0-2l0.5-2l6.5-8l2-4l0-2l-1.5-2l-7.5-6l-1.5-2l-0.5-2l1-2l2.5-2l4-2l7.5-2.5l18-4.5l8.5-3l5-4l5-8l3.5-4l5-4l7-4l8-3l8-2l10-1.5z"/>
<path fill="rgb(99,99,255)" d="M964 105.5l12 1l20 4.5l9 3l7 4l2 2l3 4l2 8l1.5 2l6 4l17.5 8l6 4l1 2l-0.5 2l-6 6l-1.5 2l-0.5 2l1 2l2 2l14 8l2 2l0.5 2l-1 2l-4.5 4l-8.5 5l-15 7l-3 2l-2 2l-1 2l0.5 4l2.5 3.5l5 6.5l0.5 2l-0.5 2l-4.5 4l-14.5 8l-11.5 8l-4.5 2.5l-8 2.5l-20 4.5l-10 1.5l-6-1l-6.5-2l-5.5-3.5l-11-8.5l-9-5.5l-10-3l-24.5-5.5l-5-2l-2.5-2l-0.5-2l1.5-2l9-4.5l2.5-1.5l0.5-2l-1-2l-1.5-2l-12.5-12l-8-6.5l-3.5-3.5l-0.5-2l0-2l1-2l6.5-8l1-2l-0.5-2l-1-2l-7.5-6l-1.5-2l-0.5-2l1-2l2.5-2l4-2l7-2.5l16.5-3.5l10.5-4l5.5-4l4.5-8l3-4l5-4l7-4l8-3l8-2l8-1z"/>
<path fill="rgb(94,94,255)" d="M869 150l2.5-2l4.5-2l6-2l18-4l9.5-4l5.5-4l4.5-8l2.5-4l5-4l7-4l10-3.5l10-2l10-0.5l10 1l22 5l10.5 4l3 2l4 4l1.5 4l1.5 6l1.5 2l6.5 4l20.5 10l2.5 2l0.5 2l-0.5 2l-5.5 6l-1.5 2l-0.5 2l1 2l2 2l12 8l2 2l0.5 2l-0.5 2l-4 4l-9 5.5l-14 6.5l-3 2l-1.5 2l-1 2l0.5 4l6.5 10l0.5 2l-0.5 2l-2 2l-2.5 2l-13 7.5l-12 8.5l-6 2.5l-26 6.5l-6 0.5l-6-0.5l-4.5-1l-5.5-3l-15.5-11l-8.5-4.5l-12-4.5l-20-5l-4.5-2l-0.5-2l2.5-2l8.5-4l1-2l0-2l-3.5-4l-12.5-12l-10-8l-2-2l-0.5-2l0-2l1-2l5-6l2-4l0-2l-1.5-2l-8.5-8l-0.5-2z"/>
<path fill="rgb(89,89,255)" d="M871.5 150l2.5-2l4.5-2l24-6l9.5-4l5.5-4l1.5-2l3.5-8l3.5-4l5.5-4l4.5-2l10-3.5l10-1.5l10-0.5l8 1l19 4.5l11 4l3 2l4 4l1.5 4l0.5 4l0.5 2l2 2l6.5 4l20.5 10l2.5 2l0.5 2l-0.5 2l-5.5 6l-1.5 2l-0.5 2l1 2l2 2l11 8l2 2l0.5 2l-0.5 2l-1.5 2l-5 4l-5 3l-15 7l-2.5 2l-1.5 2l-0.5 2l0.5 4l5 10l0.5 2l-0.5 2l-1.5 2l-3 2l-11.5 7l-10 7.5l-7.5 3.5l-7 2l-15.5 3l-6 1l-6-0.5l-6-1l-4-2l-15.5-10.5l-8.5-5l-10-4l-16-5l-4-2l0-2l6-4.5l1-1.5l0-2l-1-2l-3.5-4l-13-12l-10-8l-1.5-2l-1-2l0-2l1-2l6-8l0.5-2l0-2l-1-2l-8.5-8l-0.5-2z"/>
<path fill="rgb(84,84,255)" d="M960 107l10 0.5l13 2.5l14 4l8 4l3.5 4l1 2l0.5 6l1 2l2 2l3 2l21.5 10l5 4l1 2l-0.5 2l-5.5 6l-1.5 2l-0.5 2l1 2l1.5 2l11 8l1.5 2l0.5 2l-0.5 2l-1 2l-5 4l-4.5 2.5l-14 6.5l-4 3l-1 2l-0.5 4l4.5 12l0.5 2l-1 2l-1.5 2l-13 8.5l-10 7.5l-4 2l-12 3.5l-18 3l-8-0.5l-6-2.5l-18.5-11.5l-9.5-5l-15.5-7l-2.5-2l-1-2l2-4l0-2l-2-4l-19-18l-7.5-6l-3-4l0-2l0.5-2l6-8l0.5-2l0-2l-2.5-4l-5-4l-1.5-2l-0.5-2l1-2l2.5-2l3.5-1.5l25-6.5l5.5-2l7-4l4-4l2-6l2.5-4l4.5-4l3-2l4.5-2l8-2.5z"/>
<path fill="rgb(79,79,255)" d="M960 108l10 0l10 2l14.5 4l8 4l3.5 4l1 2l0.5 6l1 2l2 2l3 2l22 10l5 4l0.5 2l-0.5 2l-5.5 6l-1 2l-0.5 2l1 2l1.5 2l10.5 8l1.5 2l0.5 2l-0.5 2l-1 2l-5 4l-6 3.5l-10.5 4.5l-3.5 2l-2 2l-1 2l-0.5 4l4 12l0 2l-1 2l-1.5 2l-20 14l-6 3.5l-12 3l-16 2.5l-8-1l-6-2l-16.5-10l-18.5-10l-5-4l-1-2l-0.5-6l-2.5-4l-11.5-10l-8-8l-7.5-6l-3-4l-0.5-2l0.5-2l6-8l0.5-2l0-2l-2.5-4l-5-4l-1.5-2l-0.5-2l1-2l4-2.5l4-1.5l23.5-6l9-4l3.5-2l3.5-4l2-6l2-4l4.5-4l3.5-2l11-4z"/>
<path fill="rgb(74,74,255)" d="M878.5 150l5.5-3l20-5.5l15-5.5l5.5-4l1-2l2-6l2-4l4.5-4l6-3.5l9-2.5l9-1.5l8 0l10 1l16 4.5l8.5 4l3.5 4l1 2l0.5 6l0.5 2l2 2l3.5 2l18.5 8l6.5 4l2 2l0.5 2l-0.5 2l-5 6l-1.5 2l-0.5 2l1 2l1.5 2l10 8l1.5 2l0.5 2l0 2l-1.5 2l-4.5 4l-17.5 8l-3 2l-1.5 2l-1 2l0 4l3 10l0 4l-1 2l-4 4l-17.5 12l-7.5 3.5l-8 2l-10 1.5l-6 0.5l-6-0.5l-4-1l-6-3l-26.5-15l-5.5-4l-2.5-4l-1.5-6l-3.5-4l-10.5-9l-9.5-9l-9-8l-1.5-2l-0.5-2l0.5-2l6-8l0.5-2l0-2l-1-2l-8-8l0-2z"/>
<path fill="rgb(69,69,255)" d="M880.5 150l5.5-3l25.5-7l9.5-4l3-2l2.5-2l1-2l1.5-6l2-4l4.5-4l4.5-2.5l8-2.5l10-2l8 0l10 1l13.5 4l8.5 4l4 4l0.5 2l1 6l0.5 2l2 2l3 2l19 8l7 4l1.5 2l1 2l-1 2l-5 6l-1.5 2l0 2l0.5 2l2 2l9.5 8l1.5 2l0.5 2l-0.5 2l-1.5 2.5l-4.5 3.5l-17 8l-3 2l-1.5 2l-1 4l3 14l-1.5 4l-4 4l-16.5 11.5l-6 2.5l-6 2l-12 1.5l-6 0.5l-6-1l-6-1.5l-8-4l-13.5-7.5l-9-6l-3.5-4l-2.5-6l-2-4l-15-12l-8-8l-9-8l-1-2l-0.5-2l0-2l6-8l0.5-2l0-2l-1-2l-7.5-8l-0.5-2z"/>
<path fill="rgb(64,64,255)" d="M883 150l5-2.5l16-4.5l9.5-3l9.5-4l3.5-2l2-2l1-2l1-6l2-4l4.5-4l4-2l7-2.5l10-2l8 0l10 1l11.5 3.5l8.5 4l4 4l0.5 2l1 6l0.5 2l2 2l3 2l19.5 8l6.5 4l2 2l0.5 2l-0.5 2l-5.5 6l-1 2l-0.5 2l1 2l1.5 2l9.5 8l1.5 2l0.5 2l-0.5 2l-1 2l-4.5 3.5l-18 8.5l-2.5 2l-1.5 2l-0.5 4l2 10l0.5 4l-2 4l-4 4l-14 9.5l-8 4l-8 1.5l-8 1l-6 0.5l-6-1l-6-2l-6-2.5l-10-5.5l-9.5-5.5l-4.5-4l-1-2l-2.5-6l-2.5-4l-15.5-12l-16.5-16l-1.5-2l-0.5-2l0-2l6-8l1-2l-0.5-2l-1-2l-7.5-8l-0.5-2z"/>
<path fill="rgb(59,59,255)" d="M885.5 150l4-2l26-8l9.5-4l3-2l2-2l1-2l1.5-6l2-4l4.5-4l4-2l7-2.5l10-1.5l8 0l8 1.5l9 2.5l9 4l4 4l0.5 2l1 6l0.5 2l2 2l7.5 4l15.5 6l6.5 4l1.5 2l1 2l-1 2l-5 6l-1 2l-0.5 2l1 2l1.5 2l9.5 8l1 2l0.5 2l0 2l-1.5 2l-4.5 3.5l-14 6.5l-4 2l-2 2l-1.5 2l-1 4l2.5 10l0 4l-2 4l-4.5 4l-13.5 9l-8 3.5l-6 1.5l-8 0.5l-6 0l-6-0.5l-6-2l-8-3l-9.5-5l-6-4l-4-4l-3.5-8l-2.5-4l-16-12l-16.5-16l-1.5-2l-0.5-2l0-2l6-8l1-2l0-2l-1.5-2l-6-6l-1.5-2l0-2z"/>
<path fill="rgb(54,54,255)" d="M886 152l2-2l4.5-2l25-8l9.5-4l3-2l2-2l1-2l1-6l2-4l4-3.5l4-2l7.5-2.5l6.5-1l8-0.5l8 1l9 2.5l9 4l4 4l1 2l0.5 6l1 2l1.5 2l7.5 4l15.5 6l7 4l1.5 2l0.5 2l-0.5 2l-5 6l-1.5 2l0 2l0.5 2l2 2l9 8l1.5 2l0.5 2l-0.5 2l-1.5 2l-2 2l-4.5 2.5l-12.5 5.5l-5.5 4l-1 2l-1 4l2 10l0 4l-2 4l-4.5 4l-13.5 8.5l-8 3l-12 1.5l-6 0l-6-0.5l-6-1.5l-8-3.5l-7.5-3.5l-6-4l-3.5-4l-3.5-8l-2.5-4l-16.5-12l-16.5-16l-1.5-2l-0.5-2l0-2l1-2l5-6l1-2l0-2l-1-2l-6.5-6l-1-2z"/>
<path fill="rgb(48,48,255)" d="M952 112.5l8-1.5l8 0.5l10 1.5l8 3l4 2l4 4l1 2l1 6l0.5 2l2 2l7 4l16.5 6l6.5 4l1.5 2l0.5 2l-0.5 2l-5.5 6l-1 2l-0.5 2l1 2l1.5 2l9.5 8l1 2l0.5 2l-0.5 2l-1.5 2l-2.5 2l-16.5 8l-5 4l-1 2l-1 4l2 8l0 4l-1 4l-1.5 2l-5 4l-7 4.5l-6 3.5l-6 2l-12 2l-12-1l-10-2.5l-10-5l-5.5-3.5l-3.5-4l-3-8l-3-4l-14.5-10l-4.5-4l-14.5-14l-1.5-4l0-2l1-2l5-6l1-2l0-2l-1-2l-6.5-6l-1-2l0-2l2-2l4.5-2l24-8l10-4l3-2l2-2l0.5-2l1-6l2-4l5-4z"/>
<path fill="rgb(43,43,255)" d="M956 112.5l6-1l8 0.5l8 2l8 2.5l4.5 3.5l2 2l0.5 2l1 6l1 2l1.5 2l7.5 4l16 6l7 4l1.5 2l0.5 2l-0.5 2l-5.5 6l-1 2l-0.5 2l1 2l1.5 2l9.5 8l1 2l0.5 2l-1 2.5l-3.5 3.5l-16.5 8l-5 4l-1 2l-1 4l1.5 8l0.5 4l-1 3l-2 3l-5 4l-9 5.5l-6 2.5l-6 1.5l-12 1l-10-1l-10-3l-9-4.5l-2.5-2l-3.5-4l-2.5-8l-3-4l-15-10l-5-4l-14-14l-2-4l0.5-2l1-2l5-6l1.5-2l0-2l-1-2l-6.5-6l-1.5-2l0.5-2l2-2l5-2l17.5-6l15-6l3.5-2l1.5-2l2.5-10l3.5-4l6.5-3.5z"/>
<path fill="rgb(38,38,255)" d="M952 114l8-1.5l8 0l8 1.5l8 2.5l5 3.5l1.5 2l1 2l1 6l1 2l1.5 2l7.5 4l17.5 6.5l5.5 3.5l1.5 2l0.5 2l-0.5 2l-5.5 6l-1 2l-0.5 2l1 2l1.5 2l9 8l1.5 2l0.5 2l-1 2l-1.5 2l-2.5 2l-16.5 8l-4.5 4l-1 2l-1 4l1.5 8l0 4l-1 3l-2.5 3l-5 4l-4.5 3l-6 3l-6 2l-10 1.5l-12-0.5l-10-2.5l-9-4.5l-3-2l-3-4l-2.5-8l-3-4l-20.5-14l-12-12l-3-4l-0.5-2l0.5-2l1-2l6.5-8l0-2l-1-2l-6.5-6l-1-2l0-2l2.5-2l4.5-2l28-10l7.5-4l2.5-3l0.5-7l2.5-4l5-4z"/>
<path fill="rgb(33,33,255)" d="M955 114l7-1l8 0.5l8 1.5l6 3l4.5 4l1 2l1.5 6l0.5 2l2 2l7 4l15.5 5.5l5 2.5l3 2l1.5 2l0.5 2l-0.5 2l-6.5 8l-0.5 2l1 2l1.5 2l9 8l1.5 2l0 2l-0.5 2l-1.5 2l-2.5 2l-16.5 8l-4.5 4l-1 2l-1 4l1.5 8l0 4l-1.5 3.5l-2.5 2.5l-5 4l-4.5 2.5l-6 3l-6 1.5l-10 1l-10 0l-9-2l-8.5-4l-2.5-2l-3-4l-2.5-8l-2.5-4l-6-4l-10-6.5l-6-4.5l-11.5-11l-3-4l-0.5-2l0.5-2l1-2l6-6l1.5-2l0-2l-1-2l-6.5-6l-1.5-2l0.5-2l2.5-2l4.5-2l27-10l8-4l1.5-2l1-2l0.5-6l2-4l5.5-4z"/>
<path fill="rgb(28,28,255)" d="M959.5 114l10.5 0l7 2l5 2l3 2l2 2l1 2l1 6l1 2l2 2l7 4l17 6l6.5 4l1.5 2l0.5 2l-0.5 2l-5.5 6l-1 2l-0.5 2l1 2l1.5 2l9 8l1.5 2l0 2l-0.5 2l-3.5 3.5l-16 8l-5 4.5l-1.5 2l-1 4l1 8l0 4l-1.5 3.5l-2.5 2.5l-5.5 4l-6 3l-6 2.5l-8 1.5l-8 0.5l-8-1l-8-2l-6-3l-4-3.5l-1.5-2l-2-8l-2.5-4l-6-4l-12-7.5l-6-4.5l-10-10l-2.5-4l-0.5-2l0.5-2l1-2l6-6l1.5-2l0.5-2l-1-2l-7-6l-1-2l0.5-2l2.5-2l4-2l31.5-12l3-2l2-2l0.5-2l0.5-6l2-4l2.5-2l4-2z"/>
<path fill="rgb(23,23,255)" d="M958 115l6-0.5l6 0.5l4.5 1l5.5 2l3 2l2 2l1.5 2l1 6l1 2l2 2l7 4l16.5 6l7 4l1.5 2l0.5 2l-0.5 2l-5.5 6l-1 2l-0.5 2l1 2l1.5 2l7.5 6l3 4l0 2l-0.5 2l-2 2l-4 2.5l-14 7.5l-4.5 4l-1 2l-1.5 4l1 8l-0.5 4l-2 4l-4.5 4l-7 4l-6 2l-6 1.5l-10 1l-8-1l-8-2l-6-3.5l-3.5-4l-2-8l-2.5-4l-5.5-4l-12.5-7.5l-6-4.5l-10.5-10l-2.5-4l-0.5-2l0.5-2l1-2l6.5-6l2-2l0-2l-0.5-2l-7-6l-1.5-2l0.5-2l2.5-2l4-2l26.5-10l7.5-4l2-2l0.5-2l0.5-6l2.5-4l2.5-2l3.5-1.5z"/>
<path fill="rgb(18,18,255)" d="M960 115.5l10 0l8 2.5l3 2l2.5 2l1 2l1.5 6l1 2l2 2l7 4l18 6.5l5.5 3.5l2 2l0.5 2l-1 2l-5.5 6l-1 2l-0.5 2l1 2l11 10l1 2l0 2l-0.5 2l-2.5 2.5l-16 8.5l-4 3l-3 4l-1.5 4l0.5 8l-0.5 4l-1.5 3l-3 3l-6 4l-5 2.5l-6 1.5l-6 1l-8 0.5l-6-1l-6-1.5l-6.5-3l-3.5-4l-1.5-8l-2.5-4l-5.5-4l-12.5-7l-7-5l-10.5-10l-2-4l-0.5-2l0.5-2l1.5-2l6.5-6l2-2l0.5-2l-1-2l-7-6l-1-2l0.5-2l2.5-2l3.5-2l26-10l8-4l1.5-2l0.5-2l0.5-6l1-2l1.5-2l3-2l3.5-1.5z"/>
<path fill="rgb(13,13,255)" d="M962 116l4 0l6 1l3 1l4 2l2.5 2l1 2l1.5 6l1 2l2.5 2l7.5 4l17 6l6.5 4l1.5 2l0.5 2l-0.5 2l-7 8l-0.5 2l1 2l1.5 2l7 5l2.5 3l1 2l0.5 2l-1 2l-2 2l-3 2l-12 6l-4 3l-3 3l-3 6l0 8l-0.5 4l-1 2l-2.5 3l-6 4l-6 3l-6 1.5l-6 1l-6 0l-6-0.5l-6-2l-4.5-2l-3.5-4l-1.5-8l-2.5-4l-5.5-4l-14.5-8.5l-6-4l-10-9.5l-2-4l-0.5-2l0.5-2l1.5-2l7-6l2-2l0.5-2l-1-2.5l-6.5-5.5l-1.5-2l0.5-2l2.5-2l7.5-4l21.5-8l8-4l2-2l0.5-2l0-6l1-2l2-2l4.5-2.5z"/>
<path fill="rgb(8,8,255)" d="M960 117l4-0.5l6 0.5l7 3l2.5 2l1.5 2l1.5 6l1 2l2 2l8 4l18.5 7l5 3l1.5 2l0.5 2l-0.5 2l-7 8l-0.5 2l1 2l9.5 8l2.5 4l0.5 2l-1 2l-2 2l-15 8l-3 2l-4 4l-3 6l-0.5 10l-0.5 2l-3 4l-4.5 3.5l-4.5 2.5l-5.5 2l-8 1.5l-6 0l-6-0.5l-4-1l-4.5-2l-2.5-2l-1-2l-2-8l-2-4l-5.5-4l-12.5-7l-8-5l-9-8l-3-4l-1-2l0-2l1-2l2-2.5l6.5-5.5l2-2l0.5-2l-1-3l-6.5-5l-1-2l0.5-2l2-2l7.5-4l21.5-8l8-4l1.5-2l0.5-2l0.5-6l1-2l2-2l2.5-1.5z"/>
<path fill="rgb(3,3,255)" d="M962 117.5l6 0.5l6.5 2l3 2l1.5 2l1.5 6l1 2l2.5 2l8 4l18 6.5l5.5 3.5l2 2l0.5 2l-1 2l-7 8l-0.5 2l1 2l2 2l7.5 5.5l2 2.5l1 2l0 2l-1 2l-2 2l-14.5 8l-3 2l-4 4l-3.5 6l-2 12l-3 4l-5 4l-4.5 2l-6.5 2l-6 0.5l-10.5-0.5l-5.5-2l-2-2l-2.5-2l-1.5-8l-2-4l-5.5-4l-14.5-8l-8-5l-8-7l-2.5-4l-1-2l0-2l1.5-3l8.5-7l1.5-2l0.5-2l-0.5-2.5l-6-5.5l-1.5-2l0-2l2-2l7-4l22-8l8-4l2-2l0.5-2l0-6l1.5-2l4.5-3z"/>
<path fill="rgb(3,0,252)" d="M962 118.5l6 0.5l6 2l3 3l1.5 6l1.5 2l2.5 2l8 4l17.5 6l6.5 4l1.5 2l0.5 2l-0.5 2l-7 8l-0.5 2l0.5 2l10 8l2.5 4l0 2l-0.5 2l-2 2l-15 8l-2.5 2l-4 4l-3 4l-1.5 4l-2.5 10l-3 4l-5.5 4l-4 1.5l-10 2l-6 0l-7-1.5l-3.5-2l-2-2l-0.5-2l-1-6l-2.5-4l-5-4l-14.5-7.5l-8-5l-8.5-7.5l-3-4l-0.5-2l0-2l0.5-2l3.5-3.5l6-4.5l1.5-2l1-2l-0.5-2.5l-6-5.5l-1.5-2l0-2l2-2l6.5-4l22-8l8.5-4l2-2l0.5-2l0-4l0-2l1.5-2l3.5-2z"/>
<path fill="rgb(8,0,247)" d="M964 119.5l4 0.5l4.5 2l2 2l1.5 6l1.5 2l3 2l9 4l16.5 6l7 4l2 2l0.5 2l-1 2l-7 8l-0.5 2l0.5 2l2 2l6.5 4.5l3.5 3.5l1 2l0 2l-1 2l-2 2l-14.5 8l-7 6l-5 8l-3 10l-3 4l-5 3.5l-4 1.5l-4 1l-6 0.5l-7.5-0.5l-4.5-2.5l-2-1.5l-1-2l-1.5-6l-2-4l-5-4l-16.5-8.5l-8-5l-7.5-6.5l-3-4l-0.5-2l0-2l1-2l2-2l7.5-6l1.5-2l1-2l-0.5-2l-1.5-2l-4.5-4l-1-2l0-2l1.5-2l2.5-2l7.5-3.5l18.5-6.5l9-4l2-2l0.5-2l0-4l0.5-2l1.5-1.5l4-2z"/>
<path fill="rgb(13,0,242)" d="M964 121l4.5 1l3 2l1 2l1 4l2 2l3 2l25.5 10l8 4l1.5 2l0.5 2l-0.5 2l-7.5 8l-0.5 2l1 2l1.5 2l8.5 6l2.5 4l0 2l-1 2l-2 2l-14 8l-7 6l-5.5 8l-4 10l-3 4l-3 2l-4 2l-5.5 1l-4 0.5l-4-0.5l-4-1l-4-2l-1-2l-2-8l-3-4l-3.5-2l-18.5-9.5l-6-3.5l-8.5-7l-2.5-4l-0.5-2l0-2l1-2l1.5-2l8-6l1.5-2l1-2l-0.5-2l-7-8l0-2l1.5-2l2.5-2l8-4l18-6l9.5-4l2.5-2l1-2l-0.5-4l1-2l2.5-2z"/>
<path fill="rgb(18,0,237)" d="M964 123.5l2.5 0.5l2.5 2l1 4l2.5 2l9 4l21.5 8l7.5 4l2 2l0.5 2l-1 2l-7 8l-0.5 2l0.5 2l2 2l8 6l2 2l1 2l0 2l-1 2l-2.5 2l-14 8l-7 6l-6 8l-5 10l-3 4l-5.5 3l-4 1l-4 0l-4.5 0l-4.5-2l-2-2l-2-8l-3.5-4l-7-4l-14.5-7l-8-5l-7-6l-3-4l-0.5-2l0-2l1-2l10-8l1.5-2l0.5-2l-0.5-2l-6.5-8l0-2l1.5-2l2.5-2l8.5-4l27.5-10l3.5-2l1.5-2l0-4l1.5-2z"/>
<path fill="rgb(23,0,232)" d="M966 132l6 1l29.5 11l8 4l2 2l0.5 2l-1 2l-7.5 8l-0.5 2l0.5 2l2 2l8.5 6l1.5 2l1 2l0 2l-0.5 1.5l-2.5 2.5l-14 8l-7 6l-8.5 10l-4.5 8l-1.5 2.5l-2 1.5l-4 2l-6 0.5l-5.5-0.5l-2.5-2l-1-2l-1.5-6l-3.5-4l-7.5-4l-16.5-8l-10-6l-5.5-6l-2-4l0.5-2l1-2l9.5-8l2-2l0.5-2l-0.5-2l-6.5-8l0-2l1.5-2l6-4l5.5-2.5l32-11z"/>
<path fill="rgb(28,0,227)" d="M966 133.5l8 1l8 2.5l18.5 7l8 4l1.5 2l0.5 2l-0.5 2l-7.5 8l-0.5 2l0.5 2l2 2l8 6l2 2l1 2l0 2l-1 2l-2.5 2l-13.5 8l-7.5 6l-9.5 10l-7 10l-3 2l-5.5 1l-4-1l-2-2l-2-6l-4-4l-7-4l-17-7.5l-10-6.5l-6.5-6l-1.5-4l0-2l1.5-2l9.5-8l1.5-2l0.5-2l-0.5-2l-1-2l-5-6l0-2l1-2l6-4l8.5-3.5l24-7.5z"/>
<path fill="rgb(33,0,222)" d="M966 134.5l6 0.5l12 3l15.5 6l7.5 4l2 2l0.5 2l-0.5 2l-7.5 8l-1 2l0.5 2l2 2l8.5 6l2 2l1 2l0 2l-3.5 4l-16.5 10l-18 16l-4.5 5.5l-4 2l-2 0l-2-1l-3-4.5l-4-4l-8-4l-17-7.5l-10-6l-6-4.5l-2.5-4l-0.5-2l0.5-2l1-2l9.5-8l1.5-2l0.5-2l0-2l-6-8l0-2l1-2l6-4l9-3.5l18-6l8-1.5z"/>
<path fill="rgb(38,0,217)" d="M924.5 148l7.5-4l10-3.5l14-4l8-1l6 0l6 1l16 5l10.5 4.5l3.5 2l2 2l0.5 2l-1 2l-7.5 8l-0.5 2l0.5 2l1.5 2l9 6l2 2l1 2l-0.5 2l-1 2l-2 2l-14 8l-16 13l-10 5.5l-4 0.5l-10-5l-26-11.5l-8.5-4.5l-6-6l-1.5-4l0.5-2l3.5-4l7.5-6l1.5-2l0.5-2l-1.5-4l-4.5-6l-0.5-2l1-2z"/>
<path fill="rgb(43,0,212)" d="M915 180l0.5-2l1.5-2l9-7.5l2-2.5l0.5-2l-0.5-2l-5.5-8l0-2l1-2l2-2l3.5-2l9-3.5l18-5l10-1.5l8 0.5l10 2.5l13 5l8 4l2 2l0.5 2l-1 2l-7.5 8l-1 2l1 2l1.5 2l8.5 6l2 2l1 2l0 2.5l-3.5 3.5l-13.5 8l-13 10l-8 4.5l-6 1.5l-6-1.5l-22-8l-10-4.5l-7-4l-5-4l-2.5-4z"/>
<path fill="rgb(48,0,207)" d="M916 180l0.5-2l1.5-2l8-6.5l3-3.5l0.5-2l-0.5-2l-5.5-8l0-2l1-2l2-2l7.5-3.5l10-3.5l14-3.5l8-1l8 0.5l8 2l14 5l7.5 4l2 2l0.5 2l-0.5 2l-7.5 8l-1 2l0.5 2l2 2l8.5 6l2 2l1 2l0 2l-1 2l-2.5 2l-13.5 8l-12 9l-8 4l-6 1l-6-1l-20-6.5l-10-4l-8-4.5l-4-3.5l-2.5-2.5z"/>
<path fill="rgb(54,0,201)" d="M928 148l6-3l10-3.5l10-3l10-1.5l6 0l8 1.5l17 5.5l7.5 4l2 2l0.5 2l-0.5 2l-8 8l-0.5 2l0.5 2l1.5 2l9 6l2 2l1 2l0 2l-1.5 2l-2 2l-13.5 8l-9 6.5l-6 3.5l-6 2l-6 0.5l-6-1l-20-6.5l-8-3.5l-7-3.5l-4.5-4l-3-4l-0.5-2l1-2l1-2l7.5-6l3.5-4l0.5-2l-0.5-2l-5-8l-0.5-2l1-2z"/>
<path fill="rgb(59,0,196)" d="M929 148l7-3.5l10-3.5l10-2.5l8-1l6 0l8 1.5l15.5 5l8 4l2 2l0.5 2l-0.5 2l-8 8l-0.5 2l0.5 2l1.5 2l8.5 6l2.5 2l1 2l0 2l-1.5 2l-2.5 2l-13 8l-10 7l-4 2l-6 2l-6 0.5l-6-1l-12-3.5l-10-3.5l-8-3.5l-6-4l-2.5-2l-3-4l0-2l0.5-2l1-2l7.5-6l3.5-4l0.5-2l-0.5-2l-5-8l-0.5-2l1-2z"/>
<path fill="rgb(64,0,191)" d="M919.5 180l0.5-2l1.5-2l7-6l3.5-4l0.5-2l-0.5-2l-5-8l0-2l0.5-2l2.5-2l3.5-2l8.5-3.5l14-3.5l10-1l8 0.5l10 2l8.5 3.5l8 4l2 2l0.5 2l-0.5 2l-8 8l-0.5 2l0 2l2 2l8.5 6l2 2l1.5 2l-0.5 2l-1 2l-2.5 2l-20 12.5l-8 4l-8 1.5l-6 0l-8-2l-10-3l-10-4l-6.5-3l-5-4l-3-4z"/>
<path fill="rgb(69,0,186)" d="M920.5 180l0.5-2l1.5-2l7-6l3.5-4l0.5-2l-0.5-2l-5-8l0-2l1-2l5-3.5l5.5-2.5l10.5-3l8-2l8-0.5l6 0l10 2l9.5 3.5l8 4l2 2l0.5 2l-0.5 2l-8 8l-1 2l0.5 2l2 2l10.5 8l1 2l0 2l-1 2l-2.5 2l-21 13l-6 2.5l-6 1.5l-8 0l-10-2l-12-4l-8-3.5l-6.5-3.5l-4-4l-1-2z"/>
<path fill="rgb(74,0,181)" d="M921.5 180l0.5-2l1.5-2l7-6l3.5-4l0.5-2l-0.5-2l-5-8l0-2l1-2l2-2l8-4l10-3l8-1.5l8-1l6 0.5l10 2l8.5 3l8 4l2 2l0.5 2l-0.5 2l-8 8l-1 2l0.5 2l2 2l10.5 8l1 2l0 2l-1 2l-5.5 4l-17 10l-6 3l-6 1l-8 0l-8-1.5l-12-3.5l-8-3l-7-4l-4.5-4l-1-2z"/>
<path fill="rgb(79,0,176)" d="M922.5 180l0.5-2l1.5-2l7-6l3.5-4l0-2l0-2l-5-8l0-2l1-2l2-2l7-3.5l8-2.5l8-2l8-1l8 0.5l8 1.5l9.5 3l8 4l2 2l0.5 2l-0.5 2l-8 8l-1 2l0.5 2l1.5 2l11 8l1 2l0 2l-1.5 2l-5 4l-20 11.5l-6 1.5l-8 0.5l-8-1l-12-3.5l-8-3l-8-4l-4.5-4l-1-2z"/>
<path fill="rgb(84,0,171)" d="M934 148l6-3l8-2.5l10-2.5l8-0.5l6 0l8 1.5l13 5l5 3l1 3l-0.5 2l-8 8l-1 2l0.5 2l1.5 2l11 8l1 2l0 2l-1.5 2l-2 2l-14 8.5l-8 4l-6 2l-8 0.5l-8-1.5l-10-2l-10-4l-6-3l-3.5-2.5l-3-4l0-2l0.5-2l1.5-2l7-6l3.5-4l0-2l-0.5-2l-4.5-8l-0.5-2l1-2z"/>
<path fill="rgb(89,0,166)" d="M924.5 180l0.5-2l1.5-2l7-6l3-4l0.5-2l-0.5-2l-4.5-8l-0.5-2l1-2l2.5-2l4-2l7-2.5l10-2.5l8-1l6 0l8 1l9.5 3l6.5 3l3.5 3l0.5 2l-0.5 2l-8 8l-1 2l0.5 2l1.5 2l11 8l1 2l0 2l-1.5 2l-5 4l-12 7l-6 2.5l-6 2l-8 0.5l-8-1l-10-2.5l-8-2.5l-8-4l-4.5-4l-1-2z"/>
<path fill="rgb(94,0,161)" d="M925 180l1-2l1.5-2l7-6l3-4l0.5-2l-0.5-2l-5-8l0-2l1-2l2.5-2l4-2l8-3l8-2l8-1l6 0.5l8 1l8.5 2.5l7.5 3.5l2.5 2.5l0.5 2l-0.5 2l-8 8l-1 2l0.5 2l1.5 2l11 8l1 2l0 2l-1.5 2l-5 4l-17 9l-6 2l-8 0.5l-8-1l-8-2l-10-3.5l-7-3l-4.5-4l-1-2z"/>
<path fill="rgb(99,0,156)" d="M926 180l1-2l1.5-2l7-6l3-4l0.5-2l-0.5-2l-5-8l0-2l1-2l2.5-2l4-2l7-2.5l8-2l8-1l6 0l8 1l7 2.5l7 3l3.5 3l0.5 2l-0.5 2l-8 8l-1 2l0.5 2l1.5 2l11 8l1 2l0 2l-1.5 2l-5 4l-14 7.5l-8 2.5l-6 1l-8-1l-8-1.5l-10-3l-7.5-3.5l-5-4l-1-2z"/>
<path fill="rgb(105,0,150)" d="M927 180l1-2l1.5-2l7-6l3-4l0.5-2l-0.5-2l-4-6l-1-2l0-2l1-2l2.5-2l4-2l6-2.5l8-1.5l8-1l6 0l8 1l6 2l6 2l2.5 2l2 2l0.5 2l-0.5 2l-8.5 8l-0.5 2l0.5 2l1.5 2l11 8l1 2l0 2l-1.5 2l-5 4l-13 7l-6 2l-8 1l-8-0.5l-8-1.5l-10-3l-6.5-3l-5-4l-1-2z"/>
<path fill="rgb(110,0,145)" d="M928 180l1-2l1.5-2l7-6l3-4l0.5-2l-0.5-2l-4-6l-1-2l0-2l1-2l1.5-1.5l5-2.5l13-4l8-1l6 0l8 1.5l6 1.5l6 2.5l3.5 3.5l0.5 2l-0.5 2l-8.5 8l-0.5 2l0.5 2l1.5 2l11 8l1 2l0 2l-1.5 2l-2 2l-13 7.5l-8 3l-6 1l-8 0l-8-1.5l-10-3l-7.5-3l-5-4l-1-2z"/>
<path fill="rgb(115,0,140)" d="M937 150l2.5-2l6.5-3l8-2l8-1.5l6 0l6 0.5l8 2l5 2l3.5 2l2 2l1 2l-1 2l-1.5 2l-7 6l-0.5 2l0.5 2l1.5 2l11 8l1 2l0 2l-1.5 2l-2 2l-8 5l-8 3.5l-8 2l-8 0.5l-8-1l-8-2l-8-3l-5.5-3l-2-2l-1-2l-0.5-2l1-2l1.5-2l7-6l3-4l0-2l-0.5-2l-5-8l0-2z"/>
<path fill="rgb(120,0,135)" d="M992 150l0.5 2l-1 2l-8.5 8l-0.5 2l0.5 2l1.5 2l11 8l1 2l0 2l-1 2l-2.5 2l-9 5.5l-6 2.5l-6 1.5l-6 1l-8-0.5l-10-2l-8-3l-6.5-3l-2-2l-1-2l-0.5-2l1-2l1.5-2l7-6l3-4l0-2l-0.5-2l-5-8l0-2l1-2l2.5-2l5.5-2.5l8-2.5l8-1l6 0l8 0.5l6 1.5l6 2.5z"/>
<path fill="rgb(125,0,130)" d="M938 152l1-2l2.5-2l4.5-2l6.5-2l7.5-1.5l8-0.5l6 0.5l5.5 1.5l5.5 2l4 2l2 2l0.5 2l-1 2l-8.5 8l-0.5 2l0.5 2l1.5 2l11 8l1 2l0 2l-1 2l-2.5 2l-6.5 4l-7.5 3.5l-8 2l-8 0.5l-8-1l-8-2l-8-3l-5.5-4l-1-2l-0.5-2l1-2l1.5-2l7-6l3-4l0-2l-0.5-2l-4-6l-1-2z"/>
<path fill="rgb(130,0,125)" d="M938.5 152l1.5-2l2.5-2l3.5-1.5l6-2l8-1.5l12-0.5l6 1.5l6 2l4 2l2 2l0.5 2l-0.5 2l-9 8l-1 2l1 2l1.5 2l11 8l1 2l0 2l-1 2l-2.5 2l-6.5 4l-6.5 3l-8 2l-6 0.5l-8-0.5l-8-2l-8.5-3l-6-4l-1-2l-0.5-2l0.5-2l2-2l7-6l3-4l0-2l-0.5-2l-4.5-6l-0.5-2z"/>
<path fill="rgb(135,0,120)" d="M941 150l2.5-2l6.5-3l6-1.5l8-0.5l6 0l6.5 1l6.5 2l4 2l2 2l0.5 2l-0.5 2l-9 8l-1 2l1 2l1.5 2l11 8l1 2l0 2l-1 2l-2.5 2l-6.5 4l-7.5 3l-8 2l-8 0l-8-1.5l-8-2.5l-6-2.5l-3.5-2.5l-1.5-2l0-2l0.5-2l2-2l8.5-8l1.5-2l0.5-2l-1-2l-4.5-6l-1-2l0-2z"/>
<path fill="rgb(140,0,115)" d="M941.5 150l3-2l5.5-2.5l7-1.5l7-1l6 0l6 1l6 2l4 2l2 2l0.5 2l-0.5 2l-9.5 8l-0.5 2l0.5 2l2 2l11 8l1 2l0 2l-1 2l-5.5 4l-6 3l-6 2l-8 1.5l-6 0l-8-1.5l-8-2.5l-6-2.5l-2.5-2l-1.5-2l0-2l0.5-2l1.5-2l9-8l1.5-2l0.5-2l-1-2l-4.5-6l-1-2l0-2z"/>
<path fill="rgb(145,0,110)" d="M942.5 150l3-2l4.5-2l8-2l6-0.5l6 0l6 1l5 1.5l4 2l2 2l1 2l-1 2l-9.5 8l-1 2l1 2l2 2l11 8l1.5 2l0 2l-1.5 2l-5.5 4l-5 2.5l-6 2l-8 1.5l-6 0l-8-1.5l-8-2.5l-5-2l-2.5-2l-1.5-2l0-2l0.5-2l1.5-2l9.5-8l1-2l0.5-2l-0.5-2l-5-6l-1-2l0-2z"/>
<path fill="rgb(150,0,105)" d="M946.5 148l9.5-3.5l10-1l10 1l3.5 1.5l4.5 2l2 2l1 2l-1 2l-9.5 8l-1 2l1 2l2 2l11 8l1.5 2l0 2l-1.5 2l-5.5 4l-6 3l-6 1.5l-6 1l-8-0.5l-8-1.5l-6-2l-6-3.5l-2-2l0-2l0.5-2l1.5-2l9.5-8l1.5-2l0.5-2l-1-2l-5.5-6l-1-2l0-2l1.5-2z"/>
<path fill="rgb(156,0,99)" d="M944.5 150l3-2l5-2l11.5-2l10 0.5l4.5 1.5l4.5 2l2.5 2l0.5 2l-1 2l-10 8l-1 2l1 2l2.5 2l9 6l2 2l1.5 2l0 2l-1.5 2l-4.5 3.5l-6 3l-6 1.5l-6 1l-6 0l-8-1.5l-6.5-1.5l-5.5-3.5l-3-2.5l0-2l0.5-2l3.5-4l7.5-6l1.5-2l0.5-2l-1-2l-5.5-6l-1-2l0-2z"/>
<path fill="rgb(161,0,94)" d="M945 150l3.5-2l5.5-2l10-1.5l10 0.5l8 3l2.5 2l0.5 2l-1 2l-2 2l-8.5 6l-1 2l1 2l12 8l2.5 2l1 2l0 2l-1 2l-4 3l-6 3l-6 1.5l-6 1l-6 0l-8-1.5l-6-1.5l-6-3.5l-2-2l0-2l0.5-2l3.5-4l7.5-6l2-2l0.5-2l-1-2l-5-5l-2-3l0-2z"/>
<path fill="rgb(166,0,89)" d="M946 150l3.5-2l4.5-2l10-1.5l10 1l4 1l4 2l1.5 1.5l0.5 2l-1 2l-2 2l-9 6l-1 2l1 2l12 7l3 3l1 2l0 2l-1 2l-3 2.5l-6 3l-6 2l-6 0.5l-6 0l-8-1l-6-2.5l-5-2.5l-2-2l0-2l0.5-2l3.5-4l10-8l0.5-2l-1-2l-6.5-6l-1-2l0-2z"/>
<path fill="rgb(171,0,84)" d="M947 150l3.5-2l5.5-2l10-1l8 1l6 2l2 1.5l1 2.5l-1 2l-2 2l-10 6l-1 2l1.5 2l10 6l5.5 4l1 2l0 2l-1 2l-2.5 2l-5.5 3l-6 2l-6 0.5l-6 0l-8-1l-6-2.5l-4-2l-2-2l-0.5-2l1-2l3.5-4l11-8l0.5-2l-1.5-2l-7-6l-1.5-2l0-2z"/>
<path fill="rgb(176,0,79)" d="M948 150l3.5-2l4.5-1.5l10-1l6 0l6.5 2.5l3 2l0.5 2l-1 2l-1 1l-12 7l-2 2l2 2l12 6l5 4l1.5 2l0 2l-1.5 2l-3 2.5l-6 2.5l-10 2.5l-6-0.5l-6-0.5l-6-2l-5-2.5l-2-2l-0.5-2l1-2l1.5-2l5-4l9-6l1.5-2l-10.5-8l-1.5-2l0-2z"/>
<path fill="rgb(181,0,74)" d="M947.5 154l0.5-2.5l1-1.5l3-2l6-1.5l6-1l6 0.5l6 1l4.5 3l0.5 2l-1 2l-6 4l-6 3l-6 1l-4-1l-4-1.5l-4-3zM941.5 180l1-2l1.5-2l4-3.5l10-6l4-1l6 1l8 3.5l6 4l2 2l1.5 2l0 2l-1.5 2l-4 3l-6 2.5l-8 1.5l-8-0.5l-8-2l-6-2.5l-2-2z"/>
<path fill="rgb(186,0,69)" d="M948.5 152l1.5-2l4-2l6-1.5l6-0.5l6 0.5l4 1.5l3 2l1 2l-1 2l-5 3.5l-8 3l-4 0.5l-6-1.5l-4-2.5l-3.5-3zM942.5 180l1-2l1.5-2l5-4l6-3.5l6-1.5l6 0.5l8 3.5l5 3l2 2l1.5 2l0 2l-1.5 2l-3 2.5l-6 2.5l-8 1.5l-8-0.5l-8-2l-5-2l-2-2z"/>
<path fill="rgb(191,0,64)" d="M949.5 152l1.5-2l4.5-2l4.5-1l6-0.5l9 1.5l3 2l1 2l-1 2l-6 3.5l-6 2l-4 0.5l-6-1.5l-4-2l-2.5-2.5zM943.5 180l0.5-2l2-2l4-3.5l6-3l6-1.5l6 0.5l6 2l6 3.5l2.5 2l1 2l0 2l-1.5 2l-2.5 2l-5.5 2.5l-8 1.5l-8-0.5l-8-1.5l-4-2.5l-1.5-1.5z"/>
<path fill="rgb(196,0,59)" d="M950.5 152l1.5-2l5-2l9-1l8 1l3 2l1 2l-1.5 2l-4.5 3l-6 1.5l-4 0.5l-4-0.5l-4-2l-3.5-2.5zM944.5 180l0.5-2l2-2l3-2.5l6-3.5l6-1.5l6 0.5l6 2l5 3l2.5 2l1 2l0 2l-0.5 1l-3.5 3l-6.5 2.5l-6 1l-8-0.5l-6.5-1l-4-2l-2-2z"/>
<path fill="rgb(201,0,54)" d="M951.5 152l2-2l4.5-2l8-1l5.5 1l4 2l1 2l-1 2l-3.5 2l-6 2l-4 0l-4-0.5l-4-1.5l-2-2zM945.5 180l0.5-2l4.5-4l5.5-3l6-1.5l6 0.5l6 1.5l4 2.5l2.5 2l1 2l0 2l-1.5 2l-2.5 2l-5.5 2l-6 1l-6 0l-6.5-1l-5-2l-2-2z"/>
<path fill="rgb(207,0,48)" d="M953 152l2-2l6.5-2l4.5-0.5l4 0.5l4 1.5l1.5 2.5l-1.5 2l-3.5 2l-4.5 1l-4 0.5l-6.5-1.5l-2.5-2zM946.5 180l0.5-2l4.5-4l4.5-2.5l6-1.5l6 0.5l4.5 1.5l5.5 2.5l2.5 3.5l0 2l-0.5 1l-4 3l-5 2l-5 0.5l-6 0l-6-1l-4-2l-2.5-1.5z"/>
<path fill="rgb(212,0,43)" d="M954 152l2.5-2l5.5-1.5l4-0.5l7 2l1 2l-1.5 2l-2.5 1.5l-6 1l-6.5-0.5l-3-2zM948 180l0.5-2l1.5-2l2.5-2l5.5-2.5l4-1l4 0l6 1.5l6 3.5l1.5 2.5l0 2l-1.5 2l-2 1.5l-4 1.5l-6 1l-6 0l-6-1l-2.5-1l-3-2z"/>
<path fill="rgb(217,0,38)" d="M955.5 152l2.5-2l6-1l4 0l3 1l1.5 2l-1.5 2l-7 2l-4-0.5l-4-1.5zM949 180l1-2.5l4-3.5l4-2l4-0.5l4 0l6 1l5 3.5l1.5 2l0 2l-2.5 2.5l-4 2l-6 1l-6 0l-6-1.5l-4-2z"/>
<path fill="rgb(222,0,33)" d="M957.5 152l3-2l3.5-0.5l4.5 0.5l2 2l-1.5 2l-5 1l-6-1zM950 180l0.5-2l3.5-3l4-2l4-1l4 0l6 1.5l4 2.5l1.5 2l0 2l-1.5 2l-4 2l-6 1l-6 0l-5.5-1l-3.5-2z"/>
<path fill="rgb(227,0,28)" d="M959.5 152l4.5-1.5l2 0l2.5 1.5l-2.5 1.5l-4.5 0.5zM951 180l0.5-2l2.5-2.5l4-2l4-1l4 0l5 1.5l4 2l1.5 2l0 2l-2 2l-4 2l-4.5 0.5l-4 0l-6-0.5l-3.5-2z"/>
<path fill="rgb(232,0,23)" d="M952.5 180l0.5-2l2-2l3-1.5l4-1l4-0.5l4 1l3.5 2l2 2l0 2l-2 2l-3.5 1.5l-4 0.5l-8-0.5l-4-1.5z"/>
<path fill="rgb(237,0,18)" d="M953.5 180l0.5-2l2.5-2l5.5-2l4 0l4 1l2 1l2 2l0 2l-2 2l-6 1.5l-4 0l-4-0.5l-2.5-1z"/>
<path fill="rgb(242,0,13)" d="M955 180l0.5-2l2.5-2l4-1l6 0l2.5 1l2 2l0 2l-2.5 2l-4 1l-4 0l-4-1z"/>
<path fill="rgb(247,0,8)" d="M957 180l0.5-2l4.5-2.5l6 0.5l3 2l0 2l-3 1.5l-2 0.5l-6 0z"/>
<path fill="rgb(252,0,3)" d="M959 180l0.5-2l2.5-1l4-0.5l3 1.5l0 2l-3 1l-4 0z"/>
</g>
<path d="M851.66 47.81V580.24" stroke="#fff" stroke-width="1" opacity="0.9"/>
<path d="M1048.63 47.81V580.24" stroke="#fff" stroke-width="1" opacity="0.9"/>
</g>
<path d="M699.76 322.01H1232.19" stroke="#CD3333" stroke-width="1.5" stroke-dasharray="6 6" stroke-linecap="round" fill="none" clip-path="url(#cb2)"/>
<path d="M917.67 580.24V47.81" stroke="#006400" stroke-width="1.5" stroke-dasharray="6 6" stroke-linecap="round" fill="none" clip-path="url(#cb2)"/>
<path d="M1013.21 580.24V47.81" stroke="#006400" stroke-width="1.5" stroke-dasharray="6 6" stroke-linecap="round" fill="none" clip-path="url(#cb2)"/>
<rect x="699.76" y="47.81" width="532.43" height="532.43" fill="none" stroke="#000" stroke-width="0.75"/>
<path d="M750.76 580.24v6.0M858.1 580.24v6.0M965.44 580.24v6.0M1072.78 580.24v6.0M1180.12 580.24v6.0M699.76 580.24h-6.0M699.76 447.13h-6.0M699.76 314.03h-6.0M699.76 180.92h-6.0M699.76 47.81h-6.0M750.76 580.24H1180.12M699.76 580.24V47.81" fill="none" stroke="#000" stroke-width="0.75"/>
<g font-size="10" text-anchor="middle">
<text x="750.76" y="601.5">-400</text>
<text x="858.1" y="601.5">-200</text>
<text x="965.44" y="601.5">0</text>
<text x="1072.78" y="601.5">200</text>
<text x="1180.12" y="601.5">400</text>
<text transform="translate(684.6 580.24) rotate(-90)">80</text>
<text transform="translate(684.6 447.13) rotate(-90)">85</text>
<text transform="translate(684.6 314.03) rotate(-90)">90</text>
<text transform="translate(684.6 180.92) rotate(-90)">95</text>
<text transform="translate(684.6 47.81) rotate(-90)">100</text>
</g>
<text x="965.98" y="32" font-size="21.5" font-weight="bold" text-anchor="middle">Density heat map for the top hits</text>
<text x="965.98" y="625.5" font-size="15.75" text-anchor="middle">Distance to peak summit</text>
<text transform="translate(661.8 314.02) rotate(-90)" font-size="15.75" text-anchor="middle">Motif score</text>
<path d="M79 1200.5L80 1200.5L81 1200.5L82 1200.5L83 1200.5L84 1200.5L85 1200.5L86 1200.5L87 1200.5L88 1200.5L89 1200.5L90 1200.5L91 1200.5L92 1200.5L93 1200.5L94 1200.5L95 1200.5L96 1200.5L97 1200.5L98 1200.5L99 1200.5L100 1200.5L101 1200.5L102 1200.5L103 1200.5L104 1200.5L105 1200.5L106 1200.5L107 1200.5L108 1200.5L109 1200.5L110 1200.5L111 1200.5L112 1200.5L113 1200.5L114 1200.5L115 1200.5L116 1200.5L117 1200.5L118 1200.5L119 1200.5L120 1200.5L121 1200.5L122 1200.5L123 1200.5L124 1200.5L125 1200.5L126 1200.5L127 1200.5L128 1200.5L129 1200.5L130 1200.5L131 1200.5L132 1200.5L133 1200.5L134 1200.5L135 1200.5L136 1200.5L137 1200.5L138 1200.5L139 1200.5L140 1200.5L141 1200.5L142 1200.5L143 1200.5L144 1200.5L145 1200.5L146 1200.5L147 1200.5L148 1200.5L149 1200.5L150 1200.5L151 1200.5L152 1200.5L153 1200.5L154 1200.5L155 1200.5L156 1200.5L157 1200.5L158 1200.5L159 1200.5L160 1200.5L161 1200.49L162 1200.49L163 1200.49L164 1200.49L165 1200.49L166 1200.49L167 1200.49L168 1200.49L169 1200.48L170 1200.48L171 1200.48L172 1200.48L173 1200.48L174 1200.47L175 1200.47L176 1200.47L177 1200.47L178 1200.47L179 1200.46L180 1200.46L181 1200.46L182 1200.46L183 1200.45L184 1200.45L185 1200.45L186 1200.44L187 1200.44L188 1200.44L189 1200.44L190 1200.43L191 1200.43L192 1200.43L193 1200.42L194 1200.42L195 1200.42L196 1200.41L197 1200.41L198 1200.41L199 1200.4L200 1200.4L201 1200.4L202 1200.39L203 1200.39L204 1200.38L205 1200.37L206 1200.37L207 1200.36L208 1200.35L209 1200.34L210 1200.33L211 1200.32L212 1200.31L213 1200.3L214 1200.29L215 1200.28L216 1200.27L217 1200.26L218 1200.25L219 1200.24L220 1200.22L221 1200.21L222 1200.2L223 1200.19L224 1200.17L225 1200.16L226 1200.15L227 1200.14L228 1200.12L229 1200.11L230 1200.1L231 1200.09L232 1200.08L233 1200.06L234 1200.05L235 1200.04L236 1200.03L237 1200.02L238 1200.01L239 1199.99L240 1199.98L241 1199.97L242 1199.95L243 1199.94L244 1199.92L245 1199.9L246 1199.89L247 1199.87L248 1199.85L249 1199.82L250 1199.8L251 1199.77L252 1199.74L253 1199.71L254 1199.66L255 1199.62L256 1199.57L257 1199.52L258 1199.46L259 1199.4L260 1199.34L261 1199.28L262 1199.21L263 1199.14L264 1199.07L265 1199L266 1198.92L267 1198.84L268 1198.74L269 1198.64L270 1198.53L271 1198.42L272 1198.3L273 1198.17L274 1198.03L275 1197.89L276 1197.73L277 1197.56L278 1197.38L279 1197.2L280 1197L281 1196.78L282 1196.54L283 1196.27L284 1195.99L285 1195.7L286 1195.4L287 1195.1L288 1194.81L289 1194.52L290 1194.25L291 1194L292 1193.77L293 1193.54L294 1193.33L295 1193.11L296 1192.88L297 1192.63L298 1192.37L299 1192.08L300 1191.75L301 1191.38L302 1190.94L303 1190.44L304 1189.88L305 1189.25L306 1188.51L307 1187.62L308 1186.61L309 1185.48L310 1184.25L311 1182.87L312 1181.28L313 1179.51L314 1177.57L315 1175.5L316 1173.15L317 1170.48L318 1167.64L319 1164.77L320 1161.56L321 1158.26L322 1155.38L323 1153.23L324 1151.26L325 1149.95L326 1149.78L327 1149.99L328 1150.29L329 1150.57L330 1150.88L331 1151.17L332 1151.22L333 1150.56L334 1149.36L335 1148L336 1146.48L337 1144.61L338 1142.49L339 1140.25L340 1138L341 1135.74L342 1133.4L343 1130.93L344 1128.31L345 1125.5L346 1122.44L347 1119.13L348 1115.6L349 1111.87L350 1108L351 1103.86L352 1099.4L353 1094.77L354 1090.09L355 1085.5L356 1081L357 1076.5L358 1072L359 1067.5L360 1063L361 1058.5L362 1054L363 1049.5L364 1045L365 1040.5L366 1036L367 1031.5L368 1027L369 1022.5L370 1018L371 1013.57L372 1009.22L373 1004.82L374 1000.29L375 995.5L376 990.44L377 985.16L378 979.66L379 973.94L380 968L381 961.23L382 953.83L383 947.01L384 941.92L385 938.05L386 934.78L387 931.88L388 929.22L389 927.01L390 924.9L391 922.47L392 919.34L393 915.52L394 910.99L395 905.25L396 898.27L397 891.2L398 883.96L399 876.59L400 869.15L401 861.6L402 854.89L403 849.23L404 844.17L405 839.47L406 835L407 831.4L408 828.7L409 826.43L410 824.53L411 822.97L412 821.76L413 820.71L414 819.59L415 818.19L416 816.46L417 814.44L418 812.18L419 809.59L420 806.56L421 803.2L422 799.36L423 795.18L424 791L425 786.99L426 782.99L427 779.06L428 775.3L429 771.78L430 768.34L431 764.77L432 761.04L433 757.12L434 752.71L435 747.67L436 742.07L437 735.66L438 728.39L439 722.06L440 716.46L441 712.28L442 709.72L443 707.97L444 708.02L445 710.07L446 712.96L447 717.6L448 723.24L449 728.91L450 735.02L451 740.85L452 746.5L453 751.57L454 755.33L455 758.27L456 760.15L457 761.51L458 761.66L459 760.4L460 758.27L461 754.07L462 749.21L463 743.56L464 738.65L465 734.8L466 732.54L467 731.76L468 733.43L469 737.34L470 746.46L471 757.82L472 771.83L473 788.29L474 805.62L475 824.25L476 841.21L477 856.07L478 869.3L479 880.51L480 890.06L481 898.24L482 904.2L483 908.84L484 911.77L485 913.73L486 915.32L487 916.99L488 919.12L489 921.49L490 924.13L491 927.17L492 930.85L493 935.4L494 940.42L495 945.5L496 950.48L497 955.59L498 961.05L499 967.06L500 973.58L501 980.73L502 988.67L503 997.83L504 1009L505 1020.5L506 1031.63L507 1042.67L508 1053.24L509 1063.51L510 1073L511 1081.8L512 1089.71L513 1095.93L514 1101.29L515 1105.91L516 1109.7L517 1112.64L518 1115.04L519 1117.12L520 1119.1L521 1121.19L522 1123.4L523 1125.52L524 1127.8L525 1130.5L526 1133.95L527 1138.16L528 1143.23L529 1149.71L530 1155.5L531 1159.99L532 1164.03L533 1167.37L534 1169.76L535 1171.56L536 1173.02L537 1174.22L538 1175.2L539 1175.91L540 1176.75L541 1178.08L542 1179.8L543 1181.66L544 1183.43L545 1185.31L546 1187.26L547 1189.14L548 1190.78L549 1192.03L550 1193.07L551 1194.02L552 1194.87L553 1195.61L554 1196.24L555 1196.75L556 1197.19L557 1197.6L558 1197.97L559 1198.32L560 1198.64L561 1198.93L562 1199.18L563 1199.4L564 1199.59L565 1199.75L566 1199.89L567 1200.02L568 1200.15L569 1200.26L570 1200.36L571 1200.43L572 1200.48L573 1200.5Z" fill="#F5DEB3" stroke="#000" stroke-width="1.1" stroke-linejoin="round"/>
<path d="M319.07 1220.24V687.81" stroke="#CD3333" stroke-width="1.5" stroke-dasharray="6 6" stroke-linecap="round" fill="none" clip-path="url(#cb3)"/>
<rect x="59.76" y="687.81" width="532.43" height="532.43" fill="none" stroke="#000" stroke-width="0.75"/>
<path d="M95 1220.24v6.0M210.5 1220.24v6.0M326 1220.24v6.0M441.5 1220.24v6.0M557 1220.24v6.0M59.76 1200.5h-6.0M59.76 1080.2h-6.0M59.76 959.9h-6.0M59.76 839.6h-6.0M59.76 719.3h-6.0M95 1220.24H557M59.76 1200.5V719.3" fill="none" stroke="#000" stroke-width="0.75"/>
<g font-size="10" text-anchor="middle">
<text x="95" y="1241.5">80</text>
<text x="210.5" y="1241.5">85</text>
<text x="326" y="1241.5">90</text>
<text x="441.5" y="1241.5">95</text>
<text x="557" y="1241.5">100</text>
<text transform="translate(44.6 1200.5) rotate(-90)">0.00</text>
<text transform="translate(44.6 1080.2) rotate(-90)">0.05</text>
<text transform="translate(44.6 959.9) rotate(-90)">0.10</text>
<text transform="translate(44.6 839.6) rotate(-90)">0.15</text>
<text transform="translate(44.6 719.3) rotate(-90)">0.20</text>
</g>
<text x="325.98" y="672" font-size="21.5" font-weight="bold" text-anchor="middle">Motif score threshold: 89.700</text>
<text x="325.98" y="1265.5" font-size="15.75" text-anchor="middle">Motif score</text>
<text transform="translate(21.8 954.02) rotate(-90)" font-size="15.75" text-anchor="middle">Density</text>
<path d="M719.25 1200.5L720.25 1200.46L721.25 1200.38L722.25 1200.25L723.25 1200.09L724.25 1199.9L725.25 1199.67L726.25 1199.4L727.25 1199.05L728.25 1198.6L729.25 1198.06L730.25 1197.41L731.25 1196.6L732.25 1195.59L733.25 1194.36L734.25 1192.92L735.25 1191.23L736.25 1189.32L737.25 1187.19L738.25 1184.85L739.25 1182.28L740.25 1179.44L741.25 1176.32L742.25 1172.96L743.25 1169.36L744.25 1165.52L745.25 1161.45L746.25 1157.2L747.25 1152.79L748.25 1148.2L749.25 1143.42L750.25 1138.5L751.25 1133.51L752.25 1128.51L753.25 1123.55L754.25 1118.7L755.25 1114.03L756.25 1109.54L757.25 1105.22L758.25 1101.06L759.25 1097.13L760.25 1093.46L761.25 1090.07L762.25 1086.97L763.25 1084.17L764.25 1081.7L765.25 1079.55L766.25 1077.68L767.25 1076.08L768.25 1074.76L769.25 1073.67L770.25 1072.76L771.25 1072.01L772.25 1071.39L773.25 1070.89L774.25 1070.46L775.25 1070.1L776.25 1069.79L777.25 1069.54L778.25 1069.33L779.25 1069.15L780.25 1068.99L781.25 1068.84L782.25 1068.7L783.25 1068.57L784.25 1068.44L785.25 1068.31L786.25 1068.18L787.25 1068.03L788.25 1067.88L789.25 1067.73L790.25 1067.56L791.25 1067.4L792.25 1067.24L793.25 1067.08L794.25 1066.93L795.25 1066.78L796.25 1066.65L797.25 1066.52L798.25 1066.42L799.25 1066.32L800.25 1066.24L801.25 1066.17L802.25 1066.11L803.25 1066.05L804.25 1065.99L805.25 1065.93L806.25 1065.87L807.25 1065.8L808.25 1065.71L809.25 1065.61L810.25 1065.5L811.25 1065.36L812.25 1065.2L813.25 1065.03L814.25 1064.83L815.25 1064.62L816.25 1064.4L817.25 1064.17L818.25 1063.92L819.25 1063.67L820.25 1063.41L821.25 1063.14L822.25 1062.84L823.25 1062.52L824.25 1062.19L825.25 1061.83L826.25 1061.45L827.25 1061.06L828.25 1060.67L829.25 1060.26L830.25 1059.85L831.25 1059.42L832.25 1058.98L833.25 1058.52L834.25 1058.04L835.25 1057.54L836.25 1057.02L837.25 1056.51L838.25 1056L839.25 1055.48L840.25 1054.97L841.25 1054.45L842.25 1053.93L843.25 1053.4L844.25 1052.87L845.25 1052.35L846.25 1051.85L847.25 1051.37L848.25 1050.93L849.25 1050.53L850.25 1050.16L851.25 1049.82L852.25 1049.5L853.25 1049.19L854.25 1048.88L855.25 1048.56L856.25 1048.23L857.25 1047.89L858.25 1047.53L859.25 1047.17L860.25 1046.8L861.25 1046.42L862.25 1046.03L863.25 1045.61L864.25 1045.16L865.25 1044.67L866.25 1044.12L867.25 1043.51L868.25 1042.83L869.25 1042.07L870.25 1041.23L871.25 1040.34L872.25 1039.39L873.25 1038.39L874.25 1037.33L875.25 1036.21L876.25 1035.01L877.25 1033.72L878.25 1032.33L879.25 1030.86L880.25 1029.3L881.25 1027.68L882.25 1026.01L883.25 1024.28L884.25 1022.48L885.25 1020.59L886.25 1018.6L887.25 1016.52L888.25 1014.36L889.25 1012.13L890.25 1009.87L891.25 1007.59L892.25 1005.29L893.25 1002.96L894.25 1000.62L895.25 998.23L896.25 995.81L897.25 993.34L898.25 990.83L899.25 988.28L900.25 985.68L901.25 983.02L902.25 980.27L903.25 977.44L904.25 974.55L905.25 971.62L906.25 968.71L907.25 965.89L908.25 963.16L909.25 960.47L910.25 957.77L911.25 954.98L912.25 952.05L913.25 948.97L914.25 945.77L915.25 942.5L916.25 939.18L917.25 935.83L918.25 932.42L919.25 928.96L920.25 925.46L921.25 921.91L922.25 918.32L923.25 914.68L924.25 910.95L925.25 907.07L926.25 902.97L927.25 898.62L928.25 894.02L929.25 889.22L930.25 884.29L931.25 879.31L932.25 874.31L933.25 869.28L934.25 864.19L935.25 858.95L936.25 853.49L937.25 847.79L938.25 841.85L939.25 835.72L940.25 829.46L941.25 823.13L942.25 816.75L943.25 810.29L944.25 803.72L945.25 797.05L946.25 790.33L947.25 783.6L948.25 776.93L949.25 770.29L950.25 763.64L951.25 757.02L952.25 750.55L953.25 744.35L954.25 738.58L955.25 733.28L956.25 728.42L957.25 724.01L958.25 720.04L959.25 716.58L960.25 713.73L961.25 711.5L962.25 709.87L963.25 708.71L964.25 707.92L965.25 707.54L966.25 707.48L967.25 707.75L968.25 708.48L969.25 709.74L970.25 711.53L971.25 713.91L972.25 716.89L973.25 720.43L974.25 724.47L975.25 728.99L976.25 734.01L977.25 739.45L978.25 745.22L979.25 751.27L980.25 757.55L981.25 764.01L982.25 770.64L983.25 777.4L984.25 784.23L985.25 791.06L986.25 797.85L987.25 804.55L988.25 811.16L989.25 817.68L990.25 824.07L991.25 830.35L992.25 836.5L993.25 842.54L994.25 848.45L995.25 854.25L996.25 859.95L997.25 865.57L998.25 871.13L999.25 876.67L1000.25 882.2L1001.25 887.72L1002.25 893.17L1003.25 898.52L1004.25 903.73L1005.25 908.8L1006.25 913.74L1007.25 918.54L1008.25 923.22L1009.25 927.8L1010.25 932.41L1011.25 937.15L1012.25 941.95L1013.25 946.66L1014.25 951.1L1015.25 955.12L1016.25 958.61L1017.25 961.64L1018.25 964.43L1019.25 967.17L1020.25 969.89L1021.25 972.61L1022.25 975.32L1023.25 977.99L1024.25 980.59L1025.25 983.13L1026.25 985.61L1027.25 988.03L1028.25 990.41L1029.25 992.74L1030.25 995.01L1031.25 997.24L1032.25 999.41L1033.25 1001.53L1034.25 1003.6L1035.25 1005.63L1036.25 1007.61L1037.25 1009.53L1038.25 1011.39L1039.25 1013.21L1040.25 1014.97L1041.25 1016.68L1042.25 1018.36L1043.25 1020L1044.25 1021.61L1045.25 1023.18L1046.25 1024.72L1047.25 1026.23L1048.25 1027.72L1049.25 1029.19L1050.25 1030.63L1051.25 1032.06L1052.25 1033.45L1053.25 1034.79L1054.25 1036.09L1055.25 1037.34L1056.25 1038.54L1057.25 1039.7L1058.25 1040.81L1059.25 1041.87L1060.25 1042.89L1061.25 1043.84L1062.25 1044.73L1063.25 1045.58L1064.25 1046.38L1065.25 1047.15L1066.25 1047.86L1067.25 1048.51L1068.25 1049.06L1069.25 1049.52L1070.25 1049.9L1071.25 1050.21L1072.25 1050.47L1073.25 1050.7L1074.25 1050.93L1075.25 1051.14L1076.25 1051.35L1077.25 1051.55L1078.25 1051.74L1079.25 1051.92L1080.25 1052.1L1081.25 1052.31L1082.25 1052.54L1083.25 1052.82L1084.25 1053.14L1085.25 1053.5L1086.25 1053.89L1087.25 1054.3L1088.25 1054.73L1089.25 1055.16L1090.25 1055.61L1091.25 1056.06L1092.25 1056.54L1093.25 1057.04L1094.25 1057.56L1095.25 1058.11L1096.25 1058.69L1097.25 1059.3L1098.25 1059.96L1099.25 1060.63L1100.25 1061.32L1101.25 1062.03L1102.25 1062.74L1103.25 1063.46L1104.25 1064.19L1105.25 1064.94L1106.25 1065.68L1107.25 1066.4L1108.25 1067.12L1109.25 1067.83L1110.25 1068.53L1111.25 1069.23L1112.25 1069.9L1113.25 1070.51L1114.25 1071.03L1115.25 1071.47L1116.25 1071.84L1117.25 1072.16L1118.25 1072.44L1119.25 1072.68L1120.25 1072.86L1121.25 1072.96L1122.25 1072.98L1123.25 1072.93L1124.25 1072.82L1125.25 1072.67L1126.25 1072.5L1127.25 1072.33L1128.25 1072.14L1129.25 1071.95L1130.25 1071.74L1131.25 1071.53L1132.25 1071.33L1133.25 1071.16L1134.25 1071.05L1135.25 1071.01L1136.25 1071.05L1137.25 1071.14L1138.25 1071.27L1139.25 1071.43L1140.25 1071.65L1141.25 1071.94L1142.25 1072.31L1143.25 1072.77L1144.25 1073.29L1145.25 1073.85L1146.25 1074.43L1147.25 1075.03L1148.25 1075.64L1149.25 1076.28L1150.25 1076.95L1151.25 1077.63L1152.25 1078.32L1153.25 1079L1154.25 1079.68L1155.25 1080.37L1156.25 1081.09L1157.25 1081.85L1158.25 1082.71L1159.25 1083.66L1160.25 1084.75L1161.25 1085.97L1162.25 1087.33L1163.25 1088.82L1164.25 1090.49L1165.25 1092.36L1166.25 1094.43L1167.25 1096.72L1168.25 1099.24L1169.25 1101.99L1170.25 1104.95L1171.25 1108.1L1172.25 1111.46L1173.25 1115.04L1174.25 1118.82L1175.25 1122.74L1176.25 1126.75L1177.25 1130.81L1178.25 1134.86L1179.25 1138.84L1180.25 1142.8L1181.25 1146.81L1182.25 1150.92L1183.25 1155.1L1184.25 1159.25L1185.25 1163.27L1186.25 1167.06L1187.25 1170.54L1188.25 1173.71L1189.25 1176.63L1190.25 1179.38L1191.25 1182.01L1192.25 1184.48L1193.25 1186.78L1194.25 1188.88L1195.25 1190.78L1196.25 1192.47L1197.25 1193.92L1198.25 1195.18L1199.25 1196.25L1200.25 1197.16L1201.25 1197.92L1202.25 1198.55L1203.25 1199.06L1204.25 1199.46L1205.25 1199.75L1206.25 1199.95L1207.25 1200.09L1208.25 1200.21L1209.25 1200.32L1210.25 1200.4L1211.25 1200.46L1212.25 1200.5Z" fill="#F5DEB3" stroke="#000" stroke-width="1.1" stroke-linejoin="round"/>
<path d="M926.9 1220.24V687.81" stroke="#006400" stroke-width="1.5" stroke-dasharray="6 6" stroke-linecap="round" fill="none" clip-path="url(#cb4)"/>
<path d="M1004.18 1220.24V687.81" stroke="#006400" stroke-width="1.5" stroke-dasharray="6 6" stroke-linecap="round" fill="none" clip-path="url(#cb4)"/>
<path d="M1016.8 703.5H1041.2" stroke="#006400" stroke-width="1.3" stroke-dasharray="1.4 3.1" fill="none"/>
<path d="M1016.8 719H1041.2" stroke="#CD3333" stroke-width="1.3" stroke-dasharray="1.4 3.1" fill="none"/>
<ellipse cx="1029" cy="734.6" rx="3.1" ry="2.6" fill="#0000ff"/>
<g font-size="12.95">
<text x="1052.3" y="707.8">enrichment zone = 89</text>
<text x="1052.3" y="723.3">motif score threshold = 89.700</text>
<text x="1052.3" y="738.8">centrality p-val = -5.1149</text>
</g>
<rect x="699.76" y="687.81" width="532.43" height="532.43" fill="none" stroke="#000" stroke-width="0.75"/>
<path d="M705.02 1220.24v6.0M791.86 1220.24v6.0M878.7 1220.24v6.0M965.54 1220.24v6.0M1052.38 1220.24v6.0M1139.22 1220.24v6.0M1226.06 1220.24v6.0M699.76 1200.5h-6.0M699.76 1099.61h-6.0M699.76 998.72h-6.0M699.76 897.83h-6.0M699.76 796.94h-6.0M699.76 696.05h-6.0M705.02 1220.24H1226.06M699.76 1200.5V696.05" fill="none" stroke="#000" stroke-width="0.75"/>
<g font-size="10" text-anchor="middle">
<text x="705.02" y="1241.5">-600</text>
<text x="791.86" y="1241.5">-400</text>
<text x="878.7" y="1241.5">-200</text>
<text x="965.54" y="1241.5">0</text>
<text x="1052.38" y="1241.5">200</text>
<text x="1139.22" y="1241.5">400</text>
<text x="1226.06" y="1241.5">600</text>
<text transform="translate(684.6 1200.5) rotate(-90)">0.0000</text>
<text transform="translate(684.6 1099.61) rotate(-90)">0.0005</text>
<text transform="translate(684.6 998.72) rotate(-90)">0.0010</text>
<text transform="translate(684.6 897.83) rotate(-90)">0.0015</text>
<text transform="translate(684.6 796.94) rotate(-90)">0.0020</text>
<text transform="translate(684.6 696.05) rotate(-90)">0.0025</text>
</g>
<text x="965.98" y="672" font-size="21.5" font-weight="bold" text-anchor="middle">Enrichment zone: 89.00</text>
<text x="965.98" y="1265.5" font-size="15.75" text-anchor="middle">Distance to peak summit</text>
<text transform="translate(661.8 954.02) rotate(-90)" font-size="15.75" text-anchor="middle">Density</text>
</svg></body></html>
